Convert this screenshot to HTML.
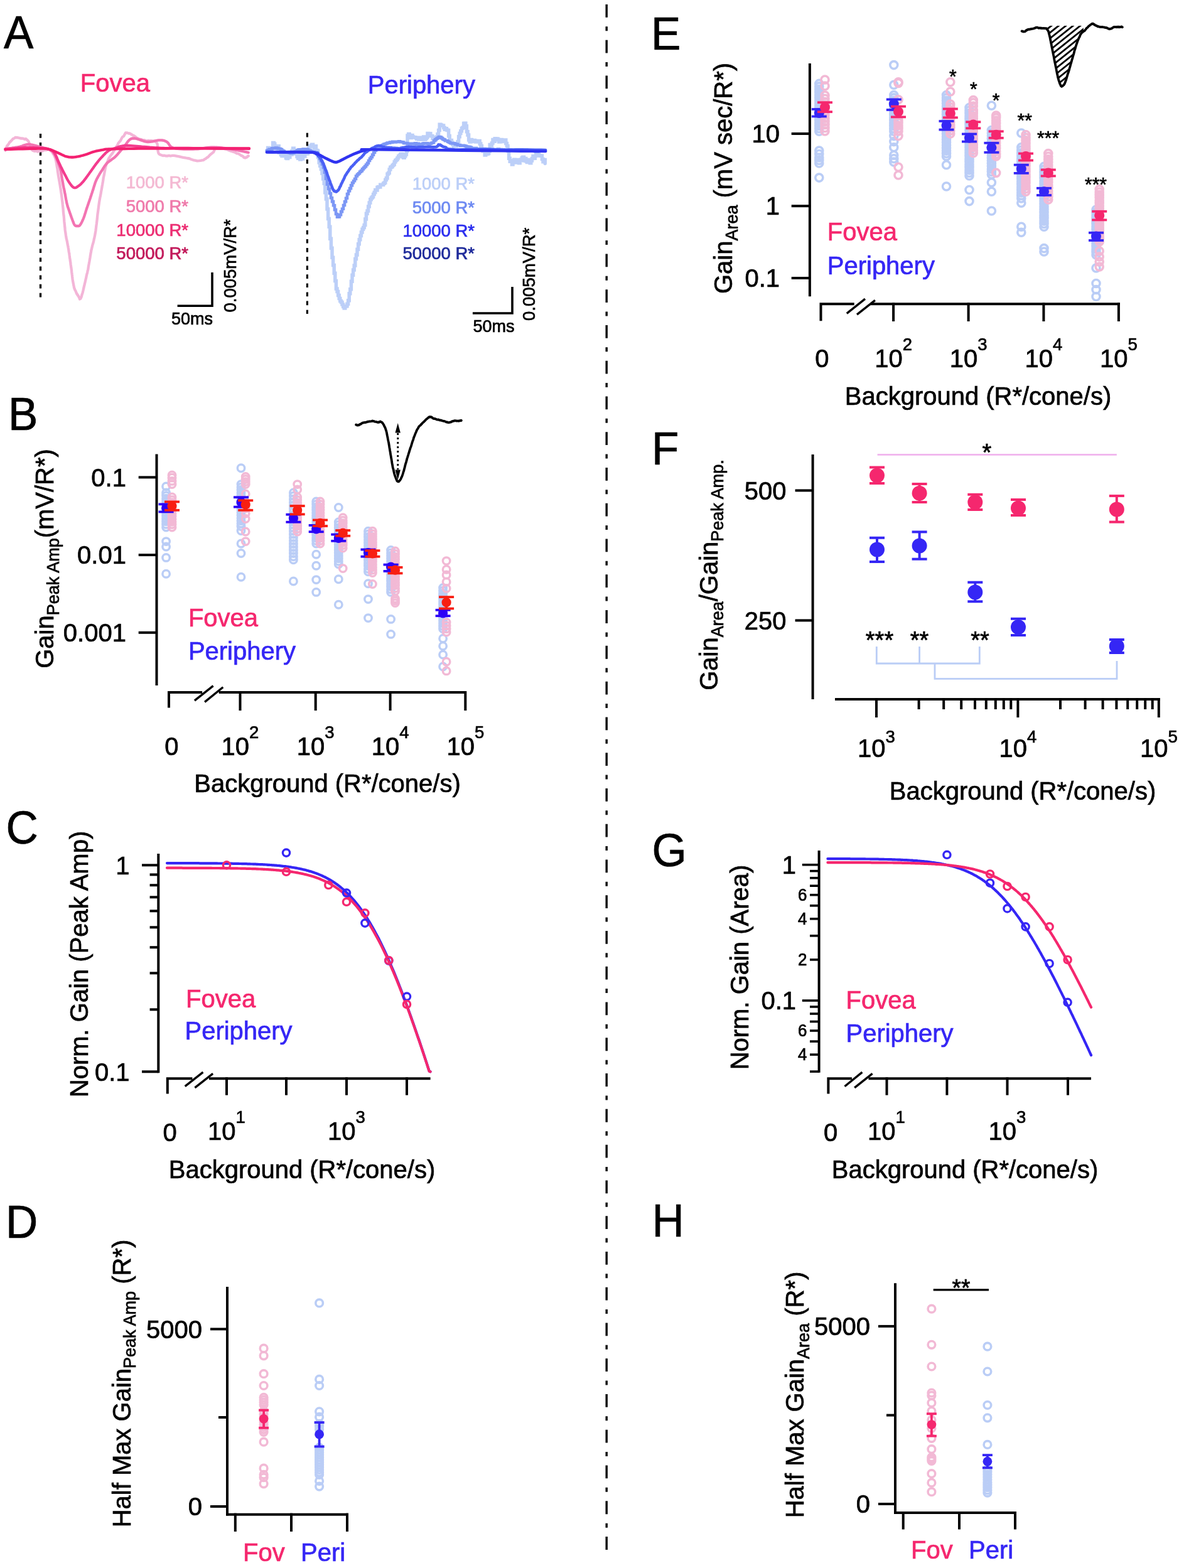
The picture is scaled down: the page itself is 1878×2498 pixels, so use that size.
<!DOCTYPE html>
<html><head><meta charset="utf-8"><title>Figure</title>
<style>
html,body{margin:0;padding:0;background:#fff;}
svg{display:block;}
text{font-family:'Liberation Sans', Arial, Helvetica, sans-serif;}
</style></head>
<body>
<svg width="1878" height="2498" viewBox="0 0 1878 2498">
<rect width="1878" height="2498" fill="#fff"/>
<line x1="966.2" y1="7" x2="966.2" y2="2470" stroke="#000" stroke-width="3.4" stroke-dasharray="20.8 14.5 7 14.47"/>
<text x="6" y="77" font-size="71" fill="#000" stroke="#000" stroke-width="0.7" text-anchor="start" transform="translate(6 77) scale(1 1.035) translate(-6 -77)" >A</text>
<text x="13" y="685" font-size="71" fill="#000" stroke="#000" stroke-width="0.7" text-anchor="start" transform="translate(13 685) scale(1 1.035) translate(-13 -685)" >B</text>
<text x="9.5" y="1344" font-size="71" fill="#000" stroke="#000" stroke-width="0.7" text-anchor="start" transform="translate(9.5 1344) scale(1 1.035) translate(-9.5 -1344)" >C</text>
<text x="9" y="1972" font-size="71" fill="#000" stroke="#000" stroke-width="0.7" text-anchor="start" transform="translate(9 1972) scale(1 1.035) translate(-9 -1972)" >D</text>
<text x="1037" y="79" font-size="71" fill="#000" stroke="#000" stroke-width="0.7" text-anchor="start" transform="translate(1037 79) scale(1 1.035) translate(-1037 -79)" >E</text>
<text x="1038" y="740" font-size="71" fill="#000" stroke="#000" stroke-width="0.7" text-anchor="start" transform="translate(1038 740) scale(1 1.035) translate(-1038 -740)" >F</text>
<text x="1038.5" y="1380.5" font-size="71" fill="#000" stroke="#000" stroke-width="0.7" text-anchor="start" transform="translate(1038.5 1380.5) scale(1 1.035) translate(-1038.5 -1380.5)" >G</text>
<text x="1038.5" y="1970" font-size="71" fill="#000" stroke="#000" stroke-width="0.7" text-anchor="start" transform="translate(1038.5 1970) scale(1 1.035) translate(-1038.5 -1970)" >H</text>
<text x="127.8" y="146" font-size="40" fill="#F5276E" stroke="#F5276E" stroke-width="0.7" text-anchor="start" transform="translate(127.8 146) scale(1 1.035) translate(-127.8 -146)" >Fovea</text>
<text x="585.8" y="148.7" font-size="40" fill="#3526F5" stroke="#3526F5" stroke-width="0.7" text-anchor="start" transform="translate(585.8 148.7) scale(1 1.035) translate(-585.8 -148.7)" >Periphery</text>
<line x1="64.5" y1="213" x2="64.5" y2="477" stroke="#000" stroke-width="3.3" stroke-dasharray="6.7 7.4"/>
<line x1="489.4" y1="211.7" x2="489.4" y2="500" stroke="#000" stroke-width="3.2" stroke-dasharray="6.7 7.4"/>
<path d="M8.5,239.7 L8.7,239.4 L8.9,238.7 L9.2,238.2 L9.4,237.6 L9.7,236.1 L10.1,234.8 L10.5,234.6 L10.9,233.4 L11.3,232.2 L11.8,232.1 L12.4,231 L13,230.5 L13.7,229.4 L14.4,228.5 L15.1,226.9 L15.9,226.2 L16.7,225.6 L17.6,224.4 L18.5,223.7 L19.5,222.8 L20.4,221.2 L21.5,220.9 L22.5,220.4 L23.6,219.6 L24.8,218.8 L26,219.3 L27.4,219.1 L28.8,219.4 L30.2,219.8 L31.7,220 L33.1,220.5 L34.6,220.3 L35.9,220.7 L37.2,220.7 L38.3,221.4 L39.3,221.9 L40.2,221.3 L40.9,221.1 L41.6,221.3 L42.2,222.4 L42.7,222.5 L43.2,223 L43.6,223.1 L44,223.7 L44.5,224.1 L44.9,224.5 L45.4,225.4 L45.9,226.3 L46.4,227.6 L46.9,228.6 L47.4,230 L47.8,231.3 L48.3,232.8 L48.7,233.9 L49.2,234.4 L49.7,236 L50.3,237.5 L50.9,238.7 L51.6,239.3 L52.4,240 L53.3,239.9 L54.2,240.7 L55.3,240.9 L56.4,240.7 L57.6,240.3 L58.8,241 L60,241.6 L61.2,240.8 L62.3,241.1 L63.4,240.8 L64.5,240.3 L65.5,240.1 L66.4,240.5 L67.3,240.8 L68.2,239.9 L69.1,239.8 L69.9,239 L70.7,239.2 L71.5,238.7 L72.2,239 L73,239.2 L73.7,238.7 L74.3,238.9 L75,238.3 L75.6,237.7 L76.2,237.9 L76.8,237.5 L77.3,237.4 L77.8,237.7 L78.3,238.2 L78.7,238 L79.2,237.9 L79.7,239 L80.1,239.1 L80.5,240 L81,240.7 L81.5,240.7 L81.9,241 L82.4,241.4 L82.8,242 L83.2,242.6 L83.7,243.2 L84.1,243.8 L84.5,244.9 L84.9,245.3 L85.3,245.7 L85.6,246.6 L86,246.9 L86.3,247.4 L86.7,248.9 L87,249.5 L87.3,250.2 L87.6,250.3 L87.9,251.2 L88.1,252.3 L88.4,252.7 L88.7,254.2 L88.9,255.5 L89.2,256.2 L89.5,257.8 L89.8,259.3 L90.1,261 L90.3,262.4 L90.6,264.3 L90.9,266.3 L91.1,267.3 L91.4,268.8 L91.7,271.2 L92,273.9 L92.3,275.4 L92.6,277.4 L92.9,279.7 L93.3,281.6 L93.6,283.7 L94,285.8 L94.4,288.1 L94.9,290.8 L95.3,293 L95.7,295.4 L96.1,298.4 L96.5,300.3 L96.9,303.1 L97.3,306.1 L97.7,308.4 L98,310.7 L98.4,314 L98.7,316.4 L99,319 L99.4,322 L99.7,325.3 L100,327.7 L100.3,330.6 L100.6,333.4 L100.8,336.8 L101.1,339.4 L101.4,342.4 L101.7,344.4 L101.9,346.7 L102.1,349.4 L102.3,352.2 L102.5,354.3 L102.7,356.2 L102.9,358.1 L103.1,360.6 L103.4,362.6 L103.6,365.5 L103.9,368.1 L104.2,369.9 L104.5,372 L104.9,374.8 L105.3,377.2 L105.7,379.8 L106.2,381.7 L106.6,383.5 L107.1,385.7 L107.5,388.5 L107.9,390.4 L108.4,392.5 L108.7,394.6 L109.1,396.7 L109.4,398.7 L109.7,401.3 L110.1,402.6 L110.3,403.9 L110.6,406.6 L110.9,408.7 L111.1,410.9 L111.4,412.2 L111.7,414.3 L111.9,416.2 L112.2,417.3 L112.4,419.3 L112.6,421.3 L112.9,423.1 L113.1,424.7 L113.3,426.2 L113.6,427.9 L113.8,429.5 L114,431.1 L114.2,433.3 L114.4,435 L114.7,437.3 L114.9,438.4 L115.1,440.7 L115.3,442.4 L115.5,444.3 L115.8,446.1 L116,447.7 L116.2,448.8 L116.4,449.3 L116.6,451.1 L116.9,451.9 L117.1,453 L117.3,454.6 L117.6,455.7 L117.8,456.7 L118,458.2 L118.3,459 L118.5,459.5 L118.8,459.8 L119,461 L119.3,461.5 L119.6,462.4 L119.8,462.6 L120.1,462.7 L120.4,463.5 L120.7,464.5 L121,464.7 L121.3,465.8 L121.7,466.9 L122.1,467.8 L122.5,468.6 L122.9,468.4 L123.3,469.4 L123.7,470.5 L124.1,470.4 L124.4,470.9 L124.8,471.4 L125.1,472.2 L125.4,472.7 L125.7,473.3 L125.9,474.1 L126.1,473.9 L126.2,473.9 L126.4,474.2 L126.6,474.5 L126.7,474.6 L126.8,475.9 L127,476.5 L127.1,476 L127.3,476.2 L127.5,476 L127.7,475.8 L127.9,475.7 L128.1,475.9 L128.3,475.9 L128.5,475.5 L128.7,474.9 L128.9,474.5 L129.1,473.7 L129.4,473.5 L129.6,473.2 L129.9,472.2 L130.2,470.8 L130.5,469.5 L130.9,468.4 L131.3,467.3 L131.7,466.1 L132.1,464.2 L132.5,462.7 L132.9,460.9 L133.4,458.8 L133.8,456.7 L134.3,454.9 L134.7,453.3 L135.1,451.3 L135.5,449.8 L135.9,447.9 L136.4,445.7 L136.8,444.1 L137.2,442.5 L137.6,440.1 L138,438.4 L138.4,436.6 L138.9,435.3 L139.2,433.9 L139.6,431.7 L140,430.2 L140.4,428.5 L140.7,426.1 L141,424.1 L141.4,421.8 L141.7,420.4 L142,418.7 L142.3,417.2 L142.6,415.5 L142.9,413.7 L143.2,412 L143.5,410.1 L143.8,407.8 L144.1,406.5 L144.4,404.4 L144.6,402.9 L144.9,402.2 L145.1,400.5 L145.4,399 L145.6,397.6 L145.9,397.2 L146.2,395.6 L146.5,393.8 L146.8,393.1 L147.1,391.2 L147.5,390.2 L147.8,388.9 L148.2,387.7 L148.6,386.5 L149,384.7 L149.4,383.2 L149.8,380.7 L150.3,379.2 L150.7,377.2 L151.1,375.2 L151.6,372.3 L152,370.1 L152.4,367.8 L152.9,363.8 L153.3,360.2 L153.8,356.8 L154.2,353.5 L154.7,349.2 L155.1,345 L155.5,341 L156,337.6 L156.4,334.4 L156.9,330.8 L157.3,327.5 L157.7,324.6 L158.1,321.8 L158.5,319.3 L159,316.4 L159.4,314.3 L159.8,312.8 L160.2,310.3 L160.6,308.4 L161,305.6 L161.4,303.7 L161.8,301.6 L162.2,299.3 L162.6,296.7 L163.1,294.1 L163.5,291.6 L163.9,289.4 L164.4,286.1 L164.8,283 L165.3,281 L165.7,279 L166.2,276.5 L166.6,274.1 L167,272.2 L167.4,269.8 L167.8,267.9 L168.1,266.2 L168.5,265.2 L168.8,263.8 L169.1,262.5 L169.4,261.9 L169.7,261.5 L170,260.1 L170.4,259.3 L170.8,258.2 L171.2,257.5 L171.7,256.4 L172.2,254.8 L172.8,253.4 L173.4,251.9 L174.1,251.2 L174.7,250.2 L175.4,248.9 L176.1,247.9 L176.8,246.9 L177.5,246.4 L178.2,244.9 L178.9,244.6 L179.6,243.4 L180.2,242.3 L180.9,241.1 L181.5,240.4 L182.2,239.5 L182.8,238.2 L183.4,236.9 L184.1,236 L184.7,235.2 L185.4,233.7 L186,232.7 L186.7,232 L187.4,230.6 L188.1,228.9 L188.9,227.5 L189.7,226.7 L190.4,225.7 L191.3,224.9 L192.1,223.9 L192.9,222.1 L193.7,220.5 L194.4,219.3 L195.2,218.1 L195.9,217.7 L196.6,217.3 L197.2,216.9 L197.7,215.6 L198.1,215.3 L198.5,214.2 L198.8,213.5 L199.2,213.2 L199.6,212.2 L200.1,211.5 L200.7,211.9 L201.5,211.6 L202.4,211.5 L203.5,211.9 L204.8,212.5 L206.3,212.5 L208,213.3 L209.8,214.4 L211.8,215.6 L213.8,216.5 L215.8,218 L217.9,219.8 L220,220.6 L222.1,221.6 L224.1,221.9 L226,222.5 L227.9,223.4 L230,223.2 L232.1,224.1 L234.2,224.5 L236.3,223.8 L238.4,224.4 L240.4,224.1 L242.4,224.4 L244.2,224.8 L245.9,224.7 L247.4,225.4 L248.7,226.3 L249.7,227.7 L250.4,228.6 L250.8,230.6 L251,232.8 L251.1,234.7 L251.2,236.5 L251.3,237.8 L251.5,239.9 L251.8,241.6 L252.3,243.6 L253.2,245.2 L254.4,246.2 L255.9,246.6 L257.7,247.4 L259.7,248 L261.8,247.7 L264.1,248.4 L266.6,248.5 L269.1,247.9 L271.7,248.5 L274.4,247.9 L277.1,247.9 L279.9,248.4 L282.6,248.9 L285.4,249.4 L288.4,250.2 L291.6,250.8 L294.9,251.4 L298.2,252 L301.5,252.5 L304.9,253.9 L308.1,255.1 L311.2,255.6 L314.2,256.3 L316.9,256.1 L319.4,255.8 L321.7,255.3 L323.8,255.2 L325.8,253.7 L327.6,252.8 L329.3,251.3 L331,250.5 L332.5,249 L333.9,247.4 L335.3,246.1 L336.6,245 L337.8,244.2 L339,243 L340,242.5 L340.8,240.9 L341.3,239.8 L341.7,238.5 L342.1,237.4 L342.4,237.3 L342.8,236.9 L343.3,235.8 L343.9,235 L344.8,234.7 L346,235 L347.6,235.4 L349.6,235.8 L352.1,236.2 L354.9,236.4 L358,237.3 L361.3,238 L364.6,239.4 L368,240.8 L371.2,241.7 L374.3,242.7 L377.1,244.3 L379.6,244.7 L381.6,246 L383.2,247.1 L384.5,248.1 L385.6,248.2 L386.4,248.7 L387.1,249.1 L387.6,249.7 L388,250.5 L388.3,250.8 L388.7,250.6 L389.1,251.2 L389.5,251.2 L390,251.3 L390.6,251.5 L391.2,250.7 L391.7,251 L392.3,251 L392.9,250.6 L393.4,250.3 L393.9,249.9 L394.3,249.2 L394.7,249.1 L395.1,248.4 L395.4,248.4 L395.7,248.6" stroke="#F3B5D7" stroke-width="4.3" fill="none" stroke-linejoin="round" stroke-linecap="round" />
<path d="M8.5,237 L9.8,236.8 L11.5,236.6 L13.6,236.4 L15.9,236.1 L18.3,235.8 L20.8,235.4 L23.4,235.1 L25.8,234.7 L28,234.4 L30,234 L31.8,233.6 L33.4,233.2 L35,232.7 L36.5,232.1 L37.9,231.6 L39.3,231.1 L40.7,230.7 L42.1,230.4 L43.5,230.1 L45,230 L46.5,230 L48,230.1 L49.5,230.4 L51,230.6 L52.5,231 L54,231.4 L55.5,231.8 L57,232.2 L58.5,232.6 L60,233 L61.5,233.4 L63.1,233.8 L64.8,234.2 L66.4,234.6 L68,235 L69.6,235.5 L71.1,235.9 L72.6,236.3 L73.9,236.7 L75,237 L76,237.3 L76.8,237.5 L77.5,237.7 L78.2,237.8 L78.7,238 L79.2,238.1 L79.7,238.3 L80.2,238.6 L80.7,238.9 L81.3,239.3 L81.9,239.8 L82.5,240.3 L83.1,240.9 L83.7,241.6 L84.3,242.2 L84.9,242.9 L85.4,243.7 L86,244.4 L86.5,245.2 L87,246 L87.5,246.8 L87.9,247.6 L88.3,248.3 L88.7,249.1 L89,250 L89.4,250.9 L89.8,251.8 L90.1,252.8 L90.6,253.8 L91,255 L91.5,256.2 L92,257.6 L92.6,258.9 L93.1,260.4 L93.7,261.9 L94.3,263.4 L94.8,265 L95.3,266.6 L95.8,268.3 L96.3,270 L96.7,271.7 L97.1,273.5 L97.4,275.4 L97.7,277.3 L98,279.2 L98.3,281.2 L98.6,283.1 L98.9,285.1 L99.3,287.1 L99.6,289 L100,290.9 L100.4,292.9 L100.7,294.9 L101.1,296.9 L101.5,298.9 L102,300.9 L102.4,302.8 L102.7,304.8 L103.1,306.7 L103.5,308.5 L103.9,310.3 L104.2,312.1 L104.5,313.9 L104.8,315.6 L105.1,317.4 L105.5,319.1 L105.8,320.7 L106.1,322.3 L106.4,323.8 L106.8,325.3 L107.2,326.7 L107.5,328 L107.9,329.2 L108.3,330.4 L108.7,331.6 L109.1,332.7 L109.5,333.8 L109.9,335 L110.3,336.1 L110.7,337.3 L111.1,338.5 L111.5,339.8 L112,341 L112.4,342.3 L112.9,343.5 L113.3,344.8 L113.7,346 L114.2,347.2 L114.6,348.3 L115,349.4 L115.4,350.5 L115.8,351.5 L116.2,352.6 L116.6,353.6 L117,354.6 L117.3,355.6 L117.7,356.4 L118.1,357.2 L118.5,357.9 L118.9,358.5 L119.3,359 L119.7,359.3 L120.1,359.6 L120.5,359.8 L120.9,359.9 L121.3,360 L121.7,360 L122.2,360 L122.6,360 L123,360 L123.4,360 L123.9,360.1 L124.3,360.1 L124.7,360.1 L125.1,360.1 L125.6,360 L126,359.8 L126.5,359.5 L127,359.1 L127.5,358.5 L128,357.8 L128.6,356.9 L129.2,355.9 L129.8,354.8 L130.4,353.6 L131,352.3 L131.6,351 L132.2,349.7 L132.8,348.3 L133.3,347 L133.8,345.7 L134.3,344.3 L134.8,342.9 L135.2,341.4 L135.7,339.9 L136.2,338.4 L136.6,336.9 L137.1,335.4 L137.5,334 L138,332.5 L138.5,331 L139,329.6 L139.5,328.1 L140,326.7 L140.5,325.2 L141,323.8 L141.5,322.3 L142,320.9 L142.5,319.4 L143,318 L143.5,316.6 L144,315.1 L144.4,313.7 L144.9,312.3 L145.4,310.9 L145.8,309.4 L146.3,308 L146.8,306.6 L147.2,305.1 L147.7,303.7 L148.2,302.2 L148.7,300.7 L149.1,299.2 L149.6,297.6 L150.1,296 L150.6,294.5 L151.1,293 L151.5,291.6 L152,290.3 L152.5,289 L153,287.8 L153.5,286.8 L153.9,285.7 L154.4,284.8 L154.9,283.9 L155.4,283 L155.9,282.1 L156.3,281.3 L156.8,280.4 L157.3,279.6 L157.8,278.8 L158.2,278 L158.6,277.3 L159,276.6 L159.4,276 L159.9,275.3 L160.3,274.5 L160.8,273.8 L161.4,272.9 L162,272 L162.7,271 L163.4,269.9 L164.1,268.7 L164.9,267.4 L165.7,266.2 L166.5,264.9 L167.4,263.6 L168.4,262.4 L169.4,261.1 L170.4,260 L171.5,258.9 L172.7,257.9 L174,257 L175.3,256 L176.7,255.1 L178,254.1 L179.4,253.1 L180.8,252.1 L182.2,251 L183.5,249.8 L184.8,248.5 L186.1,247.1 L187.4,245.7 L188.7,244.2 L190,242.7 L191.3,241.1 L192.6,239.6 L193.9,238 L195.3,236.5 L196.6,235 L197.9,233.4 L199.2,231.8 L200.4,230 L201.7,228.2 L202.9,226.5 L204.2,224.8 L205.6,223.4 L207.1,222.1 L208.8,221.1 L210.6,220.5 L212.6,220.3 L214.8,220.5 L217.2,220.9 L219.7,221.7 L222.2,222.5 L224.8,223.4 L227.4,224.3 L229.9,225.1 L232.3,225.7 L234.6,226 L236.8,226 L239,225.9 L241.1,225.6 L243.2,225.3 L245.3,224.8 L247.3,224.4 L249.2,224 L251.1,223.6 L252.8,223.4 L254.4,223.3 L255.9,223.3 L257.2,223.4 L258.4,223.5 L259.5,223.6 L260.6,223.9 L261.6,224.1 L262.6,224.5 L263.6,224.9 L264.6,225.4 L265.7,226 L266.7,226.7 L267.6,227.7 L268.4,228.7 L269.1,229.9 L269.9,231.1 L270.8,232.3 L271.9,233.4 L273.3,234.4 L275,235.3 L277,236 L279.5,236.5 L282.4,236.9 L285.7,237.2 L289.3,237.4 L293,237.5 L296.7,237.6 L300.5,237.6 L304.2,237.5 L307.7,237.5 L311,237.4 L314,237.3 L317,237 L319.8,236.7 L322.6,236.3 L325.3,235.9 L328.1,235.5 L330.8,235.2 L333.5,234.9 L336.2,234.7 L339,234.6 L341.8,234.6 L344.7,234.8 L347.5,234.9 L350.3,235.2 L353.2,235.5 L356,235.8 L358.9,236.2 L361.7,236.6 L364.6,237 L367.4,237.4 L370.4,237.9 L373.5,238.4 L376.8,239.1 L380.1,239.7 L383.3,240.4 L386.4,241 L389.3,241.6 L391.9,242.2 L394,242.7 L395.7,243" stroke="#F374B2" stroke-width="4.3" fill="none" stroke-linejoin="round" stroke-linecap="round" />
<path d="M8.5,238 L10.4,237.8 L12.9,237.5 L15.8,237.2 L19.1,236.8 L22.7,236.4 L26.4,236.1 L30,235.7 L33.6,235.4 L37,235.2 L40,235 L42.8,234.9 L45.6,234.9 L48.3,235 L51,235.1 L53.6,235.2 L56.1,235.3 L58.5,235.5 L60.8,235.7 L63,235.8 L65,236 L66.8,236.1 L68.5,236.3 L70.1,236.4 L71.5,236.6 L72.9,236.7 L74.1,236.9 L75.3,237.1 L76.4,237.4 L77.5,237.7 L78.6,238 L79.6,238.3 L80.5,238.6 L81.4,238.9 L82.2,239.3 L82.9,239.7 L83.6,240.1 L84.3,240.7 L85,241.3 L85.7,242.2 L86.5,243.2 L87.3,244.4 L88.1,245.9 L88.9,247.5 L89.7,249.3 L90.5,251.1 L91.2,253 L92,254.9 L92.8,256.8 L93.6,258.6 L94.4,260.3 L95.2,261.9 L96,263.6 L96.7,265.2 L97.5,266.7 L98.3,268.3 L99.1,269.9 L99.9,271.4 L100.6,273 L101.4,274.5 L102.2,276 L103,277.5 L103.8,279.1 L104.6,280.6 L105.4,282.1 L106.1,283.6 L106.9,285.1 L107.7,286.5 L108.5,287.9 L109.3,289.2 L110.1,290.4 L110.9,291.5 L111.7,292.7 L112.5,293.8 L113.3,294.8 L114.1,295.8 L114.8,296.7 L115.6,297.5 L116.4,298.1 L117.2,298.6 L118,299 L118.8,299.2 L119.6,299.2 L120.3,299 L121.1,298.8 L121.9,298.4 L122.7,297.9 L123.5,297.4 L124.2,296.8 L125,296.3 L125.8,295.7 L126.6,295.1 L127.3,294.5 L128.1,293.9 L128.8,293.2 L129.6,292.4 L130.3,291.6 L131.1,290.8 L132,289.9 L132.8,288.9 L133.7,287.8 L134.6,286.6 L135.6,285.3 L136.7,284 L137.7,282.5 L138.8,281 L139.9,279.5 L141,277.9 L142.1,276.4 L143.1,274.9 L144.2,273.4 L145.3,271.9 L146.3,270.5 L147.4,269 L148.5,267.5 L149.5,266 L150.6,264.5 L151.7,263 L152.7,261.6 L153.7,260.3 L154.7,259 L155.7,257.8 L156.6,256.6 L157.5,255.5 L158.4,254.4 L159.3,253.4 L160.2,252.4 L161.1,251.4 L162,250.4 L162.9,249.5 L163.8,248.5 L164.7,247.5 L165.6,246.6 L166.5,245.7 L167.4,244.7 L168.3,243.8 L169.2,243 L170.1,242.2 L171.1,241.4 L172,240.7 L173,240 L174,239.4 L174.9,238.9 L175.9,238.5 L176.8,238.1 L177.8,237.7 L178.8,237.4 L179.9,237.1 L181,236.7 L182.2,236.4 L183.5,236 L184.8,235.6 L186.2,235.1 L187.6,234.6 L189,234.1 L190.5,233.6 L192.1,233.2 L193.9,232.8 L195.7,232.4 L197.8,232.2 L200,232 L202.5,232 L205.1,232 L208,232.2 L211,232.4 L214.2,232.6 L217.4,232.9 L220.6,233.2 L223.8,233.5 L226.9,233.8 L230,234 L233,234.2 L235.8,234.4 L238.7,234.7 L241.5,234.9 L244.4,235.1 L247.3,235.3 L250.3,235.5 L253.4,235.7 L256.6,235.9 L260,236 L263.3,236.1 L266.4,236.1 L269.5,236.1 L272.5,236.1 L275.8,236.1 L279.4,236 L283.5,236 L288.2,236 L293.6,236 L300,236 L307.8,236.1 L317.3,236.2 L328,236.3 L339.4,236.4 L351,236.5 L362.4,236.6 L373.2,236.7 L382.9,236.8 L391,236.9 L397,237" stroke="#F43C8E" stroke-width="4.3" fill="none" stroke-linejoin="round" stroke-linecap="round" />
<path d="M8.5,238 L12.1,237.9 L17,237.8 L22.8,237.6 L29.3,237.4 L36.2,237.3 L43.1,237.1 L49.8,236.9 L56,236.8 L61.3,236.7 L65.5,236.7 L68.6,236.7 L70.9,236.7 L72.7,236.8 L73.9,236.8 L74.8,236.9 L75.5,237.1 L76.1,237.2 L76.7,237.4 L77.5,237.7 L78.6,238 L79.9,238.4 L81.2,238.8 L82.5,239.3 L83.8,239.8 L85.1,240.3 L86.5,240.9 L87.8,241.5 L89.1,242.1 L90.4,242.6 L91.7,243.2 L93,243.8 L94.4,244.4 L95.7,245.1 L97.1,245.7 L98.4,246.4 L99.7,247 L101.1,247.6 L102.3,248.2 L103.6,248.7 L104.8,249.1 L106,249.4 L107.1,249.7 L108.1,249.9 L109.2,250.1 L110.2,250.3 L111.2,250.4 L112.2,250.4 L113.2,250.5 L114.3,250.5 L115.3,250.5 L116.3,250.5 L117.4,250.4 L118.4,250.3 L119.4,250.2 L120.5,250.1 L121.5,249.9 L122.6,249.7 L123.6,249.5 L124.7,249.3 L125.8,249.1 L126.9,248.9 L128.1,248.6 L129.2,248.3 L130.4,248 L131.5,247.7 L132.7,247.4 L133.9,247 L135.1,246.7 L136.4,246.3 L137.6,245.9 L138.9,245.5 L140.1,245 L141.4,244.6 L142.7,244.1 L144.1,243.6 L145.4,243.1 L146.7,242.6 L148.1,242.1 L149.4,241.7 L150.7,241.3 L152,241 L153.3,240.6 L154.6,240.3 L155.9,240.1 L157.2,239.8 L158.6,239.6 L159.9,239.3 L161.2,239.1 L162.5,238.9 L163.8,238.7 L164.8,238.5 L165.5,238.4 L165.9,238.2 L166.2,238.1 L166.7,237.9 L167.4,237.8 L168.6,237.7 L170.5,237.6 L173.3,237.5 L177,237.4 L181.5,237.3 L186.6,237.2 L192.2,237.1 L198.3,237 L205.1,236.9 L212.6,236.8 L220.8,236.7 L229.7,236.6 L239.4,236.6 L250,236.5 L262.4,236.5 L277,236.4 L293.3,236.4 L310.5,236.4 L328.1,236.4 L345.2,236.5 L361.4,236.5 L375.8,236.5 L387.9,236.5 L397,236.5" stroke="#F42171" stroke-width="4.3" fill="none" stroke-linejoin="round" stroke-linecap="round" />
<path d="M425,239.5 L426.6,239.5 L426.6,235.6 L428.2,235.6 L428.2,236.4 L429.8,236.4 L429.8,238.2 L431.4,238.2 L431.4,236.3 L433,236.3 L433,237.7 L434.6,237.7 L434.6,227.5 L436.2,227.5 L436.2,229.2 L437.8,229.2 L437.8,235.6 L439.4,235.6 L439.4,234.7 L441,234.7 L441,238 L442.6,238 L442.6,232.7 L444.2,232.7 L444.2,243.3 L445.8,243.3 L445.8,243 L447.4,243 L447.4,246.6 L449,246.6 L449,248.4 L450.6,248.4 L450.6,242.4 L452.2,242.4 L452.2,242.8 L453.8,242.8 L453.8,243.7 L455.4,243.7 L455.4,251.7 L457,251.7 L457,252.6 L458.6,252.6 L458.6,245.5 L460.2,245.5 L460.2,250.5 L461.8,250.5 L461.8,243.7 L463.4,243.7 L463.4,246.2 L465,246.2 L465,240.3 L466.6,240.3 L466.6,236.2 L468.2,236.2 L468.2,245.1 L469.8,245.1 L469.8,240.6 L471.4,240.6 L471.4,239.8 L473,239.8 L473,249.4 L474.6,249.4 L474.6,252.3 L476.2,252.3 L476.2,247.1 L477.8,247.1 L477.8,254.1 L479.4,254.1 L479.4,251.9 L481,251.9 L481,253 L482.6,253 L482.6,246.9 L484.2,246.9 L484.2,249 L485.8,249 L485.8,243.3 L487.4,243.3 L487.4,244.9 L489,244.9 L489,244.7 L490.6,244.7 L490.6,237.4 L492.2,237.4 L492.2,235.6 L493.8,235.6 L493.8,232.7 L495.4,232.7 L495.4,231.5 L497,231.5 L497,230.3 L498.6,230.3 L498.6,233 L500.2,233 L500.2,237.8 L501.8,237.8 L501.8,232.7 L503.4,232.7 L503.4,239.6 L505,239.6 L505,240.3 L506.6,240.3 L506.6,250.6 L508.2,250.6 L508.2,259 L509.8,259 L509.8,264.2 L511.4,264.2 L511.4,269.4 L513,269.4 L513,276.3 L514.6,276.3 L514.6,284.9 L516.2,284.9 L516.2,292.2 L517.8,292.2 L517.8,306.7 L519.4,306.7 L519.4,317 L521,317 L521,333 L522.6,333 L522.6,348.4 L524.2,348.4 L524.2,361.2 L525.8,361.2 L525.8,380.3 L527.4,380.3 L527.4,395.3 L529,395.3 L529,410.3 L530.6,410.3 L530.6,422.4 L532.2,422.4 L532.2,435.2 L533.8,435.2 L533.8,447.4 L535.4,447.4 L535.4,460 L537,460 L537,464.5 L538.6,464.5 L538.6,470.6 L540.2,470.6 L540.2,475.4 L541.8,475.4 L541.8,479.5 L543.4,479.5 L543.4,481.5 L545,481.5 L545,485 L546.6,485 L546.6,488.6 L548.2,488.6 L548.2,491 L549.8,491 L549.8,488.1 L551.4,488.1 L551.4,487.7 L553,487.7 L553,484.3 L554.6,484.3 L554.6,478.8 L556.2,478.8 L556.2,467.7 L557.8,467.7 L557.8,460.8 L559.4,460.8 L559.4,448.2 L561,448.2 L561,438.3 L562.6,438.3 L562.6,429.9 L564.2,429.9 L564.2,422.9 L565.8,422.9 L565.8,412.6 L567.4,412.6 L567.4,406 L569,406 L569,397.2 L570.6,397.2 L570.6,388.7 L572.2,388.7 L572.2,381.8 L573.8,381.8 L573.8,375.5 L575.4,375.5 L575.4,370 L577,370 L577,365.3 L578.6,365.3 L578.6,362.4 L580.2,362.4 L580.2,358.6 L581.8,358.6 L581.8,349.1 L583.4,349.1 L583.4,340.2 L585,340.2 L585,336.1 L586.6,336.1 L586.6,328.9 L588.2,328.9 L588.2,322.9 L589.8,322.9 L589.8,317.8 L591.4,317.8 L591.4,315.2 L593,315.2 L593,313.4 L594.6,313.4 L594.6,309.6 L596.2,309.6 L596.2,306.5 L597.8,306.5 L597.8,302.5 L599.4,302.5 L599.4,303.1 L601,303.1 L601,298.6 L602.6,298.6 L602.6,297.8 L604.2,297.8 L604.2,297.9 L605.8,297.9 L605.8,294.2 L607.4,294.2 L607.4,294.4 L609,294.4 L609,294.5 L610.6,294.5 L610.6,292.3 L612.2,292.3 L612.2,291.1 L613.8,291.1 L613.8,286.5 L615.4,286.5 L615.4,283.8 L617,283.8 L617,277.2 L618.6,277.2 L618.6,275.4 L620.2,275.4 L620.2,270 L621.8,270 L621.8,266.5 L623.4,266.5 L623.4,265.8 L625,265.8 L625,263.6 L626.6,263.6 L626.6,261.9 L628.2,261.9 L628.2,257.9 L629.8,257.9 L629.8,255.4 L631.4,255.4 L631.4,254.3 L633,254.3 L633,251.7 L634.6,251.7 L634.6,249 L636.2,249 L636.2,247.7 L637.8,247.7 L637.8,245.6 L639.4,245.6 L639.4,245.3 L641,245.3 L641,249.7 L642.6,249.7 L642.6,251.2 L644.2,251.2 L644.2,248.7 L645.8,248.7 L645.8,246 L647.4,246 L647.4,240.4 L649,240.4 L649,215.9 L650.6,215.9 L650.6,213.5 L652.2,213.5 L652.2,217.6 L653.8,217.6 L653.8,219.6 L655.4,219.6 L655.4,215.5 L657,215.5 L657,217.9 L658.6,217.9 L658.6,218.7 L660.2,218.7 L660.2,218.8 L661.8,218.8 L661.8,219.3 L663.4,219.3 L663.4,221.3 L665,221.3 L665,219.2 L666.6,219.2 L666.6,222 L668.2,222 L668.2,219.2 L669.8,219.2 L669.8,219.8 L671.4,219.8 L671.4,222.3 L673,222.3 L673,222.1 L674.6,222.1 L674.6,218.1 L676.2,218.1 L676.2,222.2 L677.8,222.2 L677.8,220.5 L679.4,220.5 L679.4,218.7 L681,218.7 L681,212.4 L682.6,212.4 L682.6,214.7 L684.2,214.7 L684.2,212.8 L685.8,212.8 L685.8,216.5 L687.4,216.5 L687.4,216.7 L689,216.7 L689,220.8 L690.6,220.8 L690.6,221.3 L692.2,221.3 L692.2,223 L693.8,223 L693.8,219 L695.4,219 L695.4,217.9 L697,217.9 L697,213.7 L698.6,213.7 L698.6,207.6 L700.2,207.6 L700.2,198.2 L701.8,198.2 L701.8,199.2 L703.4,199.2 L703.4,200.3 L705,200.3 L705,199.9 L706.6,199.9 L706.6,203.6 L708.2,203.6 L708.2,206.2 L709.8,206.2 L709.8,204.8 L711.4,204.8 L711.4,207 L713,207 L713,207.5 L714.6,207.5 L714.6,216.6 L716.2,216.6 L716.2,223.4 L717.8,223.4 L717.8,223.4 L719.4,223.4 L719.4,227.1 L721,227.1 L721,230.4 L722.6,230.4 L722.6,232.9 L724.2,232.9 L724.2,229.2 L725.8,229.2 L725.8,232.8 L727.4,232.8 L727.4,230 L729,230 L729,225.8 L730.6,225.8 L730.6,217.7 L732.2,217.7 L732.2,212.5 L733.8,212.5 L733.8,208.7 L735.4,208.7 L735.4,204.6 L737,204.6 L737,203.2 L738.6,203.2 L738.6,196.5 L740.2,196.5 L740.2,196.2 L741.8,196.2 L741.8,200.7 L743.4,200.7 L743.4,209.7 L745,209.7 L745,215 L746.6,215 L746.6,223.1 L748.2,223.1 L748.2,226 L749.8,226 L749.8,222.5 L751.4,222.5 L751.4,225.6 L753,225.6 L753,224.9 L754.6,224.9 L754.6,223.6 L756.2,223.6 L756.2,224.2 L757.8,224.2 L757.8,226.1 L759.4,226.1 L759.4,225.5 L761,225.5 L761,225.5 L762.6,225.5 L762.6,224.4 L764.2,224.4 L764.2,229.1 L765.8,229.1 L765.8,232.4 L767.4,232.4 L767.4,237.9 L769,237.9 L769,240.7 L770.6,240.7 L770.6,240 L772.2,240 L772.2,247.1 L773.8,247.1 L773.8,242.6 L775.4,242.6 L775.4,245.2 L777,245.2 L777,244.4 L778.6,244.4 L778.6,240.8 L780.2,240.8 L780.2,230.4 L781.8,230.4 L781.8,232.1 L783.4,232.1 L783.4,227.9 L785,227.9 L785,222.6 L786.6,222.6 L786.6,225.2 L788.2,225.2 L788.2,220.8 L789.8,220.8 L789.8,222.8 L791.4,222.8 L791.4,221.1 L793,221.1 L793,222.3 L794.6,222.3 L794.6,225.9 L796.2,225.9 L796.2,225.8 L797.8,225.8 L797.8,222.4 L799.4,222.4 L799.4,225.2 L801,225.2 L801,225.4 L802.6,225.4 L802.6,224 L804.2,224 L804.2,223 L805.8,223 L805.8,228.5 L807.4,228.5 L807.4,232.5 L809,232.5 L809,240.5 L810.6,240.5 L810.6,252.2 L812.2,252.2 L812.2,257.2 L813.8,257.2 L813.8,256.9 L815.4,256.9 L815.4,262 L817,262 L817,255.7 L818.6,255.7 L818.6,254.3 L820.2,254.3 L820.2,257.7 L821.8,257.7 L821.8,258.9 L823.4,258.9 L823.4,254.6 L825,254.6 L825,257 L826.6,257 L826.6,259.7 L828.2,259.7 L828.2,255.4 L829.8,255.4 L829.8,254 L831.4,254 L831.4,251.2 L833,251.2 L833,250.3 L834.6,250.3 L834.6,255.9 L836.2,255.9 L836.2,252.4 L837.8,252.4 L837.8,256.8 L839.4,256.8 L839.4,258.6 L841,258.6 L841,257.4 L842.6,257.4 L842.6,254.5 L844.2,254.5 L844.2,259.7 L845.8,259.7 L845.8,256 L847.4,256 L847.4,252.4 L849,252.4 L849,248.7 L850.6,248.7 L850.6,252.3 L852.2,252.3 L852.2,248.6 L853.8,248.6 L853.8,245.6 L855.4,245.6 L855.4,246.4 L857,246.4 L857,243.8 L858.6,243.8 L858.6,247.8 L860.2,247.8 L860.2,248.2 L861.8,248.2 L861.8,247.9 L863.4,247.9 L863.4,253.5 L865,253.5 L865,257.8 L866.6,257.8 L866.6,254.5 L868.2,254.5 L868.2,260.6" stroke="#BCCFF8" stroke-width="5.5" fill="none" stroke-linejoin="miter" stroke-linecap="round" />
<path d="M425,239.9 L427,239.9 L427,239 L429,239 L429,237.7 L431,237.7 L431,237.8 L433,237.8 L433,236.2 L435,236.2 L435,236 L437,236 L437,236.5 L439,236.5 L439,235.5 L441,235.5 L441,236 L443,236 L443,236.9 L445,236.9 L445,237 L447,237 L447,238.1 L449,238.1 L449,239.8 L451,239.8 L451,240.8 L453,240.8 L453,242.2 L455,242.2 L455,242.4 L457,242.4 L457,242.8 L459,242.8 L459,242.9 L461,242.9 L461,243.5 L463,243.5 L463,244.1 L465,244.1 L465,243.6 L467,243.6 L467,243.1 L469,243.1 L469,241.8 L471,241.8 L471,241.2 L473,241.2 L473,239.5 L475,239.5 L475,238.5 L477,238.5 L477,238.4 L479,238.4 L479,238.4 L481,238.4 L481,238.1 L483,238.1 L483,237.5 L485,237.5 L485,237.7 L487,237.7 L487,237.9 L489,237.9 L489,238.4 L491,238.4 L491,239.9 L493,239.9 L493,240 L495,240 L495,241.5 L497,241.5 L497,242.6 L499,242.6 L499,242.3 L501,242.3 L501,243.1 L503,243.1 L503,244.1 L505,244.1 L505,245 L507,245 L507,248.5 L509,248.5 L509,253 L511,253 L511,256.5 L513,256.5 L513,261.7 L515,261.7 L515,266.9 L517,266.9 L517,274.7 L519,274.7 L519,284.7 L521,284.7 L521,293.6 L523,293.6 L523,301.1 L525,301.1 L525,308 L527,308 L527,315.2 L529,315.2 L529,321.1 L531,321.1 L531,327.3 L533,327.3 L533,334.1 L535,334.1 L535,341 L537,341 L537,345.8 L539,345.8 L539,345.5 L541,345.5 L541,342.2 L543,342.2 L543,337.1 L545,337.1 L545,332.7 L547,332.7 L547,327 L549,327 L549,321.3 L551,321.3 L551,315.8 L553,315.8 L553,309 L555,309 L555,304.3 L557,304.3 L557,300.1 L559,300.1 L559,295.4 L561,295.4 L561,291.2 L563,291.2 L563,288.3 L565,288.3 L565,285 L567,285 L567,280.5 L569,280.5 L569,278 L571,278 L571,276.3 L573,276.3 L573,273.7 L575,273.7 L575,272.1 L577,272.1 L577,269.4 L579,269.4 L579,267.2 L581,267.2 L581,265.1 L583,265.1 L583,262.5 L585,262.5 L585,259.9 L587,259.9 L587,256 L589,256 L589,252.8 L591,252.8 L591,250.2 L593,250.2 L593,246.6 L595,246.6 L595,243 L597,243 L597,239.7 L599,239.7 L599,237.9 L601,237.9 L601,236.1 L603,236.1 L603,233.8 L605,233.8 L605,233.4 L607,233.4 L607,232 L609,232 L609,231 L611,231 L611,229.8 L613,229.8 L613,229.2 L615,229.2 L615,228.5 L617,228.5 L617,227.5 L619,227.5 L619,227.6 L621,227.6 L621,226.6 L623,226.6 L623,226.9 L625,226.9 L625,225.7 L627,225.7 L627,226.2 L629,226.2 L629,226.4 L631,226.4 L631,225.9 L633,225.9 L633,226 L635,226 L635,225.4 L637,225.4 L637,226.1 L639,226.1 L639,226.3 L641,226.3 L641,226.5 L643,226.5 L643,228 L645,228 L645,228.1 L647,228.1 L647,228.3 L649,228.3 L649,229.2 L651,229.2 L651,228.9 L653,228.9 L653,229.2 L655,229.2 L655,228.7 L657,228.7 L657,229.5 L659,229.5 L659,229 L661,229 L661,228.4 L663,228.4 L663,229.6 L665,229.6 L665,228.9 L667,228.9 L667,229.8 L669,229.8 L669,230.4 L671,230.4 L671,230.1 L673,230.1 L673,228.9 L675,228.9 L675,228.4 L677,228.4 L677,228.3 L679,228.3 L679,228.4 L681,228.4 L681,228.8 L683,228.8 L683,229.5 L685,229.5 L685,228.8 L687,228.8 L687,227.8 L689,227.8 L689,227.2 L691,227.2 L691,224.2 L693,224.2 L693,222.2 L695,222.2 L695,220.8 L697,220.8 L697,219.5 L699,219.5 L699,218 L701,218 L701,218.6 L703,218.6 L703,220.1 L705,220.1 L705,221.8 L707,221.8 L707,222.6 L709,222.6 L709,224.3 L711,224.3 L711,224.3 L713,224.3 L713,225.6 L715,225.6 L715,226.8 L717,226.8 L717,228 L719,228 L719,228.4 L721,228.4 L721,228.3 L723,228.3 L723,228.5 L725,228.5 L725,229.6 L727,229.6 L727,229.9 L729,229.9 L729,231 L731,231 L731,231 L733,231 L733,232.2 L735,232.2 L735,232.1 L737,232.1 L737,231.9 L739,231.9 L739,232.2 L741,232.2 L741,232.9 L743,232.9 L743,233.6 L745,233.6 L745,233.9 L747,233.9 L747,234 L749,234 L749,234.8 L751,234.8 L751,236.1 L753,236.1 L753,236.3 L755,236.3 L755,237.1 L757,237.1 L757,236.1 L759,236.1 L759,237.2 L761,237.2 L761,237.7 L763,237.7 L763,237.5 L765,237.5 L765,237.4 L767,237.4 L767,237.4 L769,237.4 L769,238 L771,238 L771,237.1 L773,237.1 L773,237.5 L775,237.5 L775,237.6 L777,237.6 L777,237.3 L779,237.3 L779,237.9 L781,237.9 L781,238.2 L783,238.2 L783,237.5 L785,237.5 L785,238 L787,238 L787,238 L789,238 L789,238 L791,238 L791,238.3 L793,238.3 L793,237.6 L795,237.6 L795,238.1 L797,238.1 L797,238 L799,238 L799,238.9 L801,238.9 L801,238.3 L803,238.3 L803,239 L805,239 L805,239.2 L807,239.2 L807,239.2 L809,239.2 L809,239.6 L811,239.6 L811,238.6 L813,238.6 L813,238.9 L815,238.9 L815,239.1 L817,239.1 L817,239.4 L819,239.4 L819,239.1 L821,239.1 L821,238.5 L823,238.5 L823,238.3 L825,238.3 L825,238.9 L827,238.9 L827,238.6 L829,238.6 L829,238.3 L831,238.3 L831,238.6 L833,238.6 L833,239 L835,239 L835,239.3 L837,239.3 L837,238.7 L839,238.7 L839,239.6 L841,239.6 L841,239.4 L843,239.4 L843,240.1 L845,240.1 L845,239.2 L847,239.2 L847,240.3 L849,240.3 L849,240.3 L851,240.3 L851,241 L853,241 L853,241.4 L855,241.4 L855,241.4 L857,241.4 L857,240.3 L859,240.3 L859,240.1 L861,240.1 L861,239.8 L863,239.8 L863,240.5 L865,240.5 L865,240 L867,240 L867,239.8 L869,239.8 L869,239.6" stroke="#7C97F5" stroke-width="4.6" fill="none" stroke-linejoin="miter" stroke-linecap="round" />
<path d="M425,242 L428.9,242.1 L434,242.4 L440.1,242.3 L447.1,242.3 L454.5,242.4 L462.2,242.1 L470,242.3 L477.5,242.5 L484.5,242.8 L490.7,242.5 L496,242.6 L500,242.5 L502.8,243.1 L504.7,243.5 L505.9,243.2 L506.5,243.9 L506.5,244.4 L506.2,244.5 L505.7,244.7 L505.1,244.6 L504.4,244.5 L504,245 L503.8,245.1 L504,245.5 L504.5,245.9 L505,246.1 L505.6,246.8 L506.1,247.4 L506.7,248.3 L507.4,248.8 L508,249.4 L508.6,250 L509.3,250.7 L509.9,251.4 L510.5,252 L511.1,253.3 L511.7,254.6 L512.3,255.7 L512.9,256.7 L513.4,257.6 L514,258.5 L514.6,259.7 L515.2,260.8 L515.8,262.6 L516.4,264 L516.9,265.8 L517.5,267.1 L518.1,268.9 L518.7,270.5 L519.3,271.5 L519.9,273 L520.5,275.1 L521.1,276.8 L521.7,278.9 L522.3,280.4 L522.9,281.7 L523.5,283.5 L524.1,285.4 L524.6,286.6 L525.1,287.7 L525.6,289.1 L526.1,290.9 L526.5,292.3 L527,293.1 L527.4,294.1 L527.8,295.1 L528.2,296 L528.6,297.5 L529,298.2 L529.3,299.3 L529.7,300.1 L530,300.7 L530.3,301.6 L530.6,301.9 L530.8,302.6 L531.1,302.6 L531.3,303 L531.5,303.2 L531.7,303.3 L532,304.1 L532.2,304.4 L532.4,304.3 L532.7,304.7 L533,304.5 L533.3,304.5 L533.7,305 L534,305.2 L534.4,304.9 L534.8,305.4 L535.2,305.1 L535.6,305 L536,305.3 L536.4,305 L536.8,304.8 L537.2,304.3 L537.6,303.9 L538,303.9 L538.3,303.4 L538.6,303.2 L538.9,302.7 L539.2,302.2 L539.5,302.1 L539.8,301.4 L540.2,300.7 L540.5,300.1 L540.9,298.9 L541.4,297.7 L541.9,297.2 L542.5,296.2 L543,294.7 L543.7,293 L544.3,291.9 L545,290.7 L545.8,288.7 L546.5,287.5 L547.2,286.1 L548,284.4 L548.8,282.7 L549.5,280.8 L550.3,279.2 L551.1,278.5 L551.8,277 L552.6,276 L553.4,274.5 L554.2,273.7 L555,272.5 L555.8,271.1 L556.7,269.7 L557.5,268.9 L558.4,267.5 L559.2,266.3 L560.1,265.5 L561,264.8 L561.9,263.9 L562.8,262.7 L563.7,262.1 L564.6,260.9 L565.5,259.6 L566.5,258.7 L567.4,257.9 L568.4,256.8 L569.3,255.8 L570.3,255 L571.3,254.3 L572.3,253.1 L573.3,252 L574.4,251.4 L575.5,250.6 L576.6,249.4 L577.6,248.3 L578.7,247.1 L579.8,245.6 L580.9,244.2 L582,243 L583,242.6 L584,241.9 L585,241.4 L586,240.1 L587,239.6 L588,238.9 L589,238.5 L590,237.7 L590.9,237.5 L591.8,236.5 L592.7,236.1 L593.6,235.8 L594.4,235.6 L595.2,235.2 L595.9,234.8 L596.5,234.5 L597.1,234.3 L597.6,233.6 L598.1,233.4 L598.5,233.3 L599,233.2 L599.5,232.7 L600.1,232.6 L600.7,232.6 L601.4,232.4 L602.2,232.3 L603.1,232.1 L604,232.3 L605,232.5 L606.1,232.3 L607.2,232.8 L608.3,233.5 L609.5,234 L610.8,234.3 L612,234.3 L613.4,234.7 L614.8,234.9 L616.2,234.9 L617.7,235.3 L619.4,235 L621.2,235.5 L623,235.2 L624.9,235.6 L626.8,235.7 L628.7,235.7 L630.5,236.1 L632.4,236.1 L634.1,236.3 L635.7,236.6 L637.2,236.2 L638.5,235.8 L639.5,235.6 L640.3,235.8 L641,235.4 L641.6,235 L642.3,235.3 L643,235.1 L643.8,234.8 L644.9,234.8 L646.2,234.4 L647.9,234.3 L650,233.9 L652.6,233.8 L655.8,234.1 L659.4,234.3 L663.3,234.5 L667.5,234.2 L671.7,234.2 L675.9,234.1 L680,233.8 L683.8,233.9 L687.2,234.2 L690.2,234.4 L692.6,234.3 L694.4,234.3 L695.8,233.6 L696.7,232.9 L697.4,232.6 L697.8,232.1 L698,231.5 L698.1,231.2 L698.1,231.1 L698.2,230.8 L698.4,230.5 L698.7,230.7 L699.3,231 L700,230.9 L700.7,230.6 L701.3,230.6 L702,231.5 L702.7,231.5 L703.5,232.3 L704.3,232.9 L705.1,233.2 L706.1,233.9 L707.1,234 L708.2,234.2 L709.4,234.7 L710.4,234.7 L710.9,235.5 L711,235.6 L711.1,235.7 L711.2,235.8 L711.6,236.4 L712.5,236.8 L714,237.2 L716.3,237.5 L719.6,237.9 L724.1,238.4 L730,238.5 L737.9,238.2 L747.9,238.3 L759.7,238.2 L772.7,238 L786.6,238.3 L800.8,238.7 L814.9,238.5 L828.6,238.5 L841.2,238.5 L852.5,238.9 L861.9,238.9 L869,239.1" stroke="#4A60F5" stroke-width="4.6" fill="none" stroke-linejoin="round" stroke-linecap="round" />
<path d="M424.9,242.5 L429,242.5 L434.6,242.5 L441.3,242.4 L448.7,242.4 L456.6,242.4 L464.5,242.3 L472.2,242.3 L479.2,242.4 L485.3,242.4 L490,242.5 L493.5,242.6 L496.1,242.7 L498,242.8 L499.3,243 L500.2,243.2 L500.8,243.4 L501.4,243.6 L502,243.9 L502.8,244.3 L504,244.7 L505.4,245.2 L506.8,245.8 L508.2,246.5 L509.6,247.2 L511.1,247.9 L512.5,248.7 L513.9,249.5 L515.3,250.3 L516.7,251 L518.1,251.7 L519.5,252.4 L521,253.1 L522.5,253.9 L524,254.6 L525.5,255.3 L527,256 L528.4,256.6 L529.7,257.2 L531,257.7 L532.1,258 L533.1,258.2 L533.8,258.4 L534.5,258.5 L535.1,258.5 L535.6,258.5 L536.1,258.4 L536.7,258.2 L537.4,258 L538.1,257.7 L539.1,257.3 L540.2,256.9 L541.5,256.3 L542.8,255.6 L544.2,254.9 L545.7,254.2 L547.2,253.4 L548.7,252.5 L550.2,251.8 L551.7,251 L553.1,250.3 L554.5,249.6 L555.9,249 L557.3,248.3 L558.7,247.6 L560.1,247 L561.5,246.3 L562.9,245.7 L564.3,245.1 L565.7,244.5 L567.1,244 L568.5,243.5 L569.8,243 L571.1,242.5 L572.4,242 L573.7,241.5 L575.1,241.1 L576.5,240.7 L577.9,240.3 L579.5,240 L581.2,239.7 L581.9,239.4 L581,239.2 L579.3,238.9 L577.3,238.7 L575.9,238.6 L575.8,238.4 L577.6,238.3 L582.2,238.3 L590.1,238.3 L602.2,238.3 L620.1,238.4 L644.1,238.6 L672.6,238.9 L704,239.2 L736.9,239.6 L769.7,239.9 L800.8,240.3 L828.8,240.6 L852,240.8 L869,241" stroke="#2F33F0" stroke-width="4.6" fill="none" stroke-linejoin="round" stroke-linecap="round" />
<text x="300" y="300" font-size="27.5" fill="#F4B9D3" stroke="#F4B9D3" stroke-width="0.7" text-anchor="end" transform="translate(300 300) scale(1 1.035) translate(-300 -300)" >1000 R*</text>
<text x="300" y="338" font-size="27.5" fill="#EF7BAB" stroke="#EF7BAB" stroke-width="0.7" text-anchor="end" transform="translate(300 338) scale(1 1.035) translate(-300 -338)" >5000 R*</text>
<text x="300" y="376" font-size="27.5" fill="#EC2F73" stroke="#EC2F73" stroke-width="0.7" text-anchor="end" transform="translate(300 376) scale(1 1.035) translate(-300 -376)" >10000 R*</text>
<text x="300" y="413" font-size="27.5" fill="#C21A5B" stroke="#C21A5B" stroke-width="0.7" text-anchor="end" transform="translate(300 413) scale(1 1.035) translate(-300 -413)" >50000 R*</text>
<text x="756" y="302" font-size="27.5" fill="#BCCFF8" stroke="#BCCFF8" stroke-width="0.7" text-anchor="end" transform="translate(756 302) scale(1 1.035) translate(-756 -302)" >1000 R*</text>
<text x="756" y="340" font-size="27.5" fill="#6E8AF2" stroke="#6E8AF2" stroke-width="0.7" text-anchor="end" transform="translate(756 340) scale(1 1.035) translate(-756 -340)" >5000 R*</text>
<text x="756" y="377" font-size="27.5" fill="#2B2EEF" stroke="#2B2EEF" stroke-width="0.7" text-anchor="end" transform="translate(756 377) scale(1 1.035) translate(-756 -377)" >10000 R*</text>
<text x="756" y="413" font-size="27.5" fill="#1F2B9B" stroke="#1F2B9B" stroke-width="0.7" text-anchor="end" transform="translate(756 413) scale(1 1.035) translate(-756 -413)" >50000 R*</text>
<path d="M282.6,487.3 L338,487.3 L338,434" stroke="#000" stroke-width="3.6" fill="none" stroke-linejoin="miter" stroke-linecap="butt" />
<text x="273" y="517" font-size="27" fill="#000" stroke="#000" stroke-width="0.7" text-anchor="start" transform="translate(273 517) scale(1 1.035) translate(-273 -517)" >50ms</text>
<text x="376" y="497.5" font-size="27.5" fill="#000" stroke="#000" stroke-width="0.7" text-anchor="start" transform="rotate(-90 376 497.5) translate(376 497.5) scale(1 1.035) translate(-376 -497.5)">0.005mV/R*</text>
<path d="M752.9,499 L816,499 L816,457" stroke="#000" stroke-width="3.6" fill="none" stroke-linejoin="miter" stroke-linecap="butt" />
<text x="753.6" y="529" font-size="27" fill="#000" stroke="#000" stroke-width="0.7" text-anchor="start" transform="translate(753.6 529) scale(1 1.035) translate(-753.6 -529)" >50ms</text>
<text x="852.5" y="511" font-size="27.5" fill="#000" stroke="#000" stroke-width="0.7" text-anchor="start" transform="rotate(-90 852.5 511) translate(852.5 511) scale(1 1.035) translate(-852.5 -511)">0.005mV/R*</text>
<line x1="249.5" y1="723.4" x2="249.5" y2="1092" stroke="#000" stroke-width="4" />
<line x1="220.7" y1="760.4" x2="249.5" y2="760.4" stroke="#000" stroke-width="4" />
<text x="200.9" y="774.7" font-size="40" fill="#000" stroke="#000" stroke-width="0.7" text-anchor="end" transform="translate(200.9 774.7) scale(1 1.035) translate(-200.9 -774.7)" >0.1</text>
<line x1="220.7" y1="884.1" x2="249.5" y2="884.1" stroke="#000" stroke-width="4" />
<text x="200.9" y="898.4" font-size="40" fill="#000" stroke="#000" stroke-width="0.7" text-anchor="end" transform="translate(200.9 898.4) scale(1 1.035) translate(-200.9 -898.4)" >0.01</text>
<line x1="220.7" y1="1007.8" x2="249.5" y2="1007.8" stroke="#000" stroke-width="4" />
<text x="200.9" y="1022.1" font-size="40" fill="#000" stroke="#000" stroke-width="0.7" text-anchor="end" transform="translate(200.9 1022.1) scale(1 1.035) translate(-200.9 -1022.1)" >0.001</text>
<path d="M269,1127.5 V1103.1 H322.1" stroke="#000" stroke-width="4" fill="none" stroke-linejoin="miter" stroke-linecap="butt" />
<line x1="348.7" y1="1103.1" x2="743" y2="1103.1" stroke="#000" stroke-width="4" />
<line x1="382.5" y1="1101.1" x2="382.5" y2="1132" stroke="#000" stroke-width="4" />
<line x1="502.7" y1="1101.1" x2="502.7" y2="1132" stroke="#000" stroke-width="4" />
<line x1="621.6" y1="1101.1" x2="621.6" y2="1132" stroke="#000" stroke-width="4" />
<line x1="741.3" y1="1101.1" x2="741.3" y2="1132" stroke="#000" stroke-width="4" />
<line x1="309.9" y1="1116.2" x2="339.6" y2="1092.6" stroke="#000" stroke-width="3.4" />
<line x1="326.1" y1="1118.4" x2="355.3" y2="1094.8" stroke="#000" stroke-width="3.4" />
<text x="273.5" y="1203" font-size="40" fill="#000" stroke="#000" stroke-width="0.7" text-anchor="middle" transform="translate(273.5 1203) scale(1 1.035) translate(-273.5 -1203)" >0</text>
<text x="382.5" y="1203" font-size="40" fill="#000" stroke="#000" stroke-width="0.7" text-anchor="middle" transform="translate(382.5 1203) scale(1 1.035) translate(-382.5 -1203)">10<tspan font-size="27.5" dy="-26.3">2</tspan></text>
<text x="502.7" y="1203" font-size="40" fill="#000" stroke="#000" stroke-width="0.7" text-anchor="middle" transform="translate(502.7 1203) scale(1 1.035) translate(-502.7 -1203)">10<tspan font-size="27.5" dy="-26.3">3</tspan></text>
<text x="621.6" y="1203" font-size="40" fill="#000" stroke="#000" stroke-width="0.7" text-anchor="middle" transform="translate(621.6 1203) scale(1 1.035) translate(-621.6 -1203)">10<tspan font-size="27.5" dy="-26.3">4</tspan></text>
<text x="741.3" y="1203" font-size="40" fill="#000" stroke="#000" stroke-width="0.7" text-anchor="middle" transform="translate(741.3 1203) scale(1 1.035) translate(-741.3 -1203)">10<tspan font-size="27.5" dy="-26.3">5</tspan></text>
<text x="521.5" y="1262.4" font-size="40" fill="#000" stroke="#000" stroke-width="0.7" text-anchor="middle" transform="translate(521.5 1262.4) scale(1 1.035) translate(-521.5 -1262.4)" >Background (R*/cone/s)</text>
<text x="85" y="890" font-size="40" fill="#000" stroke="#000" stroke-width="0.7" text-anchor="middle" transform="rotate(-90 85 890) translate(85 890) scale(1 1.035) translate(-85 -890)">Gain<tspan font-size="27" dy="8.6">Peak Amp</tspan><tspan dy="-8.6">(mV/R*)</tspan></text>
<text x="299.9" y="998.2" font-size="40" fill="#F5276E" stroke="#F5276E" stroke-width="0.7" text-anchor="start" transform="translate(299.9 998.2) scale(1 1.035) translate(-299.9 -998.2)" >Fovea</text>
<text x="299.9" y="1050.8" font-size="40" fill="#3526F5" stroke="#3526F5" stroke-width="0.7" text-anchor="start" transform="translate(299.9 1050.8) scale(1 1.035) translate(-299.9 -1050.8)" >Periphery</text>
<path d="M567.1,676.6 L567.3,676.8 L567.6,677 L567.8,677 L568.2,676.9 L568.5,677.3 L568.9,677.6 L569.3,677.6 L569.7,677.6 L570.1,677.4 L570.6,677.1 L571,677.1 L571.4,677.3 L571.8,676.9 L572.2,677 L572.7,676.6 L573.1,676.2 L573.6,675.7 L574,675.9 L574.5,675.7 L575,675.5 L575.5,675.1 L576,674.4 L576.5,674 L577.1,673.9 L577.7,673.5 L578.3,673.7 L578.9,673.4 L579.6,673.1 L580.3,673.2 L581,672.8 L581.7,673.1 L582.3,672.9 L583,672.8 L583.7,672.5 L584.4,672.4 L585.1,672.1 L585.8,671.7 L586.4,671.9 L587.1,671.6 L587.7,671.7 L588.4,671.2 L589,671.4 L589.7,671.4 L590.3,671.3 L591,671.2 L591.7,671 L592.4,671 L593.1,670.5 L593.8,670.6 L594.6,671 L595.5,670.9 L596.3,671.4 L597.1,671.8 L598,671.8 L598.8,671.9 L599.6,672.1 L600.4,672.3 L601.1,672.9 L601.7,672.8 L602.3,672.5 L602.8,672.4 L603.2,672.6 L603.5,672.9 L603.8,672.7 L604.1,672.4 L604.3,672.3 L604.5,672.2 L604.7,671.8 L604.9,671.8 L605.1,671.7 L605.4,671.8 L605.7,671.6 L606,671.5 L606.4,671.7 L606.8,672.3 L607.2,672.3 L607.6,672.7 L608,672.8 L608.4,672.9 L608.8,673 L609.2,673.8 L609.6,674.4 L610,674.7 L610.3,675.2 L610.6,675.7 L610.9,676.4 L611.3,677.1 L611.6,677.4 L611.9,678.2 L612.1,678.9 L612.4,679.3 L612.7,680 L613,680.4 L613.2,680.8 L613.5,681.3 L613.7,682.2 L613.9,682.5 L614.1,682.8 L614.3,683.7 L614.5,684.4 L614.7,684.9 L614.9,685.7 L615,685.8 L615.2,686.4 L615.4,687 L615.6,687.9 L615.8,688.6 L616,689.5 L616.2,690.7 L616.5,692.3 L616.8,693.9 L617.1,695.3 L617.3,696.5 L617.6,697.7 L617.9,699.6 L618.2,701 L618.5,702.6 L618.8,703.8 L619.1,705.2 L619.4,707.2 L619.7,708.9 L620,710.8 L620.2,712.3 L620.5,713.9 L620.8,715.6 L621.1,717.6 L621.4,719.1 L621.7,720.9 L621.9,722.4 L622.2,724.4 L622.5,725.7 L622.8,727.7 L623.1,729.7 L623.4,730.9 L623.7,732.8 L624,734.6 L624.3,736.5 L624.5,738.1 L624.8,739.5 L625.1,741.1 L625.4,743 L625.7,744.7 L626,745.7 L626.3,746.8 L626.6,748 L626.9,749.1 L627.1,750.5 L627.4,751.5 L627.7,753.1 L628,754.2 L628.2,755 L628.5,756 L628.8,756.9 L629.1,757.9 L629.4,758.6 L629.7,759.3 L630,760.1 L630.3,761 L630.7,762.1 L631,762.9 L631.3,763.4 L631.7,764.3 L632,765.2 L632.3,765.9 L632.7,766.5 L633,766.4 L633.4,766.8 L633.7,766.7 L634,767.2 L634.4,767.1 L634.7,767.3 L635,767 L635.3,767.1 L635.7,766.7 L636,766.1 L636.3,765.9 L636.7,765.4 L637,765.4 L637.3,764.7 L637.7,764.1 L638.1,763.6 L638.4,763.2 L638.8,762.1 L639.1,761.4 L639.5,760.5 L639.9,759.8 L640.3,759.1 L640.7,757.7 L641.1,756.7 L641.5,755.5 L641.9,754.2 L642.3,752.6 L642.7,751.5 L643.2,750.3 L643.6,748.5 L644.1,746.6 L644.5,745.3 L645,743.1 L645.5,741 L646,739.1 L646.5,737.6 L647,736 L647.5,734.1 L648,732.4 L648.5,730.2 L649.1,728.6 L649.6,726.8 L650.2,725 L650.8,723 L651.4,721.1 L652,719.1 L652.6,717.1 L653.2,715.4 L653.7,713.6 L654.3,712.2 L654.8,710.8 L655.3,709.2 L655.8,707.5 L656.3,705.7 L656.8,704.1 L657.3,702.7 L657.8,701.3 L658.3,700.2 L658.7,698.4 L659.2,697 L659.6,695.8 L660.1,694.7 L660.5,693.7 L660.9,692.7 L661.3,691.6 L661.7,690.6 L662.1,689.6 L662.5,688.8 L662.9,687.9 L663.2,687.1 L663.6,686 L664,685.5 L664.3,684.6 L664.7,683.9 L665.1,683.4 L665.5,683 L665.8,682.5 L666.2,681.4 L666.6,680.8 L666.9,680.3 L667.3,679.8 L667.6,679.3 L668,679 L668.4,678.4 L668.8,678 L669.2,678 L669.7,677.6 L670.2,677 L670.7,676.1 L671.3,675.9 L671.8,675.4 L672.4,674.5 L673,673.8 L673.6,673.4 L674.2,672.9 L674.8,672.1 L675.4,671.9 L676,671.1 L676.5,670.4 L677,670.2 L677.5,669.4 L678,669.1 L678.5,668.4 L679,668.1 L679.5,667.5 L680,667 L680.5,667 L680.9,666.5 L681.4,666 L681.8,665.8 L682.2,665.3 L682.6,664.9 L683,664.7 L683.3,664.4 L683.7,664.2 L684,664.6 L684.3,664.1 L684.6,664.4 L684.9,664.6 L685.2,664.6 L685.6,664.1 L685.9,664.2 L686.2,663.9 L686.5,664.2 L686.8,664.5 L687.1,664.5 L687.4,664.4 L687.7,664.8 L688,664.9 L688.3,665.1 L688.7,665.5 L689,666.1 L689.4,666.2 L689.8,666.2 L690.2,666.6 L690.7,667 L691.2,667.1 L691.7,666.8 L692.2,666.8 L692.8,667 L693.3,667.3 L693.9,667.3 L694.5,667.8 L695.2,668.1 L695.8,668.4 L696.4,668.7 L697.1,668.3 L697.8,668.5 L698.5,668.4 L699.2,668.9 L700,669.2 L700.7,669.5 L701.5,669.4 L702.3,669.3 L703.1,669.8 L703.9,670.1 L704.7,670.3 L705.4,670.5 L706.2,670.8 L707,670.9 L707.8,671 L708.5,671.2 L709.3,671.5 L710.1,672 L710.9,672.6 L711.7,672.4 L712.5,672.5 L713.3,672.9 L714,673.2 L714.7,673.1 L715.4,673.1 L716.1,672.9 L716.7,672.6 L717.3,672.7 L717.8,672.7 L718.4,672.5 L718.9,672 L719.5,671.4 L720,671.6 L720.5,671.3 L721.1,670.9 L721.6,670.9 L722.2,670.8 L722.8,670.7 L723.4,670.2 L723.9,670.5 L724.5,670.3 L725.1,670.1 L725.7,670.2 L726.3,670.4 L726.9,670.6 L727.5,670.4 L728,670.6 L728.6,670.6 L729.1,670.4 L729.6,670.6 L730.2,670.7 L730.7,670.8 L731.3,670.6 L731.8,670.2 L732.4,670.2 L732.9,670.3 L733.4,670 L733.8,670.1 L734.2,670.1 L734.5,669.7 L734.8,669.9" stroke="#000" stroke-width="3.8" fill="none" stroke-linejoin="round" stroke-linecap="round" />
<line x1="633.7" y1="690" x2="633.7" y2="748" stroke="#000" stroke-width="2.9" stroke-dasharray="3 4"/>
<path d="M633.7,674 L629.5,689.5 L637.9,689.5 Z" fill="#000"/>
<path d="M633.7,764.5 L629.5,748.5 L637.9,748.5 Z" fill="#000"/>
<circle cx="264.6" cy="775" r="5.7" fill="none" stroke="#BACDF6" stroke-width="3.5"/>
<circle cx="264.6" cy="785" r="5.7" fill="none" stroke="#BACDF6" stroke-width="3.5"/>
<circle cx="264.6" cy="789.6" r="5.7" fill="none" stroke="#BACDF6" stroke-width="3.5"/>
<circle cx="264.6" cy="794.2" r="5.7" fill="none" stroke="#BACDF6" stroke-width="3.5"/>
<circle cx="264.6" cy="798.8" r="5.7" fill="none" stroke="#BACDF6" stroke-width="3.5"/>
<circle cx="264.6" cy="803.3" r="5.7" fill="none" stroke="#BACDF6" stroke-width="3.5"/>
<circle cx="264.6" cy="807.9" r="5.7" fill="none" stroke="#BACDF6" stroke-width="3.5"/>
<circle cx="264.6" cy="812.5" r="5.7" fill="none" stroke="#BACDF6" stroke-width="3.5"/>
<circle cx="264.6" cy="817.1" r="5.7" fill="none" stroke="#BACDF6" stroke-width="3.5"/>
<circle cx="264.6" cy="821.7" r="5.7" fill="none" stroke="#BACDF6" stroke-width="3.5"/>
<circle cx="264.6" cy="826.2" r="5.7" fill="none" stroke="#BACDF6" stroke-width="3.5"/>
<circle cx="264.6" cy="830.8" r="5.7" fill="none" stroke="#BACDF6" stroke-width="3.5"/>
<circle cx="264.6" cy="835.4" r="5.7" fill="none" stroke="#BACDF6" stroke-width="3.5"/>
<circle cx="264.6" cy="840" r="5.7" fill="none" stroke="#BACDF6" stroke-width="3.5"/>
<circle cx="264.6" cy="862.6" r="5.7" fill="none" stroke="#BACDF6" stroke-width="3.5"/>
<circle cx="264.6" cy="871" r="5.7" fill="none" stroke="#BACDF6" stroke-width="3.5"/>
<circle cx="264.6" cy="888.4" r="5.7" fill="none" stroke="#BACDF6" stroke-width="3.5"/>
<circle cx="264.6" cy="914.2" r="5.7" fill="none" stroke="#BACDF6" stroke-width="3.5"/>
<circle cx="384" cy="745.8" r="5.7" fill="none" stroke="#BACDF6" stroke-width="3.5"/>
<circle cx="384" cy="771.6" r="5.7" fill="none" stroke="#BACDF6" stroke-width="3.5"/>
<circle cx="384" cy="776.1" r="5.7" fill="none" stroke="#BACDF6" stroke-width="3.5"/>
<circle cx="384" cy="780.5" r="5.7" fill="none" stroke="#BACDF6" stroke-width="3.5"/>
<circle cx="384" cy="785" r="5.7" fill="none" stroke="#BACDF6" stroke-width="3.5"/>
<circle cx="384" cy="789.5" r="5.7" fill="none" stroke="#BACDF6" stroke-width="3.5"/>
<circle cx="384" cy="793.9" r="5.7" fill="none" stroke="#BACDF6" stroke-width="3.5"/>
<circle cx="384" cy="798.4" r="5.7" fill="none" stroke="#BACDF6" stroke-width="3.5"/>
<circle cx="384" cy="802.9" r="5.7" fill="none" stroke="#BACDF6" stroke-width="3.5"/>
<circle cx="384" cy="807.3" r="5.7" fill="none" stroke="#BACDF6" stroke-width="3.5"/>
<circle cx="384" cy="811.8" r="5.7" fill="none" stroke="#BACDF6" stroke-width="3.5"/>
<circle cx="384" cy="816.3" r="5.7" fill="none" stroke="#BACDF6" stroke-width="3.5"/>
<circle cx="384" cy="820.7" r="5.7" fill="none" stroke="#BACDF6" stroke-width="3.5"/>
<circle cx="384" cy="825.2" r="5.7" fill="none" stroke="#BACDF6" stroke-width="3.5"/>
<circle cx="384" cy="829.7" r="5.7" fill="none" stroke="#BACDF6" stroke-width="3.5"/>
<circle cx="384" cy="834.1" r="5.7" fill="none" stroke="#BACDF6" stroke-width="3.5"/>
<circle cx="384" cy="838.6" r="5.7" fill="none" stroke="#BACDF6" stroke-width="3.5"/>
<circle cx="384" cy="845.5" r="5.7" fill="none" stroke="#BACDF6" stroke-width="3.5"/>
<circle cx="384" cy="866" r="5.7" fill="none" stroke="#BACDF6" stroke-width="3.5"/>
<circle cx="384" cy="881.5" r="5.7" fill="none" stroke="#BACDF6" stroke-width="3.5"/>
<circle cx="384" cy="919.3" r="5.7" fill="none" stroke="#BACDF6" stroke-width="3.5"/>
<circle cx="467.4" cy="785" r="5.7" fill="none" stroke="#BACDF6" stroke-width="3.5"/>
<circle cx="467.4" cy="790.1" r="5.7" fill="none" stroke="#BACDF6" stroke-width="3.5"/>
<circle cx="467.4" cy="795.2" r="5.7" fill="none" stroke="#BACDF6" stroke-width="3.5"/>
<circle cx="467.4" cy="800.3" r="5.7" fill="none" stroke="#BACDF6" stroke-width="3.5"/>
<circle cx="467.4" cy="805.3" r="5.7" fill="none" stroke="#BACDF6" stroke-width="3.5"/>
<circle cx="467.4" cy="810.4" r="5.7" fill="none" stroke="#BACDF6" stroke-width="3.5"/>
<circle cx="467.4" cy="815.5" r="5.7" fill="none" stroke="#BACDF6" stroke-width="3.5"/>
<circle cx="467.4" cy="820.6" r="5.7" fill="none" stroke="#BACDF6" stroke-width="3.5"/>
<circle cx="467.4" cy="825.7" r="5.7" fill="none" stroke="#BACDF6" stroke-width="3.5"/>
<circle cx="467.4" cy="830.8" r="5.7" fill="none" stroke="#BACDF6" stroke-width="3.5"/>
<circle cx="467.4" cy="835.9" r="5.7" fill="none" stroke="#BACDF6" stroke-width="3.5"/>
<circle cx="467.4" cy="840.9" r="5.7" fill="none" stroke="#BACDF6" stroke-width="3.5"/>
<circle cx="467.4" cy="846" r="5.7" fill="none" stroke="#BACDF6" stroke-width="3.5"/>
<circle cx="467.4" cy="851.1" r="5.7" fill="none" stroke="#BACDF6" stroke-width="3.5"/>
<circle cx="467.4" cy="856.2" r="5.7" fill="none" stroke="#BACDF6" stroke-width="3.5"/>
<circle cx="467.4" cy="861.3" r="5.7" fill="none" stroke="#BACDF6" stroke-width="3.5"/>
<circle cx="467.4" cy="866.4" r="5.7" fill="none" stroke="#BACDF6" stroke-width="3.5"/>
<circle cx="467.4" cy="871.5" r="5.7" fill="none" stroke="#BACDF6" stroke-width="3.5"/>
<circle cx="467.4" cy="876.5" r="5.7" fill="none" stroke="#BACDF6" stroke-width="3.5"/>
<circle cx="467.4" cy="881.6" r="5.7" fill="none" stroke="#BACDF6" stroke-width="3.5"/>
<circle cx="467.4" cy="886.7" r="5.7" fill="none" stroke="#BACDF6" stroke-width="3.5"/>
<circle cx="467.4" cy="891.8" r="5.7" fill="none" stroke="#BACDF6" stroke-width="3.5"/>
<circle cx="467.4" cy="926" r="5.7" fill="none" stroke="#BACDF6" stroke-width="3.5"/>
<circle cx="503.7" cy="799" r="5.7" fill="none" stroke="#BACDF6" stroke-width="3.5"/>
<circle cx="503.7" cy="803.5" r="5.7" fill="none" stroke="#BACDF6" stroke-width="3.5"/>
<circle cx="503.7" cy="807.9" r="5.7" fill="none" stroke="#BACDF6" stroke-width="3.5"/>
<circle cx="503.7" cy="812.4" r="5.7" fill="none" stroke="#BACDF6" stroke-width="3.5"/>
<circle cx="503.7" cy="816.9" r="5.7" fill="none" stroke="#BACDF6" stroke-width="3.5"/>
<circle cx="503.7" cy="821.3" r="5.7" fill="none" stroke="#BACDF6" stroke-width="3.5"/>
<circle cx="503.7" cy="825.8" r="5.7" fill="none" stroke="#BACDF6" stroke-width="3.5"/>
<circle cx="503.7" cy="830.3" r="5.7" fill="none" stroke="#BACDF6" stroke-width="3.5"/>
<circle cx="503.7" cy="834.7" r="5.7" fill="none" stroke="#BACDF6" stroke-width="3.5"/>
<circle cx="503.7" cy="839.2" r="5.7" fill="none" stroke="#BACDF6" stroke-width="3.5"/>
<circle cx="503.7" cy="843.7" r="5.7" fill="none" stroke="#BACDF6" stroke-width="3.5"/>
<circle cx="503.7" cy="848.1" r="5.7" fill="none" stroke="#BACDF6" stroke-width="3.5"/>
<circle cx="503.7" cy="852.6" r="5.7" fill="none" stroke="#BACDF6" stroke-width="3.5"/>
<circle cx="503.7" cy="857.1" r="5.7" fill="none" stroke="#BACDF6" stroke-width="3.5"/>
<circle cx="503.7" cy="861.5" r="5.7" fill="none" stroke="#BACDF6" stroke-width="3.5"/>
<circle cx="503.7" cy="866" r="5.7" fill="none" stroke="#BACDF6" stroke-width="3.5"/>
<circle cx="503.7" cy="883.3" r="5.7" fill="none" stroke="#BACDF6" stroke-width="3.5"/>
<circle cx="503.7" cy="901.3" r="5.7" fill="none" stroke="#BACDF6" stroke-width="3.5"/>
<circle cx="503.7" cy="923.6" r="5.7" fill="none" stroke="#BACDF6" stroke-width="3.5"/>
<circle cx="503.7" cy="943.4" r="5.7" fill="none" stroke="#BACDF6" stroke-width="3.5"/>
<circle cx="539.3" cy="808.5" r="5.7" fill="none" stroke="#BACDF6" stroke-width="3.5"/>
<circle cx="539.3" cy="831.7" r="5.7" fill="none" stroke="#BACDF6" stroke-width="3.5"/>
<circle cx="539.3" cy="836.2" r="5.7" fill="none" stroke="#BACDF6" stroke-width="3.5"/>
<circle cx="539.3" cy="840.6" r="5.7" fill="none" stroke="#BACDF6" stroke-width="3.5"/>
<circle cx="539.3" cy="845.1" r="5.7" fill="none" stroke="#BACDF6" stroke-width="3.5"/>
<circle cx="539.3" cy="849.6" r="5.7" fill="none" stroke="#BACDF6" stroke-width="3.5"/>
<circle cx="539.3" cy="854" r="5.7" fill="none" stroke="#BACDF6" stroke-width="3.5"/>
<circle cx="539.3" cy="858.5" r="5.7" fill="none" stroke="#BACDF6" stroke-width="3.5"/>
<circle cx="539.3" cy="863" r="5.7" fill="none" stroke="#BACDF6" stroke-width="3.5"/>
<circle cx="539.3" cy="867.4" r="5.7" fill="none" stroke="#BACDF6" stroke-width="3.5"/>
<circle cx="539.3" cy="871.9" r="5.7" fill="none" stroke="#BACDF6" stroke-width="3.5"/>
<circle cx="539.3" cy="876.4" r="5.7" fill="none" stroke="#BACDF6" stroke-width="3.5"/>
<circle cx="539.3" cy="880.8" r="5.7" fill="none" stroke="#BACDF6" stroke-width="3.5"/>
<circle cx="539.3" cy="885.3" r="5.7" fill="none" stroke="#BACDF6" stroke-width="3.5"/>
<circle cx="539.3" cy="889.8" r="5.7" fill="none" stroke="#BACDF6" stroke-width="3.5"/>
<circle cx="539.3" cy="894.2" r="5.7" fill="none" stroke="#BACDF6" stroke-width="3.5"/>
<circle cx="539.3" cy="898.7" r="5.7" fill="none" stroke="#BACDF6" stroke-width="3.5"/>
<circle cx="539.3" cy="922.8" r="5.7" fill="none" stroke="#BACDF6" stroke-width="3.5"/>
<circle cx="539.3" cy="963.2" r="5.7" fill="none" stroke="#BACDF6" stroke-width="3.5"/>
<circle cx="586.5" cy="846.3" r="5.7" fill="none" stroke="#BACDF6" stroke-width="3.5"/>
<circle cx="586.5" cy="850.9" r="5.7" fill="none" stroke="#BACDF6" stroke-width="3.5"/>
<circle cx="586.5" cy="855.5" r="5.7" fill="none" stroke="#BACDF6" stroke-width="3.5"/>
<circle cx="586.5" cy="860.1" r="5.7" fill="none" stroke="#BACDF6" stroke-width="3.5"/>
<circle cx="586.5" cy="864.7" r="5.7" fill="none" stroke="#BACDF6" stroke-width="3.5"/>
<circle cx="586.5" cy="869.3" r="5.7" fill="none" stroke="#BACDF6" stroke-width="3.5"/>
<circle cx="586.5" cy="873.9" r="5.7" fill="none" stroke="#BACDF6" stroke-width="3.5"/>
<circle cx="586.5" cy="878.5" r="5.7" fill="none" stroke="#BACDF6" stroke-width="3.5"/>
<circle cx="586.5" cy="883.2" r="5.7" fill="none" stroke="#BACDF6" stroke-width="3.5"/>
<circle cx="586.5" cy="887.8" r="5.7" fill="none" stroke="#BACDF6" stroke-width="3.5"/>
<circle cx="586.5" cy="892.4" r="5.7" fill="none" stroke="#BACDF6" stroke-width="3.5"/>
<circle cx="586.5" cy="897" r="5.7" fill="none" stroke="#BACDF6" stroke-width="3.5"/>
<circle cx="586.5" cy="901.6" r="5.7" fill="none" stroke="#BACDF6" stroke-width="3.5"/>
<circle cx="586.5" cy="906.2" r="5.7" fill="none" stroke="#BACDF6" stroke-width="3.5"/>
<circle cx="586.5" cy="910.8" r="5.7" fill="none" stroke="#BACDF6" stroke-width="3.5"/>
<circle cx="586.5" cy="929.7" r="5.7" fill="none" stroke="#BACDF6" stroke-width="3.5"/>
<circle cx="586.5" cy="954.6" r="5.7" fill="none" stroke="#BACDF6" stroke-width="3.5"/>
<circle cx="586.5" cy="984.6" r="5.7" fill="none" stroke="#BACDF6" stroke-width="3.5"/>
<circle cx="622.6" cy="876.4" r="5.7" fill="none" stroke="#BACDF6" stroke-width="3.5"/>
<circle cx="622.6" cy="880.9" r="5.7" fill="none" stroke="#BACDF6" stroke-width="3.5"/>
<circle cx="622.6" cy="885.3" r="5.7" fill="none" stroke="#BACDF6" stroke-width="3.5"/>
<circle cx="622.6" cy="889.8" r="5.7" fill="none" stroke="#BACDF6" stroke-width="3.5"/>
<circle cx="622.6" cy="894.3" r="5.7" fill="none" stroke="#BACDF6" stroke-width="3.5"/>
<circle cx="622.6" cy="898.7" r="5.7" fill="none" stroke="#BACDF6" stroke-width="3.5"/>
<circle cx="622.6" cy="903.2" r="5.7" fill="none" stroke="#BACDF6" stroke-width="3.5"/>
<circle cx="622.6" cy="907.7" r="5.7" fill="none" stroke="#BACDF6" stroke-width="3.5"/>
<circle cx="622.6" cy="912.1" r="5.7" fill="none" stroke="#BACDF6" stroke-width="3.5"/>
<circle cx="622.6" cy="916.6" r="5.7" fill="none" stroke="#BACDF6" stroke-width="3.5"/>
<circle cx="622.6" cy="921.1" r="5.7" fill="none" stroke="#BACDF6" stroke-width="3.5"/>
<circle cx="622.6" cy="925.5" r="5.7" fill="none" stroke="#BACDF6" stroke-width="3.5"/>
<circle cx="622.6" cy="930" r="5.7" fill="none" stroke="#BACDF6" stroke-width="3.5"/>
<circle cx="622.6" cy="934.5" r="5.7" fill="none" stroke="#BACDF6" stroke-width="3.5"/>
<circle cx="622.6" cy="938.9" r="5.7" fill="none" stroke="#BACDF6" stroke-width="3.5"/>
<circle cx="622.6" cy="943.4" r="5.7" fill="none" stroke="#BACDF6" stroke-width="3.5"/>
<circle cx="622.6" cy="986.4" r="5.7" fill="none" stroke="#BACDF6" stroke-width="3.5"/>
<circle cx="622.6" cy="1010.4" r="5.7" fill="none" stroke="#BACDF6" stroke-width="3.5"/>
<circle cx="705.6" cy="936.5" r="5.7" fill="none" stroke="#BACDF6" stroke-width="3.5"/>
<circle cx="705.6" cy="940.9" r="5.7" fill="none" stroke="#BACDF6" stroke-width="3.5"/>
<circle cx="705.6" cy="945.2" r="5.7" fill="none" stroke="#BACDF6" stroke-width="3.5"/>
<circle cx="705.6" cy="949.6" r="5.7" fill="none" stroke="#BACDF6" stroke-width="3.5"/>
<circle cx="705.6" cy="953.9" r="5.7" fill="none" stroke="#BACDF6" stroke-width="3.5"/>
<circle cx="705.6" cy="958.3" r="5.7" fill="none" stroke="#BACDF6" stroke-width="3.5"/>
<circle cx="705.6" cy="962.6" r="5.7" fill="none" stroke="#BACDF6" stroke-width="3.5"/>
<circle cx="705.6" cy="967" r="5.7" fill="none" stroke="#BACDF6" stroke-width="3.5"/>
<circle cx="705.6" cy="971.3" r="5.7" fill="none" stroke="#BACDF6" stroke-width="3.5"/>
<circle cx="705.6" cy="975.7" r="5.7" fill="none" stroke="#BACDF6" stroke-width="3.5"/>
<circle cx="705.6" cy="980" r="5.7" fill="none" stroke="#BACDF6" stroke-width="3.5"/>
<circle cx="705.6" cy="984.4" r="5.7" fill="none" stroke="#BACDF6" stroke-width="3.5"/>
<circle cx="705.6" cy="988.7" r="5.7" fill="none" stroke="#BACDF6" stroke-width="3.5"/>
<circle cx="705.6" cy="993.1" r="5.7" fill="none" stroke="#BACDF6" stroke-width="3.5"/>
<circle cx="705.6" cy="997.4" r="5.7" fill="none" stroke="#BACDF6" stroke-width="3.5"/>
<circle cx="705.6" cy="1001.8" r="5.7" fill="none" stroke="#BACDF6" stroke-width="3.5"/>
<circle cx="705.6" cy="1017.3" r="5.7" fill="none" stroke="#BACDF6" stroke-width="3.5"/>
<circle cx="705.6" cy="1029.3" r="5.7" fill="none" stroke="#BACDF6" stroke-width="3.5"/>
<circle cx="705.6" cy="1043" r="5.7" fill="none" stroke="#BACDF6" stroke-width="3.5"/>
<circle cx="705.6" cy="1062" r="5.7" fill="none" stroke="#BACDF6" stroke-width="3.5"/>
<circle cx="274" cy="757" r="5.7" fill="none" stroke="#F2B9D5" stroke-width="3.5"/>
<circle cx="274" cy="761" r="5.7" fill="none" stroke="#F2B9D5" stroke-width="3.5"/>
<circle cx="274" cy="766.4" r="5.7" fill="none" stroke="#F2B9D5" stroke-width="3.5"/>
<circle cx="274" cy="771.6" r="5.7" fill="none" stroke="#F2B9D5" stroke-width="3.5"/>
<circle cx="274" cy="792" r="5.7" fill="none" stroke="#F2B9D5" stroke-width="3.5"/>
<circle cx="274" cy="796.4" r="5.7" fill="none" stroke="#F2B9D5" stroke-width="3.5"/>
<circle cx="274" cy="800.7" r="5.7" fill="none" stroke="#F2B9D5" stroke-width="3.5"/>
<circle cx="274" cy="805.1" r="5.7" fill="none" stroke="#F2B9D5" stroke-width="3.5"/>
<circle cx="274" cy="809.5" r="5.7" fill="none" stroke="#F2B9D5" stroke-width="3.5"/>
<circle cx="274" cy="813.8" r="5.7" fill="none" stroke="#F2B9D5" stroke-width="3.5"/>
<circle cx="274" cy="818.2" r="5.7" fill="none" stroke="#F2B9D5" stroke-width="3.5"/>
<circle cx="274" cy="822.5" r="5.7" fill="none" stroke="#F2B9D5" stroke-width="3.5"/>
<circle cx="274" cy="826.9" r="5.7" fill="none" stroke="#F2B9D5" stroke-width="3.5"/>
<circle cx="274" cy="831.3" r="5.7" fill="none" stroke="#F2B9D5" stroke-width="3.5"/>
<circle cx="274" cy="835.6" r="5.7" fill="none" stroke="#F2B9D5" stroke-width="3.5"/>
<circle cx="274" cy="840" r="5.7" fill="none" stroke="#F2B9D5" stroke-width="3.5"/>
<circle cx="391.2" cy="759.5" r="5.7" fill="none" stroke="#F2B9D5" stroke-width="3.5"/>
<circle cx="391.2" cy="763.5" r="5.7" fill="none" stroke="#F2B9D5" stroke-width="3.5"/>
<circle cx="391.2" cy="767.6" r="5.7" fill="none" stroke="#F2B9D5" stroke-width="3.5"/>
<circle cx="391.2" cy="771.6" r="5.7" fill="none" stroke="#F2B9D5" stroke-width="3.5"/>
<circle cx="391.2" cy="787" r="5.7" fill="none" stroke="#F2B9D5" stroke-width="3.5"/>
<circle cx="391.2" cy="800" r="5.7" fill="none" stroke="#F2B9D5" stroke-width="3.5"/>
<circle cx="391.2" cy="810" r="5.7" fill="none" stroke="#F2B9D5" stroke-width="3.5"/>
<circle cx="391.2" cy="818" r="5.7" fill="none" stroke="#F2B9D5" stroke-width="3.5"/>
<circle cx="391.2" cy="826.5" r="5.7" fill="none" stroke="#F2B9D5" stroke-width="3.5"/>
<circle cx="391.2" cy="847" r="5.7" fill="none" stroke="#F2B9D5" stroke-width="3.5"/>
<circle cx="391.2" cy="862.6" r="5.7" fill="none" stroke="#F2B9D5" stroke-width="3.5"/>
<circle cx="473.7" cy="771.6" r="5.7" fill="none" stroke="#F2B9D5" stroke-width="3.5"/>
<circle cx="473.7" cy="780" r="5.7" fill="none" stroke="#F2B9D5" stroke-width="3.5"/>
<circle cx="473.7" cy="792" r="5.7" fill="none" stroke="#F2B9D5" stroke-width="3.5"/>
<circle cx="473.7" cy="796.6" r="5.7" fill="none" stroke="#F2B9D5" stroke-width="3.5"/>
<circle cx="473.7" cy="801.2" r="5.7" fill="none" stroke="#F2B9D5" stroke-width="3.5"/>
<circle cx="473.7" cy="805.8" r="5.7" fill="none" stroke="#F2B9D5" stroke-width="3.5"/>
<circle cx="473.7" cy="810.3" r="5.7" fill="none" stroke="#F2B9D5" stroke-width="3.5"/>
<circle cx="473.7" cy="814.9" r="5.7" fill="none" stroke="#F2B9D5" stroke-width="3.5"/>
<circle cx="473.7" cy="819.5" r="5.7" fill="none" stroke="#F2B9D5" stroke-width="3.5"/>
<circle cx="473.7" cy="824.1" r="5.7" fill="none" stroke="#F2B9D5" stroke-width="3.5"/>
<circle cx="473.7" cy="828.7" r="5.7" fill="none" stroke="#F2B9D5" stroke-width="3.5"/>
<circle cx="473.7" cy="833.2" r="5.7" fill="none" stroke="#F2B9D5" stroke-width="3.5"/>
<circle cx="473.7" cy="837.8" r="5.7" fill="none" stroke="#F2B9D5" stroke-width="3.5"/>
<circle cx="473.7" cy="842.4" r="5.7" fill="none" stroke="#F2B9D5" stroke-width="3.5"/>
<circle cx="473.7" cy="847" r="5.7" fill="none" stroke="#F2B9D5" stroke-width="3.5"/>
<circle cx="510" cy="799" r="5.7" fill="none" stroke="#F2B9D5" stroke-width="3.5"/>
<circle cx="510" cy="803.5" r="5.7" fill="none" stroke="#F2B9D5" stroke-width="3.5"/>
<circle cx="510" cy="807.9" r="5.7" fill="none" stroke="#F2B9D5" stroke-width="3.5"/>
<circle cx="510" cy="812.4" r="5.7" fill="none" stroke="#F2B9D5" stroke-width="3.5"/>
<circle cx="510" cy="816.9" r="5.7" fill="none" stroke="#F2B9D5" stroke-width="3.5"/>
<circle cx="510" cy="821.3" r="5.7" fill="none" stroke="#F2B9D5" stroke-width="3.5"/>
<circle cx="510" cy="825.8" r="5.7" fill="none" stroke="#F2B9D5" stroke-width="3.5"/>
<circle cx="510" cy="830.3" r="5.7" fill="none" stroke="#F2B9D5" stroke-width="3.5"/>
<circle cx="510" cy="834.7" r="5.7" fill="none" stroke="#F2B9D5" stroke-width="3.5"/>
<circle cx="510" cy="839.2" r="5.7" fill="none" stroke="#F2B9D5" stroke-width="3.5"/>
<circle cx="510" cy="843.7" r="5.7" fill="none" stroke="#F2B9D5" stroke-width="3.5"/>
<circle cx="510" cy="848.1" r="5.7" fill="none" stroke="#F2B9D5" stroke-width="3.5"/>
<circle cx="510" cy="852.6" r="5.7" fill="none" stroke="#F2B9D5" stroke-width="3.5"/>
<circle cx="510" cy="857.1" r="5.7" fill="none" stroke="#F2B9D5" stroke-width="3.5"/>
<circle cx="510" cy="861.5" r="5.7" fill="none" stroke="#F2B9D5" stroke-width="3.5"/>
<circle cx="510" cy="866" r="5.7" fill="none" stroke="#F2B9D5" stroke-width="3.5"/>
<circle cx="546.2" cy="824.8" r="5.7" fill="none" stroke="#F2B9D5" stroke-width="3.5"/>
<circle cx="546.2" cy="829.2" r="5.7" fill="none" stroke="#F2B9D5" stroke-width="3.5"/>
<circle cx="546.2" cy="833.6" r="5.7" fill="none" stroke="#F2B9D5" stroke-width="3.5"/>
<circle cx="546.2" cy="837.9" r="5.7" fill="none" stroke="#F2B9D5" stroke-width="3.5"/>
<circle cx="546.2" cy="842.3" r="5.7" fill="none" stroke="#F2B9D5" stroke-width="3.5"/>
<circle cx="546.2" cy="846.7" r="5.7" fill="none" stroke="#F2B9D5" stroke-width="3.5"/>
<circle cx="546.2" cy="851.1" r="5.7" fill="none" stroke="#F2B9D5" stroke-width="3.5"/>
<circle cx="546.2" cy="855.5" r="5.7" fill="none" stroke="#F2B9D5" stroke-width="3.5"/>
<circle cx="546.2" cy="859.9" r="5.7" fill="none" stroke="#F2B9D5" stroke-width="3.5"/>
<circle cx="546.2" cy="864.2" r="5.7" fill="none" stroke="#F2B9D5" stroke-width="3.5"/>
<circle cx="546.2" cy="868.6" r="5.7" fill="none" stroke="#F2B9D5" stroke-width="3.5"/>
<circle cx="546.2" cy="873" r="5.7" fill="none" stroke="#F2B9D5" stroke-width="3.5"/>
<circle cx="546.2" cy="905.6" r="5.7" fill="none" stroke="#F2B9D5" stroke-width="3.5"/>
<circle cx="593.4" cy="846.3" r="5.7" fill="none" stroke="#F2B9D5" stroke-width="3.5"/>
<circle cx="593.4" cy="850.7" r="5.7" fill="none" stroke="#F2B9D5" stroke-width="3.5"/>
<circle cx="593.4" cy="855.1" r="5.7" fill="none" stroke="#F2B9D5" stroke-width="3.5"/>
<circle cx="593.4" cy="859.5" r="5.7" fill="none" stroke="#F2B9D5" stroke-width="3.5"/>
<circle cx="593.4" cy="864" r="5.7" fill="none" stroke="#F2B9D5" stroke-width="3.5"/>
<circle cx="593.4" cy="868.4" r="5.7" fill="none" stroke="#F2B9D5" stroke-width="3.5"/>
<circle cx="593.4" cy="872.8" r="5.7" fill="none" stroke="#F2B9D5" stroke-width="3.5"/>
<circle cx="593.4" cy="877.2" r="5.7" fill="none" stroke="#F2B9D5" stroke-width="3.5"/>
<circle cx="593.4" cy="881.6" r="5.7" fill="none" stroke="#F2B9D5" stroke-width="3.5"/>
<circle cx="593.4" cy="886" r="5.7" fill="none" stroke="#F2B9D5" stroke-width="3.5"/>
<circle cx="593.4" cy="890.4" r="5.7" fill="none" stroke="#F2B9D5" stroke-width="3.5"/>
<circle cx="593.4" cy="894.8" r="5.7" fill="none" stroke="#F2B9D5" stroke-width="3.5"/>
<circle cx="593.4" cy="899.3" r="5.7" fill="none" stroke="#F2B9D5" stroke-width="3.5"/>
<circle cx="593.4" cy="903.7" r="5.7" fill="none" stroke="#F2B9D5" stroke-width="3.5"/>
<circle cx="593.4" cy="908.1" r="5.7" fill="none" stroke="#F2B9D5" stroke-width="3.5"/>
<circle cx="593.4" cy="912.5" r="5.7" fill="none" stroke="#F2B9D5" stroke-width="3.5"/>
<circle cx="593.4" cy="930.5" r="5.7" fill="none" stroke="#F2B9D5" stroke-width="3.5"/>
<circle cx="629.5" cy="878" r="5.7" fill="none" stroke="#F2B9D5" stroke-width="3.5"/>
<circle cx="629.5" cy="882.5" r="5.7" fill="none" stroke="#F2B9D5" stroke-width="3.5"/>
<circle cx="629.5" cy="887.1" r="5.7" fill="none" stroke="#F2B9D5" stroke-width="3.5"/>
<circle cx="629.5" cy="891.6" r="5.7" fill="none" stroke="#F2B9D5" stroke-width="3.5"/>
<circle cx="629.5" cy="896.2" r="5.7" fill="none" stroke="#F2B9D5" stroke-width="3.5"/>
<circle cx="629.5" cy="900.8" r="5.7" fill="none" stroke="#F2B9D5" stroke-width="3.5"/>
<circle cx="629.5" cy="905.3" r="5.7" fill="none" stroke="#F2B9D5" stroke-width="3.5"/>
<circle cx="629.5" cy="909.9" r="5.7" fill="none" stroke="#F2B9D5" stroke-width="3.5"/>
<circle cx="629.5" cy="914.4" r="5.7" fill="none" stroke="#F2B9D5" stroke-width="3.5"/>
<circle cx="629.5" cy="919" r="5.7" fill="none" stroke="#F2B9D5" stroke-width="3.5"/>
<circle cx="629.5" cy="923.5" r="5.7" fill="none" stroke="#F2B9D5" stroke-width="3.5"/>
<circle cx="629.5" cy="928.1" r="5.7" fill="none" stroke="#F2B9D5" stroke-width="3.5"/>
<circle cx="629.5" cy="932.6" r="5.7" fill="none" stroke="#F2B9D5" stroke-width="3.5"/>
<circle cx="629.5" cy="937.2" r="5.7" fill="none" stroke="#F2B9D5" stroke-width="3.5"/>
<circle cx="629.5" cy="941.7" r="5.7" fill="none" stroke="#F2B9D5" stroke-width="3.5"/>
<circle cx="629.5" cy="953.7" r="5.7" fill="none" stroke="#F2B9D5" stroke-width="3.5"/>
<circle cx="629.5" cy="957" r="5.7" fill="none" stroke="#F2B9D5" stroke-width="3.5"/>
<circle cx="629.5" cy="960.6" r="5.7" fill="none" stroke="#F2B9D5" stroke-width="3.5"/>
<circle cx="711.1" cy="893.6" r="5.7" fill="none" stroke="#F2B9D5" stroke-width="3.5"/>
<circle cx="711.1" cy="907.3" r="5.7" fill="none" stroke="#F2B9D5" stroke-width="3.5"/>
<circle cx="711.1" cy="916" r="5.7" fill="none" stroke="#F2B9D5" stroke-width="3.5"/>
<circle cx="711.1" cy="927" r="5.7" fill="none" stroke="#F2B9D5" stroke-width="3.5"/>
<circle cx="711.1" cy="937.4" r="5.7" fill="none" stroke="#F2B9D5" stroke-width="3.5"/>
<circle cx="711.1" cy="991.5" r="5.7" fill="none" stroke="#F2B9D5" stroke-width="3.5"/>
<circle cx="711.1" cy="996.7" r="5.7" fill="none" stroke="#F2B9D5" stroke-width="3.5"/>
<circle cx="711.1" cy="1001.8" r="5.7" fill="none" stroke="#F2B9D5" stroke-width="3.5"/>
<circle cx="711.1" cy="1007" r="5.7" fill="none" stroke="#F2B9D5" stroke-width="3.5"/>
<circle cx="711.1" cy="1054.2" r="5.7" fill="none" stroke="#F2B9D5" stroke-width="3.5"/>
<circle cx="711.1" cy="1068.9" r="5.7" fill="none" stroke="#F2B9D5" stroke-width="3.5"/>
<line x1="264.6" y1="803.3" x2="264.6" y2="815.4" stroke="#2B00F7" stroke-width="3.8" />
<line x1="252.6" y1="803.3" x2="276.6" y2="803.3" stroke="#2B00F7" stroke-width="3.8" />
<line x1="252.6" y1="815.4" x2="276.6" y2="815.4" stroke="#2B00F7" stroke-width="3.8" />
<circle cx="264.6" cy="809.4" r="7.6" fill="#2B00F7" stroke="none" stroke-width="0"/>
<line x1="384" y1="792.2" x2="384" y2="807.6" stroke="#2B00F7" stroke-width="3.8" />
<line x1="372" y1="792.2" x2="396" y2="792.2" stroke="#2B00F7" stroke-width="3.8" />
<line x1="372" y1="807.6" x2="396" y2="807.6" stroke="#2B00F7" stroke-width="3.8" />
<circle cx="384" cy="800" r="7.6" fill="#2B00F7" stroke="none" stroke-width="0"/>
<line x1="467.4" y1="819.7" x2="467.4" y2="831.7" stroke="#2B00F7" stroke-width="3.8" />
<line x1="455.4" y1="819.7" x2="479.4" y2="819.7" stroke="#2B00F7" stroke-width="3.8" />
<line x1="455.4" y1="831.7" x2="479.4" y2="831.7" stroke="#2B00F7" stroke-width="3.8" />
<circle cx="467.4" cy="825.7" r="7.6" fill="#2B00F7" stroke="none" stroke-width="0"/>
<line x1="503.7" y1="836.9" x2="503.7" y2="847.2" stroke="#2B00F7" stroke-width="3.8" />
<line x1="491.7" y1="836.9" x2="515.7" y2="836.9" stroke="#2B00F7" stroke-width="3.8" />
<line x1="491.7" y1="847.2" x2="515.7" y2="847.2" stroke="#2B00F7" stroke-width="3.8" />
<circle cx="503.7" cy="842.9" r="7.6" fill="#2B00F7" stroke="none" stroke-width="0"/>
<line x1="539.3" y1="851.5" x2="539.3" y2="861.8" stroke="#2B00F7" stroke-width="3.8" />
<line x1="527.3" y1="851.5" x2="551.3" y2="851.5" stroke="#2B00F7" stroke-width="3.8" />
<line x1="527.3" y1="861.8" x2="551.3" y2="861.8" stroke="#2B00F7" stroke-width="3.8" />
<circle cx="539.3" cy="857.5" r="7.6" fill="#2B00F7" stroke="none" stroke-width="0"/>
<line x1="586.5" y1="875.5" x2="586.5" y2="886.7" stroke="#2B00F7" stroke-width="3.8" />
<line x1="574.5" y1="875.5" x2="598.5" y2="875.5" stroke="#2B00F7" stroke-width="3.8" />
<line x1="574.5" y1="886.7" x2="598.5" y2="886.7" stroke="#2B00F7" stroke-width="3.8" />
<circle cx="586.5" cy="880.7" r="7.6" fill="#2B00F7" stroke="none" stroke-width="0"/>
<line x1="622.6" y1="899.6" x2="622.6" y2="909.9" stroke="#2B00F7" stroke-width="3.8" />
<line x1="610.6" y1="899.6" x2="634.6" y2="899.6" stroke="#2B00F7" stroke-width="3.8" />
<line x1="610.6" y1="909.9" x2="634.6" y2="909.9" stroke="#2B00F7" stroke-width="3.8" />
<circle cx="622.6" cy="903" r="7.6" fill="#2B00F7" stroke="none" stroke-width="0"/>
<line x1="705.6" y1="971.8" x2="705.6" y2="981.2" stroke="#2B00F7" stroke-width="3.8" />
<line x1="693.6" y1="971.8" x2="717.6" y2="971.8" stroke="#2B00F7" stroke-width="3.8" />
<line x1="693.6" y1="981.2" x2="717.6" y2="981.2" stroke="#2B00F7" stroke-width="3.8" />
<circle cx="705.6" cy="976.9" r="7.6" fill="#2B00F7" stroke="none" stroke-width="0"/>
<line x1="274" y1="799.4" x2="274" y2="812.8" stroke="#F81E12" stroke-width="3.8" />
<line x1="262" y1="799.4" x2="286" y2="799.4" stroke="#F81E12" stroke-width="3.8" />
<line x1="262" y1="812.8" x2="286" y2="812.8" stroke="#F81E12" stroke-width="3.8" />
<circle cx="274" cy="806" r="7.6" fill="#F81E12" stroke="none" stroke-width="0"/>
<line x1="391.2" y1="797.3" x2="391.2" y2="812.8" stroke="#F81E12" stroke-width="3.8" />
<line x1="379.2" y1="797.3" x2="403.2" y2="797.3" stroke="#F81E12" stroke-width="3.8" />
<line x1="379.2" y1="812.8" x2="403.2" y2="812.8" stroke="#F81E12" stroke-width="3.8" />
<circle cx="391.2" cy="803.9" r="7.6" fill="#F81E12" stroke="none" stroke-width="0"/>
<line x1="473.7" y1="806" x2="473.7" y2="819.3" stroke="#F81E12" stroke-width="3.8" />
<line x1="461.7" y1="806" x2="485.7" y2="806" stroke="#F81E12" stroke-width="3.8" />
<line x1="461.7" y1="819.3" x2="485.7" y2="819.3" stroke="#F81E12" stroke-width="3.8" />
<circle cx="473.7" cy="812.8" r="7.6" fill="#F81E12" stroke="none" stroke-width="0"/>
<line x1="510" y1="828.5" x2="510" y2="838" stroke="#F81E12" stroke-width="3.8" />
<line x1="498" y1="828.5" x2="522" y2="828.5" stroke="#F81E12" stroke-width="3.8" />
<line x1="498" y1="838" x2="522" y2="838" stroke="#F81E12" stroke-width="3.8" />
<circle cx="510" cy="833.4" r="7.6" fill="#F81E12" stroke="none" stroke-width="0"/>
<line x1="546.2" y1="845" x2="546.2" y2="853.7" stroke="#F81E12" stroke-width="3.8" />
<line x1="534.2" y1="845" x2="558.2" y2="845" stroke="#F81E12" stroke-width="3.8" />
<line x1="534.2" y1="853.7" x2="558.2" y2="853.7" stroke="#F81E12" stroke-width="3.8" />
<circle cx="546.2" cy="849.2" r="7.6" fill="#F81E12" stroke="none" stroke-width="0"/>
<line x1="593.4" y1="877.2" x2="593.4" y2="886.7" stroke="#F81E12" stroke-width="3.8" />
<line x1="581.4" y1="877.2" x2="605.4" y2="877.2" stroke="#F81E12" stroke-width="3.8" />
<line x1="581.4" y1="886.7" x2="605.4" y2="886.7" stroke="#F81E12" stroke-width="3.8" />
<circle cx="593.4" cy="881.9" r="7.6" fill="#F81E12" stroke="none" stroke-width="0"/>
<line x1="629.5" y1="903.9" x2="629.5" y2="913.3" stroke="#F81E12" stroke-width="3.8" />
<line x1="617.5" y1="903.9" x2="641.5" y2="903.9" stroke="#F81E12" stroke-width="3.8" />
<line x1="617.5" y1="913.3" x2="641.5" y2="913.3" stroke="#F81E12" stroke-width="3.8" />
<circle cx="629.5" cy="908.2" r="7.6" fill="#F81E12" stroke="none" stroke-width="0"/>
<line x1="711.1" y1="951.1" x2="711.1" y2="969.5" stroke="#F81E12" stroke-width="3.8" />
<line x1="699.1" y1="951.1" x2="723.1" y2="951.1" stroke="#F81E12" stroke-width="3.8" />
<line x1="699.1" y1="969.5" x2="723.1" y2="969.5" stroke="#F81E12" stroke-width="3.8" />
<circle cx="711.1" cy="959.7" r="7.6" fill="#F81E12" stroke="none" stroke-width="0"/>
<line x1="1289.9" y1="101" x2="1289.9" y2="472.2" stroke="#000" stroke-width="4" />
<line x1="1260.7" y1="213" x2="1289.9" y2="213" stroke="#000" stroke-width="4" />
<text x="1242" y="227.3" font-size="40" fill="#000" stroke="#000" stroke-width="0.7" text-anchor="end" transform="translate(1242 227.3) scale(1 1.035) translate(-1242 -227.3)" >10</text>
<line x1="1260.7" y1="328.2" x2="1289.9" y2="328.2" stroke="#000" stroke-width="4" />
<text x="1242" y="342.5" font-size="40" fill="#000" stroke="#000" stroke-width="0.7" text-anchor="end" transform="translate(1242 342.5) scale(1 1.035) translate(-1242 -342.5)" >1</text>
<line x1="1260.7" y1="443" x2="1289.9" y2="443" stroke="#000" stroke-width="4" />
<text x="1242" y="457.3" font-size="40" fill="#000" stroke="#000" stroke-width="0.7" text-anchor="end" transform="translate(1242 457.3) scale(1 1.035) translate(-1242 -457.3)" >0.1</text>
<path d="M1307.5,511.2 V484.3 H1360.7" stroke="#000" stroke-width="4" fill="none" stroke-linejoin="miter" stroke-linecap="butt" />
<line x1="1386.3" y1="484.3" x2="1784" y2="484.3" stroke="#000" stroke-width="4" />
<line x1="1423.1" y1="482.3" x2="1423.1" y2="512" stroke="#000" stroke-width="4" />
<line x1="1542.6" y1="482.3" x2="1542.6" y2="512" stroke="#000" stroke-width="4" />
<line x1="1662.4" y1="482.3" x2="1662.4" y2="512" stroke="#000" stroke-width="4" />
<line x1="1781.9" y1="482.3" x2="1781.9" y2="512" stroke="#000" stroke-width="4" />
<line x1="1348.8" y1="499.3" x2="1378" y2="476.2" stroke="#000" stroke-width="3.4"/>
<line x1="1365" y1="501.1" x2="1393.9" y2="478.3" stroke="#000" stroke-width="3.4"/>
<text x="1309.5" y="585" font-size="40" fill="#000" stroke="#000" stroke-width="0.7" text-anchor="middle" transform="translate(1309.5 585) scale(1 1.035) translate(-1309.5 -585)" >0</text>
<text x="1423.1" y="585" font-size="40" fill="#000" stroke="#000" stroke-width="0.7" text-anchor="middle" transform="translate(1423.1 585) scale(1 1.035) translate(-1423.1 -585)">10<tspan font-size="27.5" dy="-26.3">2</tspan></text>
<text x="1542.6" y="585" font-size="40" fill="#000" stroke="#000" stroke-width="0.7" text-anchor="middle" transform="translate(1542.6 585) scale(1 1.035) translate(-1542.6 -585)">10<tspan font-size="27.5" dy="-26.3">3</tspan></text>
<text x="1662.4" y="585" font-size="40" fill="#000" stroke="#000" stroke-width="0.7" text-anchor="middle" transform="translate(1662.4 585) scale(1 1.035) translate(-1662.4 -585)">10<tspan font-size="27.5" dy="-26.3">4</tspan></text>
<text x="1781.9" y="585" font-size="40" fill="#000" stroke="#000" stroke-width="0.7" text-anchor="middle" transform="translate(1781.9 585) scale(1 1.035) translate(-1781.9 -585)">10<tspan font-size="27.5" dy="-26.3">5</tspan></text>
<text x="1558" y="645" font-size="40" fill="#000" stroke="#000" stroke-width="0.7" text-anchor="middle" transform="translate(1558 645) scale(1 1.035) translate(-1558 -645)" >Background (R*/cone/s)</text>
<text x="1166" y="284" font-size="40" fill="#000" stroke="#000" stroke-width="0.7" text-anchor="middle" transform="rotate(-90 1166 284) translate(1166 284) scale(1 1.035) translate(-1166 -284)">Gain<tspan font-size="27" dy="8.6">Area</tspan><tspan dy="-8.6"> (mV sec/R*)</tspan></text>
<text x="1317.8" y="383.4" font-size="40" fill="#F5276E" stroke="#F5276E" stroke-width="0.7" text-anchor="start" transform="translate(1317.8 383.4) scale(1 1.035) translate(-1317.8 -383.4)" >Fovea</text>
<text x="1317.8" y="437" font-size="40" fill="#3526F5" stroke="#3526F5" stroke-width="0.7" text-anchor="start" transform="translate(1317.8 437) scale(1 1.035) translate(-1317.8 -437)" >Periphery</text>
<clipPath id="hatchE"><path d="M1668,41 L1668.2,46.9 L1668.4,47.3 L1668.7,47.7 L1669,48.1 L1669.2,48.5 L1669.4,49 L1669.7,49.5 L1669.9,50 L1670.1,50.5 L1670.3,51.1 L1670.5,51.7 L1670.7,52.4 L1670.9,53.1 L1671.1,53.9 L1671.3,54.7 L1671.5,55.5 L1671.7,56.4 L1671.9,57.3 L1672.1,58.3 L1672.3,59.4 L1672.5,60.5 L1672.7,61.6 L1673,62.9 L1673.3,64.2 L1673.6,65.6 L1673.9,67.1 L1674.2,68.7 L1674.5,70.3 L1674.9,71.9 L1675.2,73.6 L1675.6,75.4 L1675.9,77.2 L1676.3,79.1 L1676.7,81 L1677.1,83.1 L1677.5,85.2 L1677.9,87.4 L1678.4,89.6 L1678.8,91.9 L1679.3,94.1 L1679.7,96.4 L1680.2,98.6 L1680.6,100.8 L1681,103 L1681.5,105.3 L1681.9,107.6 L1682.4,109.9 L1682.8,112.2 L1683.3,114.5 L1683.7,116.6 L1684.2,118.7 L1684.6,120.6 L1685,122.4 L1685.4,124 L1685.8,125.5 L1686.2,127 L1686.6,128.3 L1687,129.5 L1687.3,130.6 L1687.7,131.7 L1688,132.6 L1688.4,133.5 L1688.7,134.3 L1689,135 L1689.3,135.6 L1689.5,136.2 L1689.8,136.6 L1690,137 L1690.2,137.2 L1690.5,137.4 L1690.8,137.6 L1691.1,137.6 L1691.4,137.6 L1691.8,137.5 L1692.2,137.4 L1692.6,137.2 L1693,137 L1693.4,136.6 L1693.9,136.2 L1694.4,135.6 L1694.8,135 L1695.3,134.2 L1695.8,133.2 L1696.3,132.1 L1696.8,130.8 L1697.3,129.3 L1697.9,127.7 L1698.4,126 L1699,124.2 L1699.5,122.4 L1700.1,120.6 L1700.7,118.8 L1701.2,117 L1701.7,115.3 L1702.3,113.5 L1702.8,111.8 L1703.3,110 L1703.8,108.2 L1704.4,106.4 L1704.9,104.5 L1705.4,102.6 L1706,100.6 L1706.6,98.6 L1707.2,96.5 L1707.8,94.2 L1708.5,91.9 L1709.2,89.5 L1709.8,87 L1710.5,84.6 L1711.2,82.3 L1711.9,80 L1712.5,77.9 L1713.1,75.9 L1713.7,74 L1714.3,72.3 L1714.8,70.6 L1715.4,68.9 L1715.9,67.4 L1716.5,65.9 L1717,64.5 L1717.5,63.2 L1718,61.9 L1718.5,60.7 L1719,59.6 L1719.4,58.6 L1719.9,57.6 L1720.3,56.7 L1720.7,55.9 L1721.1,55.2 L1721.5,54.5 L1722,53.8 L1722.4,53.2 L1722.8,52.6 L1723.2,52.1 L1723.6,51.6 L1724,51.2 L1724.5,50.9 L1724.9,50.6 L1725.3,50.3 L1725.7,50 L1726,41 Z"/></clipPath>
<path d="M1660,-2.4 L1740,-66.4 M1660,6.8 L1740,-57.2 M1660,16 L1740,-48 M1660,25.2 L1740,-38.8 M1660,34.4 L1740,-29.6 M1660,43.6 L1740,-20.4 M1660,52.8 L1740,-11.2 M1660,62 L1740,-2 M1660,71.2 L1740,7.2 M1660,80.4 L1740,16.4 M1660,89.6 L1740,25.6 M1660,98.8 L1740,34.8 M1660,108 L1740,44 M1660,117.2 L1740,53.2 M1660,126.4 L1740,62.4 M1660,135.6 L1740,71.6 M1660,144.8 L1740,80.8 M1660,154 L1740,90 M1660,163.2 L1740,99.2 M1660,172.4 L1740,108.4 M1660,181.6 L1740,117.6 M1660,190.8 L1740,126.8 M1660,200 L1740,136 M1660,209.2 L1740,145.2 M1660,218.4 L1740,154.4 M1660,227.6 L1740,163.6" stroke="#000" stroke-width="2.8" clip-path="url(#hatchE)"/>
<path d="M1627.6,49.6 L1627.8,49.5 L1628.1,49.6 L1628.3,50 L1628.7,49.9 L1629,49.8 L1629.4,49.9 L1629.8,50.3 L1630.2,50.2 L1630.6,50.5 L1631.1,50.6 L1631.5,50.3 L1631.9,50.3 L1632.3,50.2 L1632.7,49.9 L1633.1,50.1 L1633.5,49.4 L1634,48.8 L1634.4,49 L1634.8,48.6 L1635.3,48.1 L1635.8,47.7 L1636.3,47.4 L1636.8,47.6 L1637.3,47.1 L1637.9,46.8 L1638.4,46.7 L1639,46.7 L1639.7,46.9 L1640.3,46.8 L1641,46.5 L1641.6,46.1 L1642.3,46.2 L1642.9,46.4 L1643.6,45.8 L1644.3,45.9 L1644.9,45.9 L1645.5,45.8 L1646.2,45.3 L1646.8,45.3 L1647.5,45.2 L1648.1,44.7 L1648.8,44.7 L1649.4,44.3 L1650,43.8 L1650.7,43.8 L1651.3,43.7 L1651.9,43.7 L1652.5,43.8 L1653.1,44.1 L1653.6,44.4 L1654.2,44.6 L1654.7,44.8 L1655.3,44.8 L1655.8,44.6 L1656.3,44.4 L1656.9,44.6 L1657.4,44.8 L1657.9,45 L1658.5,44.7 L1659,44.7 L1659.6,45.1 L1660.1,45.2 L1660.7,45.2 L1661.3,44.8 L1661.9,44.8 L1662.5,45.1 L1663,45.1 L1663.6,45.3 L1664.1,44.9 L1664.6,44.9 L1665.1,45.1 L1665.5,45.1 L1665.9,45.4 L1666.2,45.5 L1666.6,45.3 L1666.8,45.2 L1667.1,45.9 L1667.4,45.8 L1667.6,45.9 L1667.8,46.2 L1668,46.7 L1668.3,47.3 L1668.5,47.5 L1668.7,47.8 L1668.9,48.3 L1669.1,48.4 L1669.3,48.7 L1669.5,49.2 L1669.7,49.6 L1669.9,49.7 L1670,50 L1670.2,50.4 L1670.4,51.2 L1670.6,52 L1670.7,52.8 L1670.9,53.5 L1671.1,53.8 L1671.2,54.6 L1671.4,55.6 L1671.6,56 L1671.7,56.3 L1671.9,57.1 L1672,57.9 L1672.2,58.6 L1672.4,59.3 L1672.6,60.2 L1672.8,61.7 L1673,62.5 L1673.2,63.9 L1673.5,64.9 L1673.7,66 L1674,67.6 L1674.2,68.8 L1674.5,69.9 L1674.8,71.4 L1675.1,73.1 L1675.4,74.5 L1675.7,76.3 L1676,77.6 L1676.3,79.2 L1676.6,80.9 L1677,82.5 L1677.3,84.3 L1677.7,86 L1678,87.6 L1678.4,89.2 L1678.8,91.5 L1679.1,93.5 L1679.5,95.7 L1679.9,97.5 L1680.2,99.3 L1680.6,100.7 L1681,102.8 L1681.3,104.4 L1681.7,106.3 L1682.1,108 L1682.5,110 L1682.8,111.9 L1683.2,113.9 L1683.6,115.9 L1683.9,117.7 L1684.3,119.2 L1684.7,121 L1685,122.6 L1685.3,124.1 L1685.7,124.9 L1686,126.3 L1686.3,127.7 L1686.6,128.5 L1687,129.3 L1687.3,130.5 L1687.6,131.3 L1687.9,132.1 L1688.1,133.1 L1688.4,133.7 L1688.7,134.1 L1689,134.6 L1689.2,135.1 L1689.4,135.9 L1689.6,136.2 L1689.8,136.8 L1690,136.7 L1690.2,136.9 L1690.4,137.3 L1690.6,137.4 L1690.9,137.5 L1691.1,137.9 L1691.4,137.6 L1691.7,137.3 L1692,137 L1692.4,137 L1692.7,136.8 L1693.1,136.7 L1693.4,136.1 L1693.8,135.6 L1694.2,135.4 L1694.6,135.2 L1695,134.5 L1695.4,134.2 L1695.8,133.4 L1696.2,132.3 L1696.6,131.4 L1697.1,130 L1697.5,128.8 L1698,127.7 L1698.4,126.2 L1698.9,124.5 L1699.4,122.7 L1699.8,121.4 L1700.3,119.7 L1700.7,118.2 L1701.2,116.9 L1701.6,115.8 L1702.1,114.4 L1702.5,112.8 L1703,111.5 L1703.4,109.8 L1703.8,108.2 L1704.3,106.8 L1704.7,105.2 L1705.2,103.4 L1705.6,101.8 L1706.1,100.4 L1706.6,98.5 L1707.1,96.9 L1707.6,94.7 L1708.2,93.2 L1708.7,91.3 L1709.3,89.1 L1709.8,87.4 L1710.4,85.5 L1711,83 L1711.5,80.9 L1712.1,79.2 L1712.6,77.8 L1713.1,75.8 L1713.6,74 L1714.1,72.5 L1714.6,70.9 L1715,69.6 L1715.5,68.5 L1715.9,67.2 L1716.4,65.8 L1716.8,64.4 L1717.3,63.7 L1717.7,62.6 L1718.1,61.6 L1718.5,60.6 L1718.9,59.9 L1719.3,59.2 L1719.7,58.5 L1720,57.7 L1720.4,56.7 L1720.7,55.8 L1721.1,54.9 L1721.4,54.7 L1721.7,53.9 L1722.1,53.5 L1722.4,53.3 L1722.8,52.6 L1723.2,52.1 L1723.5,51.6 L1723.8,51.7 L1724.2,51.4 L1724.5,51.3 L1724.9,50.5 L1725.2,50.5 L1725.6,50.1 L1726,49.8 L1726.3,49.7 L1726.8,49.5 L1727.2,49.3 L1727.7,48.8 L1728.1,48.4 L1728.7,47.6 L1729.2,47 L1729.7,46.5 L1730.3,45.7 L1730.8,44.8 L1731.4,44.4 L1731.9,44.1 L1732.5,43.7 L1733.1,42.8 L1733.6,42.2 L1734.1,41.6 L1734.7,41.1 L1735.3,41.1 L1735.8,40.5 L1736.4,39.9 L1737,39.4 L1737.5,39 L1738.1,38.9 L1738.6,38.5 L1739.1,38 L1739.6,37.8 L1740.1,37.6 L1740.5,38 L1740.9,37.8 L1741.3,38.2 L1741.7,38 L1742,38.5 L1742.4,38.6 L1742.7,39.1 L1743,39.3 L1743.4,39.2 L1743.7,39.3 L1744.1,39.9 L1744.5,40.2 L1744.9,40.4 L1745.3,40.5 L1745.7,40.8 L1746.1,41 L1746.5,40.8 L1746.9,41.2 L1747.3,41.3 L1747.7,41.8 L1748.2,42 L1748.7,42.3 L1749.3,42 L1749.9,42.4 L1750.6,42.5 L1751.3,42.8 L1752,43.1 L1752.9,43 L1753.7,43 L1754.5,43.2 L1755.4,42.9 L1756.3,43 L1757.1,43.3 L1758,43.3 L1758.8,43.4 L1759.6,43.7 L1760.4,44.1 L1761.1,44 L1761.9,43.9 L1762.7,44.3 L1763.5,44.4 L1764.2,45.2 L1765,45.4 L1765.7,45.6 L1766.4,46 L1767.1,46.4 L1767.7,46.1 L1768.3,46.1 L1768.9,45.8 L1769.4,45.8 L1769.9,45.4 L1770.3,45.6 L1770.7,45.2 L1771.1,44.8 L1771.5,44.8 L1771.9,44.7 L1772.3,44.1 L1772.8,43.8 L1773.2,43.7 L1773.7,43.3 L1774.2,42.9 L1774.8,43.2 L1775.3,42.9 L1775.9,43.1 L1776.5,43.2 L1777.1,43.1 L1777.7,42.9 L1778.2,43.2 L1778.8,43.3 L1779.3,42.8 L1779.8,43.1 L1780.2,43.1 L1780.6,42.9 L1780.9,42.7 L1781.2,42.6 L1781.5,43 L1781.7,43.3 L1781.9,43.2 L1782.1,43 L1782.4,42.8 L1782.6,43 L1782.8,43 L1783.1,42.9 L1783.4,43 L1783.7,43.3 L1784.1,43 L1784.5,43.1 L1784.9,43.1 L1785.4,42.9 L1785.8,42.7 L1786.2,42.5 L1786.6,42.5 L1787,43 L1787.3,43.2 L1787.6,43.2 L1787.8,43.3" stroke="#000" stroke-width="3.8" fill="none" stroke-linejoin="round" stroke-linecap="round" />
<circle cx="1304.8" cy="133.4" r="6" fill="none" stroke="#BACDF6" stroke-width="3.6"/>
<circle cx="1304.8" cy="137.9" r="6" fill="none" stroke="#BACDF6" stroke-width="3.6"/>
<circle cx="1304.8" cy="142.3" r="6" fill="none" stroke="#BACDF6" stroke-width="3.6"/>
<circle cx="1304.8" cy="146.8" r="6" fill="none" stroke="#BACDF6" stroke-width="3.6"/>
<circle cx="1304.8" cy="151.3" r="6" fill="none" stroke="#BACDF6" stroke-width="3.6"/>
<circle cx="1304.8" cy="155.7" r="6" fill="none" stroke="#BACDF6" stroke-width="3.6"/>
<circle cx="1304.8" cy="160.2" r="6" fill="none" stroke="#BACDF6" stroke-width="3.6"/>
<circle cx="1304.8" cy="164.7" r="6" fill="none" stroke="#BACDF6" stroke-width="3.6"/>
<circle cx="1304.8" cy="169.1" r="6" fill="none" stroke="#BACDF6" stroke-width="3.6"/>
<circle cx="1304.8" cy="173.6" r="6" fill="none" stroke="#BACDF6" stroke-width="3.6"/>
<circle cx="1304.8" cy="178" r="6" fill="none" stroke="#BACDF6" stroke-width="3.6"/>
<circle cx="1304.8" cy="182.5" r="6" fill="none" stroke="#BACDF6" stroke-width="3.6"/>
<circle cx="1304.8" cy="187" r="6" fill="none" stroke="#BACDF6" stroke-width="3.6"/>
<circle cx="1304.8" cy="191.4" r="6" fill="none" stroke="#BACDF6" stroke-width="3.6"/>
<circle cx="1304.8" cy="195.9" r="6" fill="none" stroke="#BACDF6" stroke-width="3.6"/>
<circle cx="1304.8" cy="200.4" r="6" fill="none" stroke="#BACDF6" stroke-width="3.6"/>
<circle cx="1304.8" cy="204.8" r="6" fill="none" stroke="#BACDF6" stroke-width="3.6"/>
<circle cx="1304.8" cy="209.3" r="6" fill="none" stroke="#BACDF6" stroke-width="3.6"/>
<circle cx="1304.8" cy="240.1" r="6" fill="none" stroke="#BACDF6" stroke-width="3.6"/>
<circle cx="1304.8" cy="245.5" r="6" fill="none" stroke="#BACDF6" stroke-width="3.6"/>
<circle cx="1304.8" cy="251" r="6" fill="none" stroke="#BACDF6" stroke-width="3.6"/>
<circle cx="1304.8" cy="255.5" r="6" fill="none" stroke="#BACDF6" stroke-width="3.6"/>
<circle cx="1304.8" cy="260" r="6" fill="none" stroke="#BACDF6" stroke-width="3.6"/>
<circle cx="1304.8" cy="283.1" r="6" fill="none" stroke="#BACDF6" stroke-width="3.6"/>
<circle cx="1423.8" cy="103.6" r="6" fill="none" stroke="#BACDF6" stroke-width="3.6"/>
<circle cx="1423.8" cy="135.2" r="6" fill="none" stroke="#BACDF6" stroke-width="3.6"/>
<circle cx="1423.8" cy="151.5" r="6" fill="none" stroke="#BACDF6" stroke-width="3.6"/>
<circle cx="1423.8" cy="155.9" r="6" fill="none" stroke="#BACDF6" stroke-width="3.6"/>
<circle cx="1423.8" cy="160.4" r="6" fill="none" stroke="#BACDF6" stroke-width="3.6"/>
<circle cx="1423.8" cy="164.8" r="6" fill="none" stroke="#BACDF6" stroke-width="3.6"/>
<circle cx="1423.8" cy="169.3" r="6" fill="none" stroke="#BACDF6" stroke-width="3.6"/>
<circle cx="1423.8" cy="173.7" r="6" fill="none" stroke="#BACDF6" stroke-width="3.6"/>
<circle cx="1423.8" cy="178.2" r="6" fill="none" stroke="#BACDF6" stroke-width="3.6"/>
<circle cx="1423.8" cy="182.6" r="6" fill="none" stroke="#BACDF6" stroke-width="3.6"/>
<circle cx="1423.8" cy="187.1" r="6" fill="none" stroke="#BACDF6" stroke-width="3.6"/>
<circle cx="1423.8" cy="191.5" r="6" fill="none" stroke="#BACDF6" stroke-width="3.6"/>
<circle cx="1423.8" cy="196" r="6" fill="none" stroke="#BACDF6" stroke-width="3.6"/>
<circle cx="1423.8" cy="200.4" r="6" fill="none" stroke="#BACDF6" stroke-width="3.6"/>
<circle cx="1423.8" cy="204.9" r="6" fill="none" stroke="#BACDF6" stroke-width="3.6"/>
<circle cx="1423.8" cy="209.3" r="6" fill="none" stroke="#BACDF6" stroke-width="3.6"/>
<circle cx="1423.8" cy="216.6" r="6" fill="none" stroke="#BACDF6" stroke-width="3.6"/>
<circle cx="1423.8" cy="225.6" r="6" fill="none" stroke="#BACDF6" stroke-width="3.6"/>
<circle cx="1423.8" cy="234.7" r="6" fill="none" stroke="#BACDF6" stroke-width="3.6"/>
<circle cx="1423.8" cy="247.3" r="6" fill="none" stroke="#BACDF6" stroke-width="3.6"/>
<circle cx="1423.8" cy="252.7" r="6" fill="none" stroke="#BACDF6" stroke-width="3.6"/>
<circle cx="1423.8" cy="258.1" r="6" fill="none" stroke="#BACDF6" stroke-width="3.6"/>
<circle cx="1507.5" cy="151.5" r="6" fill="none" stroke="#BACDF6" stroke-width="3.6"/>
<circle cx="1507.5" cy="155.9" r="6" fill="none" stroke="#BACDF6" stroke-width="3.6"/>
<circle cx="1507.5" cy="160.4" r="6" fill="none" stroke="#BACDF6" stroke-width="3.6"/>
<circle cx="1507.5" cy="164.8" r="6" fill="none" stroke="#BACDF6" stroke-width="3.6"/>
<circle cx="1507.5" cy="169.2" r="6" fill="none" stroke="#BACDF6" stroke-width="3.6"/>
<circle cx="1507.5" cy="173.7" r="6" fill="none" stroke="#BACDF6" stroke-width="3.6"/>
<circle cx="1507.5" cy="178.1" r="6" fill="none" stroke="#BACDF6" stroke-width="3.6"/>
<circle cx="1507.5" cy="182.5" r="6" fill="none" stroke="#BACDF6" stroke-width="3.6"/>
<circle cx="1507.5" cy="187" r="6" fill="none" stroke="#BACDF6" stroke-width="3.6"/>
<circle cx="1507.5" cy="191.4" r="6" fill="none" stroke="#BACDF6" stroke-width="3.6"/>
<circle cx="1507.5" cy="195.8" r="6" fill="none" stroke="#BACDF6" stroke-width="3.6"/>
<circle cx="1507.5" cy="200.2" r="6" fill="none" stroke="#BACDF6" stroke-width="3.6"/>
<circle cx="1507.5" cy="204.7" r="6" fill="none" stroke="#BACDF6" stroke-width="3.6"/>
<circle cx="1507.5" cy="209.1" r="6" fill="none" stroke="#BACDF6" stroke-width="3.6"/>
<circle cx="1507.5" cy="213.5" r="6" fill="none" stroke="#BACDF6" stroke-width="3.6"/>
<circle cx="1507.5" cy="218" r="6" fill="none" stroke="#BACDF6" stroke-width="3.6"/>
<circle cx="1507.5" cy="222.4" r="6" fill="none" stroke="#BACDF6" stroke-width="3.6"/>
<circle cx="1507.5" cy="226.8" r="6" fill="none" stroke="#BACDF6" stroke-width="3.6"/>
<circle cx="1507.5" cy="231.3" r="6" fill="none" stroke="#BACDF6" stroke-width="3.6"/>
<circle cx="1507.5" cy="235.7" r="6" fill="none" stroke="#BACDF6" stroke-width="3.6"/>
<circle cx="1507.5" cy="240.1" r="6" fill="none" stroke="#BACDF6" stroke-width="3.6"/>
<circle cx="1507.5" cy="244.6" r="6" fill="none" stroke="#BACDF6" stroke-width="3.6"/>
<circle cx="1507.5" cy="249" r="6" fill="none" stroke="#BACDF6" stroke-width="3.6"/>
<circle cx="1507.5" cy="262.7" r="6" fill="none" stroke="#BACDF6" stroke-width="3.6"/>
<circle cx="1507.5" cy="297" r="6" fill="none" stroke="#BACDF6" stroke-width="3.6"/>
<circle cx="1544" cy="171.5" r="6" fill="none" stroke="#BACDF6" stroke-width="3.6"/>
<circle cx="1544" cy="176" r="6" fill="none" stroke="#BACDF6" stroke-width="3.6"/>
<circle cx="1544" cy="180.5" r="6" fill="none" stroke="#BACDF6" stroke-width="3.6"/>
<circle cx="1544" cy="185.1" r="6" fill="none" stroke="#BACDF6" stroke-width="3.6"/>
<circle cx="1544" cy="189.6" r="6" fill="none" stroke="#BACDF6" stroke-width="3.6"/>
<circle cx="1544" cy="194.1" r="6" fill="none" stroke="#BACDF6" stroke-width="3.6"/>
<circle cx="1544" cy="198.6" r="6" fill="none" stroke="#BACDF6" stroke-width="3.6"/>
<circle cx="1544" cy="203.1" r="6" fill="none" stroke="#BACDF6" stroke-width="3.6"/>
<circle cx="1544" cy="207.7" r="6" fill="none" stroke="#BACDF6" stroke-width="3.6"/>
<circle cx="1544" cy="212.2" r="6" fill="none" stroke="#BACDF6" stroke-width="3.6"/>
<circle cx="1544" cy="216.7" r="6" fill="none" stroke="#BACDF6" stroke-width="3.6"/>
<circle cx="1544" cy="221.2" r="6" fill="none" stroke="#BACDF6" stroke-width="3.6"/>
<circle cx="1544" cy="225.8" r="6" fill="none" stroke="#BACDF6" stroke-width="3.6"/>
<circle cx="1544" cy="230.3" r="6" fill="none" stroke="#BACDF6" stroke-width="3.6"/>
<circle cx="1544" cy="234.8" r="6" fill="none" stroke="#BACDF6" stroke-width="3.6"/>
<circle cx="1544" cy="239.3" r="6" fill="none" stroke="#BACDF6" stroke-width="3.6"/>
<circle cx="1544" cy="243.8" r="6" fill="none" stroke="#BACDF6" stroke-width="3.6"/>
<circle cx="1544" cy="248.4" r="6" fill="none" stroke="#BACDF6" stroke-width="3.6"/>
<circle cx="1544" cy="252.9" r="6" fill="none" stroke="#BACDF6" stroke-width="3.6"/>
<circle cx="1544" cy="257.4" r="6" fill="none" stroke="#BACDF6" stroke-width="3.6"/>
<circle cx="1544" cy="261.9" r="6" fill="none" stroke="#BACDF6" stroke-width="3.6"/>
<circle cx="1544" cy="266.4" r="6" fill="none" stroke="#BACDF6" stroke-width="3.6"/>
<circle cx="1544" cy="271" r="6" fill="none" stroke="#BACDF6" stroke-width="3.6"/>
<circle cx="1544" cy="275.5" r="6" fill="none" stroke="#BACDF6" stroke-width="3.6"/>
<circle cx="1544" cy="280" r="6" fill="none" stroke="#BACDF6" stroke-width="3.6"/>
<circle cx="1544" cy="302.5" r="6" fill="none" stroke="#BACDF6" stroke-width="3.6"/>
<circle cx="1544" cy="320.6" r="6" fill="none" stroke="#BACDF6" stroke-width="3.6"/>
<circle cx="1579.4" cy="168.3" r="6" fill="none" stroke="#BACDF6" stroke-width="3.6"/>
<circle cx="1579.4" cy="207.5" r="6" fill="none" stroke="#BACDF6" stroke-width="3.6"/>
<circle cx="1579.4" cy="211.9" r="6" fill="none" stroke="#BACDF6" stroke-width="3.6"/>
<circle cx="1579.4" cy="216.3" r="6" fill="none" stroke="#BACDF6" stroke-width="3.6"/>
<circle cx="1579.4" cy="220.7" r="6" fill="none" stroke="#BACDF6" stroke-width="3.6"/>
<circle cx="1579.4" cy="225.1" r="6" fill="none" stroke="#BACDF6" stroke-width="3.6"/>
<circle cx="1579.4" cy="229.5" r="6" fill="none" stroke="#BACDF6" stroke-width="3.6"/>
<circle cx="1579.4" cy="233.9" r="6" fill="none" stroke="#BACDF6" stroke-width="3.6"/>
<circle cx="1579.4" cy="238.3" r="6" fill="none" stroke="#BACDF6" stroke-width="3.6"/>
<circle cx="1579.4" cy="242.8" r="6" fill="none" stroke="#BACDF6" stroke-width="3.6"/>
<circle cx="1579.4" cy="247.2" r="6" fill="none" stroke="#BACDF6" stroke-width="3.6"/>
<circle cx="1579.4" cy="251.6" r="6" fill="none" stroke="#BACDF6" stroke-width="3.6"/>
<circle cx="1579.4" cy="256" r="6" fill="none" stroke="#BACDF6" stroke-width="3.6"/>
<circle cx="1579.4" cy="260.4" r="6" fill="none" stroke="#BACDF6" stroke-width="3.6"/>
<circle cx="1579.4" cy="264.8" r="6" fill="none" stroke="#BACDF6" stroke-width="3.6"/>
<circle cx="1579.4" cy="269.2" r="6" fill="none" stroke="#BACDF6" stroke-width="3.6"/>
<circle cx="1579.4" cy="273.6" r="6" fill="none" stroke="#BACDF6" stroke-width="3.6"/>
<circle cx="1579.4" cy="278" r="6" fill="none" stroke="#BACDF6" stroke-width="3.6"/>
<circle cx="1579.4" cy="290.7" r="6" fill="none" stroke="#BACDF6" stroke-width="3.6"/>
<circle cx="1579.4" cy="305.2" r="6" fill="none" stroke="#BACDF6" stroke-width="3.6"/>
<circle cx="1579.4" cy="336" r="6" fill="none" stroke="#BACDF6" stroke-width="3.6"/>
<circle cx="1626.8" cy="212" r="6" fill="none" stroke="#BACDF6" stroke-width="3.6"/>
<circle cx="1626.8" cy="234.7" r="6" fill="none" stroke="#BACDF6" stroke-width="3.6"/>
<circle cx="1626.8" cy="239.2" r="6" fill="none" stroke="#BACDF6" stroke-width="3.6"/>
<circle cx="1626.8" cy="243.7" r="6" fill="none" stroke="#BACDF6" stroke-width="3.6"/>
<circle cx="1626.8" cy="248.2" r="6" fill="none" stroke="#BACDF6" stroke-width="3.6"/>
<circle cx="1626.8" cy="252.8" r="6" fill="none" stroke="#BACDF6" stroke-width="3.6"/>
<circle cx="1626.8" cy="257.3" r="6" fill="none" stroke="#BACDF6" stroke-width="3.6"/>
<circle cx="1626.8" cy="261.8" r="6" fill="none" stroke="#BACDF6" stroke-width="3.6"/>
<circle cx="1626.8" cy="266.3" r="6" fill="none" stroke="#BACDF6" stroke-width="3.6"/>
<circle cx="1626.8" cy="270.8" r="6" fill="none" stroke="#BACDF6" stroke-width="3.6"/>
<circle cx="1626.8" cy="275.4" r="6" fill="none" stroke="#BACDF6" stroke-width="3.6"/>
<circle cx="1626.8" cy="279.9" r="6" fill="none" stroke="#BACDF6" stroke-width="3.6"/>
<circle cx="1626.8" cy="284.4" r="6" fill="none" stroke="#BACDF6" stroke-width="3.6"/>
<circle cx="1626.8" cy="288.9" r="6" fill="none" stroke="#BACDF6" stroke-width="3.6"/>
<circle cx="1626.8" cy="293.4" r="6" fill="none" stroke="#BACDF6" stroke-width="3.6"/>
<circle cx="1626.8" cy="297.9" r="6" fill="none" stroke="#BACDF6" stroke-width="3.6"/>
<circle cx="1626.8" cy="302.4" r="6" fill="none" stroke="#BACDF6" stroke-width="3.6"/>
<circle cx="1626.8" cy="307" r="6" fill="none" stroke="#BACDF6" stroke-width="3.6"/>
<circle cx="1626.8" cy="311.5" r="6" fill="none" stroke="#BACDF6" stroke-width="3.6"/>
<circle cx="1626.8" cy="316" r="6" fill="none" stroke="#BACDF6" stroke-width="3.6"/>
<circle cx="1626.8" cy="323.2" r="6" fill="none" stroke="#BACDF6" stroke-width="3.6"/>
<circle cx="1626.8" cy="361.2" r="6" fill="none" stroke="#BACDF6" stroke-width="3.6"/>
<circle cx="1626.8" cy="370.3" r="6" fill="none" stroke="#BACDF6" stroke-width="3.6"/>
<circle cx="1663" cy="265.4" r="6" fill="none" stroke="#BACDF6" stroke-width="3.6"/>
<circle cx="1663" cy="270" r="6" fill="none" stroke="#BACDF6" stroke-width="3.6"/>
<circle cx="1663" cy="274.5" r="6" fill="none" stroke="#BACDF6" stroke-width="3.6"/>
<circle cx="1663" cy="279.1" r="6" fill="none" stroke="#BACDF6" stroke-width="3.6"/>
<circle cx="1663" cy="283.6" r="6" fill="none" stroke="#BACDF6" stroke-width="3.6"/>
<circle cx="1663" cy="288.2" r="6" fill="none" stroke="#BACDF6" stroke-width="3.6"/>
<circle cx="1663" cy="292.8" r="6" fill="none" stroke="#BACDF6" stroke-width="3.6"/>
<circle cx="1663" cy="297.3" r="6" fill="none" stroke="#BACDF6" stroke-width="3.6"/>
<circle cx="1663" cy="301.9" r="6" fill="none" stroke="#BACDF6" stroke-width="3.6"/>
<circle cx="1663" cy="306.5" r="6" fill="none" stroke="#BACDF6" stroke-width="3.6"/>
<circle cx="1663" cy="311" r="6" fill="none" stroke="#BACDF6" stroke-width="3.6"/>
<circle cx="1663" cy="315.6" r="6" fill="none" stroke="#BACDF6" stroke-width="3.6"/>
<circle cx="1663" cy="320.1" r="6" fill="none" stroke="#BACDF6" stroke-width="3.6"/>
<circle cx="1663" cy="324.7" r="6" fill="none" stroke="#BACDF6" stroke-width="3.6"/>
<circle cx="1663" cy="329.3" r="6" fill="none" stroke="#BACDF6" stroke-width="3.6"/>
<circle cx="1663" cy="333.8" r="6" fill="none" stroke="#BACDF6" stroke-width="3.6"/>
<circle cx="1663" cy="338.4" r="6" fill="none" stroke="#BACDF6" stroke-width="3.6"/>
<circle cx="1663" cy="343" r="6" fill="none" stroke="#BACDF6" stroke-width="3.6"/>
<circle cx="1663" cy="347.5" r="6" fill="none" stroke="#BACDF6" stroke-width="3.6"/>
<circle cx="1663" cy="352.1" r="6" fill="none" stroke="#BACDF6" stroke-width="3.6"/>
<circle cx="1663" cy="356.6" r="6" fill="none" stroke="#BACDF6" stroke-width="3.6"/>
<circle cx="1663" cy="361.2" r="6" fill="none" stroke="#BACDF6" stroke-width="3.6"/>
<circle cx="1663" cy="395.6" r="6" fill="none" stroke="#BACDF6" stroke-width="3.6"/>
<circle cx="1663" cy="401" r="6" fill="none" stroke="#BACDF6" stroke-width="3.6"/>
<circle cx="1746" cy="334" r="6" fill="none" stroke="#BACDF6" stroke-width="3.6"/>
<circle cx="1746" cy="338.5" r="6" fill="none" stroke="#BACDF6" stroke-width="3.6"/>
<circle cx="1746" cy="343" r="6" fill="none" stroke="#BACDF6" stroke-width="3.6"/>
<circle cx="1746" cy="347.5" r="6" fill="none" stroke="#BACDF6" stroke-width="3.6"/>
<circle cx="1746" cy="352" r="6" fill="none" stroke="#BACDF6" stroke-width="3.6"/>
<circle cx="1746" cy="356.5" r="6" fill="none" stroke="#BACDF6" stroke-width="3.6"/>
<circle cx="1746" cy="361" r="6" fill="none" stroke="#BACDF6" stroke-width="3.6"/>
<circle cx="1746" cy="365.5" r="6" fill="none" stroke="#BACDF6" stroke-width="3.6"/>
<circle cx="1746" cy="370" r="6" fill="none" stroke="#BACDF6" stroke-width="3.6"/>
<circle cx="1746" cy="374.5" r="6" fill="none" stroke="#BACDF6" stroke-width="3.6"/>
<circle cx="1746" cy="379" r="6" fill="none" stroke="#BACDF6" stroke-width="3.6"/>
<circle cx="1746" cy="383.5" r="6" fill="none" stroke="#BACDF6" stroke-width="3.6"/>
<circle cx="1746" cy="388" r="6" fill="none" stroke="#BACDF6" stroke-width="3.6"/>
<circle cx="1746" cy="392.5" r="6" fill="none" stroke="#BACDF6" stroke-width="3.6"/>
<circle cx="1746" cy="397" r="6" fill="none" stroke="#BACDF6" stroke-width="3.6"/>
<circle cx="1746" cy="401.5" r="6" fill="none" stroke="#BACDF6" stroke-width="3.6"/>
<circle cx="1746" cy="406" r="6" fill="none" stroke="#BACDF6" stroke-width="3.6"/>
<circle cx="1746" cy="427" r="6" fill="none" stroke="#BACDF6" stroke-width="3.6"/>
<circle cx="1746" cy="451.5" r="6" fill="none" stroke="#BACDF6" stroke-width="3.6"/>
<circle cx="1746" cy="461.5" r="6" fill="none" stroke="#BACDF6" stroke-width="3.6"/>
<circle cx="1746" cy="472.5" r="6" fill="none" stroke="#BACDF6" stroke-width="3.6"/>
<circle cx="1314" cy="127" r="6" fill="none" stroke="#F2B9D5" stroke-width="3.6"/>
<circle cx="1314" cy="137" r="6" fill="none" stroke="#F2B9D5" stroke-width="3.6"/>
<circle cx="1314" cy="152" r="6" fill="none" stroke="#F2B9D5" stroke-width="3.6"/>
<circle cx="1314" cy="157.2" r="6" fill="none" stroke="#F2B9D5" stroke-width="3.6"/>
<circle cx="1314" cy="162.4" r="6" fill="none" stroke="#F2B9D5" stroke-width="3.6"/>
<circle cx="1314" cy="167.5" r="6" fill="none" stroke="#F2B9D5" stroke-width="3.6"/>
<circle cx="1314" cy="172.7" r="6" fill="none" stroke="#F2B9D5" stroke-width="3.6"/>
<circle cx="1314" cy="177.9" r="6" fill="none" stroke="#F2B9D5" stroke-width="3.6"/>
<circle cx="1314" cy="183.1" r="6" fill="none" stroke="#F2B9D5" stroke-width="3.6"/>
<circle cx="1314" cy="188.3" r="6" fill="none" stroke="#F2B9D5" stroke-width="3.6"/>
<circle cx="1314" cy="193.5" r="6" fill="none" stroke="#F2B9D5" stroke-width="3.6"/>
<circle cx="1314" cy="198.6" r="6" fill="none" stroke="#F2B9D5" stroke-width="3.6"/>
<circle cx="1314" cy="203.8" r="6" fill="none" stroke="#F2B9D5" stroke-width="3.6"/>
<circle cx="1314" cy="209" r="6" fill="none" stroke="#F2B9D5" stroke-width="3.6"/>
<circle cx="1431" cy="130.7" r="6" fill="none" stroke="#F2B9D5" stroke-width="3.6"/>
<circle cx="1431" cy="132.5" r="6" fill="none" stroke="#F2B9D5" stroke-width="3.6"/>
<circle cx="1431" cy="158.7" r="6" fill="none" stroke="#F2B9D5" stroke-width="3.6"/>
<circle cx="1431" cy="191" r="6" fill="none" stroke="#F2B9D5" stroke-width="3.6"/>
<circle cx="1431" cy="195.5" r="6" fill="none" stroke="#F2B9D5" stroke-width="3.6"/>
<circle cx="1431" cy="200" r="6" fill="none" stroke="#F2B9D5" stroke-width="3.6"/>
<circle cx="1431" cy="204.5" r="6" fill="none" stroke="#F2B9D5" stroke-width="3.6"/>
<circle cx="1431" cy="209" r="6" fill="none" stroke="#F2B9D5" stroke-width="3.6"/>
<circle cx="1431" cy="216.6" r="6" fill="none" stroke="#F2B9D5" stroke-width="3.6"/>
<circle cx="1431" cy="266.3" r="6" fill="none" stroke="#F2B9D5" stroke-width="3.6"/>
<circle cx="1431" cy="279" r="6" fill="none" stroke="#F2B9D5" stroke-width="3.6"/>
<circle cx="1513.8" cy="130.7" r="6" fill="none" stroke="#F2B9D5" stroke-width="3.6"/>
<circle cx="1513.8" cy="146" r="6" fill="none" stroke="#F2B9D5" stroke-width="3.6"/>
<circle cx="1513.8" cy="166" r="6" fill="none" stroke="#F2B9D5" stroke-width="3.6"/>
<circle cx="1513.8" cy="170.7" r="6" fill="none" stroke="#F2B9D5" stroke-width="3.6"/>
<circle cx="1513.8" cy="175.4" r="6" fill="none" stroke="#F2B9D5" stroke-width="3.6"/>
<circle cx="1513.8" cy="180.1" r="6" fill="none" stroke="#F2B9D5" stroke-width="3.6"/>
<circle cx="1513.8" cy="184.8" r="6" fill="none" stroke="#F2B9D5" stroke-width="3.6"/>
<circle cx="1513.8" cy="189.5" r="6" fill="none" stroke="#F2B9D5" stroke-width="3.6"/>
<circle cx="1513.8" cy="194.2" r="6" fill="none" stroke="#F2B9D5" stroke-width="3.6"/>
<circle cx="1513.8" cy="198.9" r="6" fill="none" stroke="#F2B9D5" stroke-width="3.6"/>
<circle cx="1513.8" cy="203.6" r="6" fill="none" stroke="#F2B9D5" stroke-width="3.6"/>
<circle cx="1513.8" cy="208.3" r="6" fill="none" stroke="#F2B9D5" stroke-width="3.6"/>
<circle cx="1513.8" cy="213" r="6" fill="none" stroke="#F2B9D5" stroke-width="3.6"/>
<circle cx="1550.3" cy="159.6" r="6" fill="none" stroke="#F2B9D5" stroke-width="3.6"/>
<circle cx="1550.3" cy="163.7" r="6" fill="none" stroke="#F2B9D5" stroke-width="3.6"/>
<circle cx="1550.3" cy="169" r="6" fill="none" stroke="#F2B9D5" stroke-width="3.6"/>
<circle cx="1550.3" cy="176" r="6" fill="none" stroke="#F2B9D5" stroke-width="3.6"/>
<circle cx="1550.3" cy="176" r="6" fill="none" stroke="#F2B9D5" stroke-width="3.6"/>
<circle cx="1550.3" cy="180.5" r="6" fill="none" stroke="#F2B9D5" stroke-width="3.6"/>
<circle cx="1550.3" cy="185" r="6" fill="none" stroke="#F2B9D5" stroke-width="3.6"/>
<circle cx="1550.3" cy="189.5" r="6" fill="none" stroke="#F2B9D5" stroke-width="3.6"/>
<circle cx="1550.3" cy="194.1" r="6" fill="none" stroke="#F2B9D5" stroke-width="3.6"/>
<circle cx="1550.3" cy="198.6" r="6" fill="none" stroke="#F2B9D5" stroke-width="3.6"/>
<circle cx="1550.3" cy="203.1" r="6" fill="none" stroke="#F2B9D5" stroke-width="3.6"/>
<circle cx="1550.3" cy="207.6" r="6" fill="none" stroke="#F2B9D5" stroke-width="3.6"/>
<circle cx="1550.3" cy="212.1" r="6" fill="none" stroke="#F2B9D5" stroke-width="3.6"/>
<circle cx="1550.3" cy="216.6" r="6" fill="none" stroke="#F2B9D5" stroke-width="3.6"/>
<circle cx="1550.3" cy="221.1" r="6" fill="none" stroke="#F2B9D5" stroke-width="3.6"/>
<circle cx="1550.3" cy="225.6" r="6" fill="none" stroke="#F2B9D5" stroke-width="3.6"/>
<circle cx="1550.3" cy="230.2" r="6" fill="none" stroke="#F2B9D5" stroke-width="3.6"/>
<circle cx="1550.3" cy="234.7" r="6" fill="none" stroke="#F2B9D5" stroke-width="3.6"/>
<circle cx="1550.3" cy="239.2" r="6" fill="none" stroke="#F2B9D5" stroke-width="3.6"/>
<circle cx="1550.3" cy="243.7" r="6" fill="none" stroke="#F2B9D5" stroke-width="3.6"/>
<circle cx="1586.7" cy="184" r="6" fill="none" stroke="#F2B9D5" stroke-width="3.6"/>
<circle cx="1586.7" cy="187.6" r="6" fill="none" stroke="#F2B9D5" stroke-width="3.6"/>
<circle cx="1586.7" cy="192.1" r="6" fill="none" stroke="#F2B9D5" stroke-width="3.6"/>
<circle cx="1586.7" cy="196.5" r="6" fill="none" stroke="#F2B9D5" stroke-width="3.6"/>
<circle cx="1586.7" cy="201" r="6" fill="none" stroke="#F2B9D5" stroke-width="3.6"/>
<circle cx="1586.7" cy="205.4" r="6" fill="none" stroke="#F2B9D5" stroke-width="3.6"/>
<circle cx="1586.7" cy="209.9" r="6" fill="none" stroke="#F2B9D5" stroke-width="3.6"/>
<circle cx="1586.7" cy="214.3" r="6" fill="none" stroke="#F2B9D5" stroke-width="3.6"/>
<circle cx="1586.7" cy="218.8" r="6" fill="none" stroke="#F2B9D5" stroke-width="3.6"/>
<circle cx="1586.7" cy="223.2" r="6" fill="none" stroke="#F2B9D5" stroke-width="3.6"/>
<circle cx="1586.7" cy="227.7" r="6" fill="none" stroke="#F2B9D5" stroke-width="3.6"/>
<circle cx="1586.7" cy="232.1" r="6" fill="none" stroke="#F2B9D5" stroke-width="3.6"/>
<circle cx="1586.7" cy="236.6" r="6" fill="none" stroke="#F2B9D5" stroke-width="3.6"/>
<circle cx="1586.7" cy="241" r="6" fill="none" stroke="#F2B9D5" stroke-width="3.6"/>
<circle cx="1586.7" cy="245.5" r="6" fill="none" stroke="#F2B9D5" stroke-width="3.6"/>
<circle cx="1586.7" cy="249" r="6" fill="none" stroke="#F2B9D5" stroke-width="3.6"/>
<circle cx="1586.7" cy="275.4" r="6" fill="none" stroke="#F2B9D5" stroke-width="3.6"/>
<circle cx="1634" cy="214.8" r="6" fill="none" stroke="#F2B9D5" stroke-width="3.6"/>
<circle cx="1634" cy="219.3" r="6" fill="none" stroke="#F2B9D5" stroke-width="3.6"/>
<circle cx="1634" cy="223.8" r="6" fill="none" stroke="#F2B9D5" stroke-width="3.6"/>
<circle cx="1634" cy="228.4" r="6" fill="none" stroke="#F2B9D5" stroke-width="3.6"/>
<circle cx="1634" cy="232.9" r="6" fill="none" stroke="#F2B9D5" stroke-width="3.6"/>
<circle cx="1634" cy="237.4" r="6" fill="none" stroke="#F2B9D5" stroke-width="3.6"/>
<circle cx="1634" cy="241.9" r="6" fill="none" stroke="#F2B9D5" stroke-width="3.6"/>
<circle cx="1634" cy="246.4" r="6" fill="none" stroke="#F2B9D5" stroke-width="3.6"/>
<circle cx="1634" cy="251" r="6" fill="none" stroke="#F2B9D5" stroke-width="3.6"/>
<circle cx="1634" cy="255.5" r="6" fill="none" stroke="#F2B9D5" stroke-width="3.6"/>
<circle cx="1634" cy="260" r="6" fill="none" stroke="#F2B9D5" stroke-width="3.6"/>
<circle cx="1634" cy="264.5" r="6" fill="none" stroke="#F2B9D5" stroke-width="3.6"/>
<circle cx="1634" cy="269" r="6" fill="none" stroke="#F2B9D5" stroke-width="3.6"/>
<circle cx="1634" cy="273.6" r="6" fill="none" stroke="#F2B9D5" stroke-width="3.6"/>
<circle cx="1634" cy="278.1" r="6" fill="none" stroke="#F2B9D5" stroke-width="3.6"/>
<circle cx="1634" cy="282.6" r="6" fill="none" stroke="#F2B9D5" stroke-width="3.6"/>
<circle cx="1634" cy="287.1" r="6" fill="none" stroke="#F2B9D5" stroke-width="3.6"/>
<circle cx="1634" cy="291.6" r="6" fill="none" stroke="#F2B9D5" stroke-width="3.6"/>
<circle cx="1634" cy="296.2" r="6" fill="none" stroke="#F2B9D5" stroke-width="3.6"/>
<circle cx="1634" cy="300.7" r="6" fill="none" stroke="#F2B9D5" stroke-width="3.6"/>
<circle cx="1634" cy="305.2" r="6" fill="none" stroke="#F2B9D5" stroke-width="3.6"/>
<circle cx="1669.8" cy="244.6" r="6" fill="none" stroke="#F2B9D5" stroke-width="3.6"/>
<circle cx="1669.8" cy="249.2" r="6" fill="none" stroke="#F2B9D5" stroke-width="3.6"/>
<circle cx="1669.8" cy="253.8" r="6" fill="none" stroke="#F2B9D5" stroke-width="3.6"/>
<circle cx="1669.8" cy="258.4" r="6" fill="none" stroke="#F2B9D5" stroke-width="3.6"/>
<circle cx="1669.8" cy="262.9" r="6" fill="none" stroke="#F2B9D5" stroke-width="3.6"/>
<circle cx="1669.8" cy="267.5" r="6" fill="none" stroke="#F2B9D5" stroke-width="3.6"/>
<circle cx="1669.8" cy="272.1" r="6" fill="none" stroke="#F2B9D5" stroke-width="3.6"/>
<circle cx="1669.8" cy="276.7" r="6" fill="none" stroke="#F2B9D5" stroke-width="3.6"/>
<circle cx="1669.8" cy="281.3" r="6" fill="none" stroke="#F2B9D5" stroke-width="3.6"/>
<circle cx="1669.8" cy="285.9" r="6" fill="none" stroke="#F2B9D5" stroke-width="3.6"/>
<circle cx="1669.8" cy="290.5" r="6" fill="none" stroke="#F2B9D5" stroke-width="3.6"/>
<circle cx="1669.8" cy="295.1" r="6" fill="none" stroke="#F2B9D5" stroke-width="3.6"/>
<circle cx="1669.8" cy="299.6" r="6" fill="none" stroke="#F2B9D5" stroke-width="3.6"/>
<circle cx="1669.8" cy="304.2" r="6" fill="none" stroke="#F2B9D5" stroke-width="3.6"/>
<circle cx="1669.8" cy="308.8" r="6" fill="none" stroke="#F2B9D5" stroke-width="3.6"/>
<circle cx="1669.8" cy="313.4" r="6" fill="none" stroke="#F2B9D5" stroke-width="3.6"/>
<circle cx="1669.8" cy="318" r="6" fill="none" stroke="#F2B9D5" stroke-width="3.6"/>
<circle cx="1751.2" cy="301.6" r="6" fill="none" stroke="#F2B9D5" stroke-width="3.6"/>
<circle cx="1751.2" cy="306" r="6" fill="none" stroke="#F2B9D5" stroke-width="3.6"/>
<circle cx="1751.2" cy="310.4" r="6" fill="none" stroke="#F2B9D5" stroke-width="3.6"/>
<circle cx="1751.2" cy="314.8" r="6" fill="none" stroke="#F2B9D5" stroke-width="3.6"/>
<circle cx="1751.2" cy="319.2" r="6" fill="none" stroke="#F2B9D5" stroke-width="3.6"/>
<circle cx="1751.2" cy="323.5" r="6" fill="none" stroke="#F2B9D5" stroke-width="3.6"/>
<circle cx="1751.2" cy="327.9" r="6" fill="none" stroke="#F2B9D5" stroke-width="3.6"/>
<circle cx="1751.2" cy="332.3" r="6" fill="none" stroke="#F2B9D5" stroke-width="3.6"/>
<circle cx="1751.2" cy="336.7" r="6" fill="none" stroke="#F2B9D5" stroke-width="3.6"/>
<circle cx="1751.2" cy="341.1" r="6" fill="none" stroke="#F2B9D5" stroke-width="3.6"/>
<circle cx="1751.2" cy="345.5" r="6" fill="none" stroke="#F2B9D5" stroke-width="3.6"/>
<circle cx="1751.2" cy="349.9" r="6" fill="none" stroke="#F2B9D5" stroke-width="3.6"/>
<circle cx="1751.2" cy="354.3" r="6" fill="none" stroke="#F2B9D5" stroke-width="3.6"/>
<circle cx="1751.2" cy="358.7" r="6" fill="none" stroke="#F2B9D5" stroke-width="3.6"/>
<circle cx="1751.2" cy="363.1" r="6" fill="none" stroke="#F2B9D5" stroke-width="3.6"/>
<circle cx="1751.2" cy="367.4" r="6" fill="none" stroke="#F2B9D5" stroke-width="3.6"/>
<circle cx="1751.2" cy="371.8" r="6" fill="none" stroke="#F2B9D5" stroke-width="3.6"/>
<circle cx="1751.2" cy="376.2" r="6" fill="none" stroke="#F2B9D5" stroke-width="3.6"/>
<circle cx="1751.2" cy="380.6" r="6" fill="none" stroke="#F2B9D5" stroke-width="3.6"/>
<circle cx="1751.2" cy="385" r="6" fill="none" stroke="#F2B9D5" stroke-width="3.6"/>
<circle cx="1751.2" cy="400" r="6" fill="none" stroke="#F2B9D5" stroke-width="3.6"/>
<circle cx="1751.2" cy="409" r="6" fill="none" stroke="#F2B9D5" stroke-width="3.6"/>
<circle cx="1751.2" cy="417" r="6" fill="none" stroke="#F2B9D5" stroke-width="3.6"/>
<circle cx="1751.2" cy="425" r="6" fill="none" stroke="#F2B9D5" stroke-width="3.6"/>
<line x1="1304.8" y1="174" x2="1304.8" y2="185.5" stroke="#3526F5" stroke-width="3.8" />
<line x1="1292.8" y1="174" x2="1316.8" y2="174" stroke="#3526F5" stroke-width="3.8" />
<line x1="1292.8" y1="185.5" x2="1316.8" y2="185.5" stroke="#3526F5" stroke-width="3.8" />
<circle cx="1304.8" cy="180" r="8" fill="#3526F5" stroke="none" stroke-width="0"/>
<line x1="1423.8" y1="158.4" x2="1423.8" y2="175" stroke="#3526F5" stroke-width="3.8" />
<line x1="1411.8" y1="158.4" x2="1435.8" y2="158.4" stroke="#3526F5" stroke-width="3.8" />
<line x1="1411.8" y1="175" x2="1435.8" y2="175" stroke="#3526F5" stroke-width="3.8" />
<circle cx="1423.8" cy="165.6" r="8" fill="#3526F5" stroke="none" stroke-width="0"/>
<line x1="1507.5" y1="193" x2="1507.5" y2="206.6" stroke="#3526F5" stroke-width="3.8" />
<line x1="1495.5" y1="193" x2="1519.5" y2="193" stroke="#3526F5" stroke-width="3.8" />
<line x1="1495.5" y1="206.6" x2="1519.5" y2="206.6" stroke="#3526F5" stroke-width="3.8" />
<circle cx="1507.5" cy="199.8" r="8" fill="#3526F5" stroke="none" stroke-width="0"/>
<line x1="1544" y1="213.5" x2="1544" y2="225.6" stroke="#3526F5" stroke-width="3.8" />
<line x1="1532" y1="213.5" x2="1556" y2="213.5" stroke="#3526F5" stroke-width="3.8" />
<line x1="1532" y1="225.6" x2="1556" y2="225.6" stroke="#3526F5" stroke-width="3.8" />
<circle cx="1544" cy="219.7" r="8" fill="#3526F5" stroke="none" stroke-width="0"/>
<line x1="1579.4" y1="227.8" x2="1579.4" y2="242.8" stroke="#3526F5" stroke-width="3.8" />
<line x1="1567.4" y1="227.8" x2="1591.4" y2="227.8" stroke="#3526F5" stroke-width="3.8" />
<line x1="1567.4" y1="242.8" x2="1591.4" y2="242.8" stroke="#3526F5" stroke-width="3.8" />
<circle cx="1579.4" cy="235.2" r="8" fill="#3526F5" stroke="none" stroke-width="0"/>
<line x1="1626.8" y1="262.7" x2="1626.8" y2="275.9" stroke="#3526F5" stroke-width="3.8" />
<line x1="1614.8" y1="262.7" x2="1638.8" y2="262.7" stroke="#3526F5" stroke-width="3.8" />
<line x1="1614.8" y1="275.9" x2="1638.8" y2="275.9" stroke="#3526F5" stroke-width="3.8" />
<circle cx="1626.8" cy="269" r="8" fill="#3526F5" stroke="none" stroke-width="0"/>
<line x1="1663" y1="299.8" x2="1663" y2="311" stroke="#3526F5" stroke-width="3.8" />
<line x1="1651" y1="299.8" x2="1675" y2="299.8" stroke="#3526F5" stroke-width="3.8" />
<line x1="1651" y1="311" x2="1675" y2="311" stroke="#3526F5" stroke-width="3.8" />
<circle cx="1663" cy="305.2" r="8" fill="#3526F5" stroke="none" stroke-width="0"/>
<line x1="1746" y1="370.8" x2="1746" y2="383" stroke="#3526F5" stroke-width="3.8" />
<line x1="1734" y1="370.8" x2="1758" y2="370.8" stroke="#3526F5" stroke-width="3.8" />
<line x1="1734" y1="383" x2="1758" y2="383" stroke="#3526F5" stroke-width="3.8" />
<circle cx="1746" cy="376.6" r="8" fill="#3526F5" stroke="none" stroke-width="0"/>
<line x1="1314" y1="163.2" x2="1314" y2="178.2" stroke="#F5276E" stroke-width="3.8" />
<line x1="1302" y1="163.2" x2="1326" y2="163.2" stroke="#F5276E" stroke-width="3.8" />
<line x1="1302" y1="178.2" x2="1326" y2="178.2" stroke="#F5276E" stroke-width="3.8" />
<circle cx="1314" cy="170.8" r="8" fill="#F5276E" stroke="none" stroke-width="0"/>
<line x1="1431" y1="169.6" x2="1431" y2="186.4" stroke="#F5276E" stroke-width="3.8" />
<line x1="1419" y1="169.6" x2="1443" y2="169.6" stroke="#F5276E" stroke-width="3.8" />
<line x1="1419" y1="186.4" x2="1443" y2="186.4" stroke="#F5276E" stroke-width="3.8" />
<circle cx="1431" cy="178" r="8" fill="#F5276E" stroke="none" stroke-width="0"/>
<line x1="1513.8" y1="173.5" x2="1513.8" y2="187.3" stroke="#F5276E" stroke-width="3.8" />
<line x1="1501.8" y1="173.5" x2="1525.8" y2="173.5" stroke="#F5276E" stroke-width="3.8" />
<line x1="1501.8" y1="187.3" x2="1525.8" y2="187.3" stroke="#F5276E" stroke-width="3.8" />
<circle cx="1513.8" cy="180.4" r="8" fill="#F5276E" stroke="none" stroke-width="0"/>
<line x1="1550.3" y1="194.3" x2="1550.3" y2="204.3" stroke="#F5276E" stroke-width="3.8" />
<line x1="1538.3" y1="194.3" x2="1562.3" y2="194.3" stroke="#F5276E" stroke-width="3.8" />
<line x1="1538.3" y1="204.3" x2="1562.3" y2="204.3" stroke="#F5276E" stroke-width="3.8" />
<circle cx="1550.3" cy="198.5" r="8" fill="#F5276E" stroke="none" stroke-width="0"/>
<line x1="1586.7" y1="209.3" x2="1586.7" y2="219.8" stroke="#F5276E" stroke-width="3.8" />
<line x1="1574.7" y1="209.3" x2="1598.7" y2="209.3" stroke="#F5276E" stroke-width="3.8" />
<line x1="1574.7" y1="219.8" x2="1598.7" y2="219.8" stroke="#F5276E" stroke-width="3.8" />
<circle cx="1586.7" cy="214.8" r="8" fill="#F5276E" stroke="none" stroke-width="0"/>
<line x1="1634" y1="244.6" x2="1634" y2="255.5" stroke="#F5276E" stroke-width="3.8" />
<line x1="1622" y1="244.6" x2="1646" y2="244.6" stroke="#F5276E" stroke-width="3.8" />
<line x1="1622" y1="255.5" x2="1646" y2="255.5" stroke="#F5276E" stroke-width="3.8" />
<circle cx="1634" cy="249" r="8" fill="#F5276E" stroke="none" stroke-width="0"/>
<line x1="1669.8" y1="270.5" x2="1669.8" y2="280.4" stroke="#F5276E" stroke-width="3.8" />
<line x1="1657.8" y1="270.5" x2="1681.8" y2="270.5" stroke="#F5276E" stroke-width="3.8" />
<line x1="1657.8" y1="280.4" x2="1681.8" y2="280.4" stroke="#F5276E" stroke-width="3.8" />
<circle cx="1669.8" cy="275.4" r="8" fill="#F5276E" stroke="none" stroke-width="0"/>
<line x1="1751.2" y1="336.8" x2="1751.2" y2="350.4" stroke="#F5276E" stroke-width="3.8" />
<line x1="1739.2" y1="336.8" x2="1763.2" y2="336.8" stroke="#F5276E" stroke-width="3.8" />
<line x1="1739.2" y1="350.4" x2="1763.2" y2="350.4" stroke="#F5276E" stroke-width="3.8" />
<circle cx="1751.2" cy="343.2" r="8" fill="#F5276E" stroke="none" stroke-width="0"/>
<text x="1517.8" y="132.8" font-size="30" fill="#000" stroke="#000" stroke-width="0.7" text-anchor="middle" transform="translate(1517.8 132.8) scale(1 1.035) translate(-1517.8 -132.8)" >*</text>
<text x="1550.8" y="152.7" font-size="30" fill="#000" stroke="#000" stroke-width="0.7" text-anchor="middle" transform="translate(1550.8 152.7) scale(1 1.035) translate(-1550.8 -152.7)" >*</text>
<text x="1586.6" y="170.7" font-size="30" fill="#000" stroke="#000" stroke-width="0.7" text-anchor="middle" transform="translate(1586.6 170.7) scale(1 1.035) translate(-1586.6 -170.7)" >*</text>
<text x="1632.3" y="202.6" font-size="30" fill="#000" stroke="#000" stroke-width="0.7" text-anchor="middle" transform="translate(1632.3 202.6) scale(1 1.035) translate(-1632.3 -202.6)" >**</text>
<text x="1669.6" y="231.4" font-size="30" fill="#000" stroke="#000" stroke-width="0.7" text-anchor="middle" transform="translate(1669.6 231.4) scale(1 1.035) translate(-1669.6 -231.4)" >***</text>
<text x="1745.5" y="305.2" font-size="30" fill="#000" stroke="#000" stroke-width="0.7" text-anchor="middle" transform="translate(1745.5 305.2) scale(1 1.035) translate(-1745.5 -305.2)" >***</text>
<line x1="1294.6" y1="724" x2="1294.6" y2="1114" stroke="#000" stroke-width="4" />
<line x1="1266.6" y1="781.4" x2="1294.6" y2="781.4" stroke="#000" stroke-width="4" />
<text x="1252.5" y="795.7" font-size="40" fill="#000" stroke="#000" stroke-width="0.7" text-anchor="end" transform="translate(1252.5 795.7) scale(1 1.035) translate(-1252.5 -795.7)" >500</text>
<line x1="1266.6" y1="988.4" x2="1294.6" y2="988.4" stroke="#000" stroke-width="4" />
<text x="1252.5" y="1002.7" font-size="40" fill="#000" stroke="#000" stroke-width="0.7" text-anchor="end" transform="translate(1252.5 1002.7) scale(1 1.035) translate(-1252.5 -1002.7)" >250</text>
<line x1="1330" y1="1114" x2="1847.8" y2="1114" stroke="#000" stroke-width="4" />
<line x1="1396" y1="1112" x2="1396" y2="1143" stroke="#000" stroke-width="4" />
<line x1="1463.6" y1="1112" x2="1463.6" y2="1130" stroke="#000" stroke-width="4" />
<line x1="1503.2" y1="1112" x2="1503.2" y2="1130" stroke="#000" stroke-width="4" />
<line x1="1531.2" y1="1112" x2="1531.2" y2="1130" stroke="#000" stroke-width="4" />
<line x1="1553" y1="1112" x2="1553" y2="1130" stroke="#000" stroke-width="4" />
<line x1="1570.8" y1="1112" x2="1570.8" y2="1130" stroke="#000" stroke-width="4" />
<line x1="1585.8" y1="1112" x2="1585.8" y2="1130" stroke="#000" stroke-width="4" />
<line x1="1598.8" y1="1112" x2="1598.8" y2="1130" stroke="#000" stroke-width="4" />
<line x1="1610.3" y1="1112" x2="1610.3" y2="1130" stroke="#000" stroke-width="4" />
<line x1="1621.4" y1="1112" x2="1621.4" y2="1143" stroke="#000" stroke-width="4" />
<line x1="1689" y1="1112" x2="1689" y2="1130" stroke="#000" stroke-width="4" />
<line x1="1728.6" y1="1112" x2="1728.6" y2="1130" stroke="#000" stroke-width="4" />
<line x1="1756.6" y1="1112" x2="1756.6" y2="1130" stroke="#000" stroke-width="4" />
<line x1="1778.4" y1="1112" x2="1778.4" y2="1130" stroke="#000" stroke-width="4" />
<line x1="1796.2" y1="1112" x2="1796.2" y2="1130" stroke="#000" stroke-width="4" />
<line x1="1811.2" y1="1112" x2="1811.2" y2="1130" stroke="#000" stroke-width="4" />
<line x1="1824.2" y1="1112" x2="1824.2" y2="1130" stroke="#000" stroke-width="4" />
<line x1="1835.7" y1="1112" x2="1835.7" y2="1130" stroke="#000" stroke-width="4" />
<line x1="1845.8" y1="1112" x2="1845.8" y2="1143" stroke="#000" stroke-width="4" />
<text x="1396" y="1206" font-size="40" fill="#000" stroke="#000" stroke-width="0.7" text-anchor="middle" transform="translate(1396 1206) scale(1 1.035) translate(-1396 -1206)">10<tspan font-size="27.5" dy="-22">3</tspan></text>
<text x="1621.4" y="1206" font-size="40" fill="#000" stroke="#000" stroke-width="0.7" text-anchor="middle" transform="translate(1621.4 1206) scale(1 1.035) translate(-1621.4 -1206)">10<tspan font-size="27.5" dy="-22">4</tspan></text>
<text x="1845.8" y="1206" font-size="40" fill="#000" stroke="#000" stroke-width="0.7" text-anchor="middle" transform="translate(1845.8 1206) scale(1 1.035) translate(-1845.8 -1206)">10<tspan font-size="27.5" dy="-22">5</tspan></text>
<text x="1629" y="1273.7" font-size="40" fill="#000" stroke="#000" stroke-width="0.7" text-anchor="middle" transform="translate(1629 1273.7) scale(1 1.035) translate(-1629 -1273.7)" >Background (R*/cone/s)</text>
<text x="1143" y="916" font-size="40" fill="#000" stroke="#000" stroke-width="0.7" text-anchor="middle" transform="rotate(-90 1143 916) translate(1143 916) scale(1 1.035) translate(-1143 -916)">Gain<tspan font-size="27" dy="8.6">Area</tspan><tspan dy="-8.6">/Gain</tspan><tspan font-size="27" dy="8.6">Peak Amp.</tspan></text>
<line x1="1397.6" y1="724.4" x2="1778.8" y2="724.4" stroke="#F0B5EE" stroke-width="2.6" />
<text x="1571.8" y="733.6" font-size="38" fill="#000" stroke="#000" stroke-width="0.7" text-anchor="middle" transform="translate(1571.8 733.6) scale(1 1.035) translate(-1571.8 -733.6)" >*</text>
<path d="M1396.3,1030 V1057 H1560.3 V1030 M1464.6,1030 V1057 M1489,1057 V1081.3 H1779 V1053" stroke="#BACDF6" stroke-width="2.8" fill="none" stroke-linejoin="miter" stroke-linecap="butt" />
<text x="1401" y="1033.3" font-size="38" fill="#000" stroke="#000" stroke-width="0.7" text-anchor="middle" transform="translate(1401 1033.3) scale(1 1.035) translate(-1401 -1033.3)" >***</text>
<text x="1464.5" y="1033.3" font-size="38" fill="#000" stroke="#000" stroke-width="0.7" text-anchor="middle" transform="translate(1464.5 1033.3) scale(1 1.035) translate(-1464.5 -1033.3)" >**</text>
<text x="1561" y="1033.3" font-size="38" fill="#000" stroke="#000" stroke-width="0.7" text-anchor="middle" transform="translate(1561 1033.3) scale(1 1.035) translate(-1561 -1033.3)" >**</text>
<line x1="1397" y1="856.8" x2="1397" y2="895" stroke="#3526F5" stroke-width="4" />
<line x1="1385" y1="856.8" x2="1409" y2="856.8" stroke="#3526F5" stroke-width="4" />
<line x1="1385" y1="895" x2="1409" y2="895" stroke="#3526F5" stroke-width="4" />
<circle cx="1397" cy="875.4" r="12" fill="#3526F5" stroke="none" stroke-width="0"/>
<line x1="1464.6" y1="847.4" x2="1464.6" y2="890.7" stroke="#3526F5" stroke-width="4" />
<line x1="1452.6" y1="847.4" x2="1476.6" y2="847.4" stroke="#3526F5" stroke-width="4" />
<line x1="1452.6" y1="890.7" x2="1476.6" y2="890.7" stroke="#3526F5" stroke-width="4" />
<circle cx="1464.6" cy="869.6" r="12" fill="#3526F5" stroke="none" stroke-width="0"/>
<line x1="1553.3" y1="927.7" x2="1553.3" y2="958.3" stroke="#3526F5" stroke-width="4" />
<line x1="1541.3" y1="927.7" x2="1565.3" y2="927.7" stroke="#3526F5" stroke-width="4" />
<line x1="1541.3" y1="958.3" x2="1565.3" y2="958.3" stroke="#3526F5" stroke-width="4" />
<circle cx="1553.3" cy="943.5" r="12" fill="#3526F5" stroke="none" stroke-width="0"/>
<line x1="1622" y1="985.8" x2="1622" y2="1012" stroke="#3526F5" stroke-width="4" />
<line x1="1610" y1="985.8" x2="1634" y2="985.8" stroke="#3526F5" stroke-width="4" />
<line x1="1610" y1="1012" x2="1634" y2="1012" stroke="#3526F5" stroke-width="4" />
<circle cx="1622" cy="999" r="12" fill="#3526F5" stroke="none" stroke-width="0"/>
<line x1="1778.8" y1="1019" x2="1778.8" y2="1040" stroke="#3526F5" stroke-width="4" />
<line x1="1766.8" y1="1019" x2="1790.8" y2="1019" stroke="#3526F5" stroke-width="4" />
<line x1="1766.8" y1="1040" x2="1790.8" y2="1040" stroke="#3526F5" stroke-width="4" />
<circle cx="1778.8" cy="1029.6" r="12" fill="#3526F5" stroke="none" stroke-width="0"/>
<line x1="1397" y1="744.5" x2="1397" y2="770" stroke="#F5276E" stroke-width="4" />
<line x1="1385" y1="744.5" x2="1409" y2="744.5" stroke="#F5276E" stroke-width="4" />
<line x1="1385" y1="770" x2="1409" y2="770" stroke="#F5276E" stroke-width="4" />
<circle cx="1397" cy="757.5" r="12" fill="#F5276E" stroke="none" stroke-width="0"/>
<line x1="1464.6" y1="771" x2="1464.6" y2="800" stroke="#F5276E" stroke-width="4" />
<line x1="1452.6" y1="771" x2="1476.6" y2="771" stroke="#F5276E" stroke-width="4" />
<line x1="1452.6" y1="800" x2="1476.6" y2="800" stroke="#F5276E" stroke-width="4" />
<circle cx="1464.6" cy="785.7" r="12" fill="#F5276E" stroke="none" stroke-width="0"/>
<line x1="1553.3" y1="787.8" x2="1553.3" y2="812" stroke="#F5276E" stroke-width="4" />
<line x1="1541.3" y1="787.8" x2="1565.3" y2="787.8" stroke="#F5276E" stroke-width="4" />
<line x1="1541.3" y1="812" x2="1565.3" y2="812" stroke="#F5276E" stroke-width="4" />
<circle cx="1553.3" cy="800" r="12" fill="#F5276E" stroke="none" stroke-width="0"/>
<line x1="1622" y1="796" x2="1622" y2="821" stroke="#F5276E" stroke-width="4" />
<line x1="1610" y1="796" x2="1634" y2="796" stroke="#F5276E" stroke-width="4" />
<line x1="1610" y1="821" x2="1634" y2="821" stroke="#F5276E" stroke-width="4" />
<circle cx="1622" cy="809.4" r="12" fill="#F5276E" stroke="none" stroke-width="0"/>
<line x1="1778.8" y1="790" x2="1778.8" y2="831.6" stroke="#F5276E" stroke-width="4" />
<line x1="1766.8" y1="790" x2="1790.8" y2="790" stroke="#F5276E" stroke-width="4" />
<line x1="1766.8" y1="831.6" x2="1790.8" y2="831.6" stroke="#F5276E" stroke-width="4" />
<circle cx="1778.8" cy="811.5" r="12" fill="#F5276E" stroke="none" stroke-width="0"/>
<line x1="252.3" y1="1360" x2="252.3" y2="1709.3" stroke="#000" stroke-width="4" />
<line x1="226" y1="1378.3" x2="252.3" y2="1378.3" stroke="#000" stroke-width="4" />
<line x1="238.6" y1="1393.4" x2="252.3" y2="1393.4" stroke="#000" stroke-width="4" />
<line x1="238.6" y1="1410.2" x2="252.3" y2="1410.2" stroke="#000" stroke-width="4" />
<line x1="238.6" y1="1429.3" x2="252.3" y2="1429.3" stroke="#000" stroke-width="4" />
<line x1="238.6" y1="1451.3" x2="252.3" y2="1451.3" stroke="#000" stroke-width="4" />
<line x1="238.6" y1="1477.3" x2="252.3" y2="1477.3" stroke="#000" stroke-width="4" />
<line x1="238.6" y1="1509.2" x2="252.3" y2="1509.2" stroke="#000" stroke-width="4" />
<line x1="238.6" y1="1550.3" x2="252.3" y2="1550.3" stroke="#000" stroke-width="4" />
<line x1="238.6" y1="1608.3" x2="252.3" y2="1608.3" stroke="#000" stroke-width="4" />
<line x1="226" y1="1707.3" x2="252.3" y2="1707.3" stroke="#000" stroke-width="4" />
<text x="206.5" y="1392.6" font-size="40" fill="#000" stroke="#000" stroke-width="0.7" text-anchor="end" transform="translate(206.5 1392.6) scale(1 1.035) translate(-206.5 -1392.6)" >1</text>
<text x="206.5" y="1721.6" font-size="40" fill="#000" stroke="#000" stroke-width="0.7" text-anchor="end" transform="translate(206.5 1721.6) scale(1 1.035) translate(-206.5 -1721.6)" >0.1</text>
<path d="M266.8,1742.5 V1718.3 H306.4" stroke="#000" stroke-width="4" fill="none" stroke-linejoin="miter" stroke-linecap="butt" />
<line x1="333" y1="1718.3" x2="685.6" y2="1718.3" stroke="#000" stroke-width="4" />
<line x1="361" y1="1716.3" x2="361" y2="1744.7" stroke="#000" stroke-width="4" />
<line x1="456" y1="1716.3" x2="456" y2="1744.7" stroke="#000" stroke-width="4" />
<line x1="552" y1="1716.3" x2="552" y2="1744.7" stroke="#000" stroke-width="4" />
<line x1="648" y1="1716.3" x2="648" y2="1744.7" stroke="#000" stroke-width="4" />
<line x1="294.7" y1="1730.7" x2="323.4" y2="1708.1" stroke="#000" stroke-width="3.4" />
<line x1="310.4" y1="1732.9" x2="339.1" y2="1710.3" stroke="#000" stroke-width="3.4" />
<text x="270.5" y="1818" font-size="40" fill="#000" stroke="#000" stroke-width="0.7" text-anchor="middle" transform="translate(270.5 1818) scale(1 1.035) translate(-270.5 -1818)" >0</text>
<text x="361" y="1816" font-size="40" fill="#000" stroke="#000" stroke-width="0.7" text-anchor="middle" transform="translate(361 1816) scale(1 1.035) translate(-361 -1816)">10<tspan font-size="27.5" dy="-26.3">1</tspan></text>
<text x="552" y="1816" font-size="40" fill="#000" stroke="#000" stroke-width="0.7" text-anchor="middle" transform="translate(552 1816) scale(1 1.035) translate(-552 -1816)">10<tspan font-size="27.5" dy="-26.3">3</tspan></text>
<text x="481" y="1877" font-size="40" fill="#000" stroke="#000" stroke-width="0.7" text-anchor="middle" transform="translate(481 1877) scale(1 1.035) translate(-481 -1877)" >Background (R*/cone/s)</text>
<text x="140" y="1536" font-size="40" fill="#000" stroke="#000" stroke-width="0.7" text-anchor="middle" transform="rotate(-90 140 1536) translate(140 1536) scale(1 1.035) translate(-140 -1536)">Norm. Gain (Peak Amp)</text>
<text x="296" y="1605" font-size="40" fill="#F5276E" stroke="#F5276E" stroke-width="0.7" text-anchor="start" transform="translate(296 1605) scale(1 1.035) translate(-296 -1605)" >Fovea</text>
<text x="294.5" y="1656" font-size="40" fill="#3526F5" stroke="#3526F5" stroke-width="0.7" text-anchor="start" transform="translate(294.5 1656) scale(1 1.035) translate(-294.5 -1656)" >Periphery</text>
<path d="M266,1375.1 L267.8,1375.1 L269.6,1375.1 L271.4,1375.1 L273.2,1375.1 L275,1375.1 L276.9,1375.1 L278.7,1375.1 L280.5,1375.1 L282.3,1375.1 L284.1,1375.1 L285.9,1375.1 L287.7,1375.1 L289.5,1375.2 L291.3,1375.2 L293.1,1375.2 L294.9,1375.2 L296.7,1375.2 L298.6,1375.2 L300.4,1375.2 L302.2,1375.2 L304,1375.2 L305.8,1375.2 L307.6,1375.2 L309.4,1375.2 L311.2,1375.2 L313,1375.2 L314.8,1375.2 L316.6,1375.2 L318.4,1375.3 L320.2,1375.3 L322.1,1375.3 L323.9,1375.3 L325.7,1375.3 L327.5,1375.3 L329.3,1375.3 L331.1,1375.3 L332.9,1375.3 L334.7,1375.3 L336.5,1375.4 L338.3,1375.4 L340.1,1375.4 L341.9,1375.4 L343.8,1375.4 L345.6,1375.4 L347.4,1375.5 L349.2,1375.5 L351,1375.5 L352.8,1375.5 L354.6,1375.5 L356.4,1375.6 L358.2,1375.6 L360,1375.6 L361.8,1375.6 L363.6,1375.6 L365.5,1375.7 L367.3,1375.7 L369.1,1375.7 L370.9,1375.8 L372.7,1375.8 L374.5,1375.8 L376.3,1375.9 L378.1,1375.9 L379.9,1375.9 L381.7,1376 L383.5,1376 L385.4,1376.1 L387.2,1376.1 L389,1376.1 L390.8,1376.2 L392.6,1376.2 L394.4,1376.3 L396.2,1376.4 L398,1376.4 L399.8,1376.5 L401.6,1376.5 L403.4,1376.6 L405.2,1376.7 L407.1,1376.7 L408.9,1376.8 L410.7,1376.9 L412.5,1377 L414.3,1377.1 L416.1,1377.1 L417.9,1377.2 L419.7,1377.3 L421.5,1377.4 L423.3,1377.5 L425.1,1377.6 L426.9,1377.8 L428.8,1377.9 L430.6,1378 L432.4,1378.1 L434.2,1378.3 L436,1378.4 L437.8,1378.6 L439.6,1378.7 L441.4,1378.9 L443.2,1379 L445,1379.2 L446.8,1379.4 L448.6,1379.6 L450.4,1379.8 L452.3,1380 L454.1,1380.2 L455.9,1380.4 L457.7,1380.7 L459.5,1380.9 L461.3,1381.2 L463.1,1381.4 L464.9,1381.7 L466.7,1382 L468.5,1382.3 L470.3,1382.6 L472.1,1382.9 L474,1383.3 L475.8,1383.6 L477.6,1384 L479.4,1384.4 L481.2,1384.8 L483,1385.2 L484.8,1385.6 L486.6,1386.1 L488.4,1386.6 L490.2,1387 L492,1387.6 L493.9,1388.1 L495.7,1388.6 L497.5,1389.2 L499.3,1389.8 L501.1,1390.4 L502.9,1391.1 L504.7,1391.7 L506.5,1392.4 L508.3,1393.2 L510.1,1393.9 L511.9,1394.7 L513.7,1395.5 L515.5,1396.4 L517.4,1397.2 L519.2,1398.2 L521,1399.1 L522.8,1400.1 L524.6,1401.1 L526.4,1402.1 L528.2,1403.2 L530,1404.4 L531.8,1405.5 L533.6,1406.8 L535.4,1408 L537.2,1409.3 L539.1,1410.7 L540.9,1412.1 L542.7,1413.5 L544.5,1415 L546.3,1416.5 L548.1,1418.1 L549.9,1419.8 L551.7,1421.5 L553.5,1423.2 L555.3,1425 L557.1,1426.9 L559,1428.8 L560.8,1430.8 L562.6,1432.8 L564.4,1434.9 L566.2,1437.1 L568,1439.3 L569.8,1441.6 L571.6,1443.9 L573.4,1446.3 L575.2,1448.8 L577,1451.3 L578.8,1453.9 L580.6,1456.6 L582.5,1459.3 L584.3,1462.1 L586.1,1465 L587.9,1467.9 L589.7,1470.9 L591.5,1474 L593.3,1477.1 L595.1,1480.3 L596.9,1483.6 L598.7,1486.9 L600.5,1490.3 L602.4,1493.8 L604.2,1497.3 L606,1501 L607.8,1504.6 L609.6,1508.4 L611.4,1512.2 L613.2,1516 L615,1519.9 L616.8,1523.9 L618.6,1528 L620.4,1532.1 L622.2,1536.3 L624,1540.5 L625.9,1544.8 L627.7,1549.1 L629.5,1553.5 L631.3,1558 L633.1,1562.5 L634.9,1567.1 L636.7,1571.7 L638.5,1576.3 L640.3,1581.1 L642.1,1585.8 L643.9,1590.6 L645.8,1595.5 L647.6,1600.4 L649.4,1605.4 L651.2,1610.4 L653,1615.4 L654.8,1620.5 L656.6,1625.6 L658.4,1630.7 L660.2,1635.9 L662,1641.2 L663.8,1646.4 L665.6,1651.7 L667.5,1657 L669.3,1662.4 L671.1,1667.8 L672.9,1673.2 L674.7,1678.7 L676.5,1684.2 L678.3,1689.7 L680.1,1695.2 L681.9,1700.8 L683.7,1706.4 L685.5,1707.3" stroke="#3526F5" stroke-width="4.2" fill="none" stroke-linejoin="round" stroke-linecap="round" />
<path d="M266,1382.7 L267.8,1382.7 L269.6,1382.7 L271.4,1382.7 L273.2,1382.7 L275,1382.7 L276.9,1382.7 L278.7,1382.7 L280.5,1382.7 L282.3,1382.7 L284.1,1382.7 L285.9,1382.7 L287.7,1382.7 L289.5,1382.7 L291.3,1382.8 L293.1,1382.8 L294.9,1382.8 L296.7,1382.8 L298.6,1382.8 L300.4,1382.8 L302.2,1382.8 L304,1382.8 L305.8,1382.8 L307.6,1382.8 L309.4,1382.8 L311.2,1382.8 L313,1382.8 L314.8,1382.8 L316.6,1382.8 L318.4,1382.8 L320.2,1382.9 L322.1,1382.9 L323.9,1382.9 L325.7,1382.9 L327.5,1382.9 L329.3,1382.9 L331.1,1382.9 L332.9,1382.9 L334.7,1382.9 L336.5,1382.9 L338.3,1383 L340.1,1383 L341.9,1383 L343.8,1383 L345.6,1383 L347.4,1383 L349.2,1383 L351,1383.1 L352.8,1383.1 L354.6,1383.1 L356.4,1383.1 L358.2,1383.1 L360,1383.2 L361.8,1383.2 L363.6,1383.2 L365.5,1383.2 L367.3,1383.3 L369.1,1383.3 L370.9,1383.3 L372.7,1383.4 L374.5,1383.4 L376.3,1383.4 L378.1,1383.4 L379.9,1383.5 L381.7,1383.5 L383.5,1383.6 L385.4,1383.6 L387.2,1383.6 L389,1383.7 L390.8,1383.7 L392.6,1383.8 L394.4,1383.8 L396.2,1383.9 L398,1383.9 L399.8,1384 L401.6,1384.1 L403.4,1384.1 L405.2,1384.2 L407.1,1384.2 L408.9,1384.3 L410.7,1384.4 L412.5,1384.5 L414.3,1384.5 L416.1,1384.6 L417.9,1384.7 L419.7,1384.8 L421.5,1384.9 L423.3,1385 L425.1,1385.1 L426.9,1385.2 L428.8,1385.3 L430.6,1385.4 L432.4,1385.6 L434.2,1385.7 L436,1385.8 L437.8,1386 L439.6,1386.1 L441.4,1386.3 L443.2,1386.4 L445,1386.6 L446.8,1386.8 L448.6,1386.9 L450.4,1387.1 L452.3,1387.3 L454.1,1387.5 L455.9,1387.7 L457.7,1388 L459.5,1388.2 L461.3,1388.4 L463.1,1388.7 L464.9,1388.9 L466.7,1389.2 L468.5,1389.5 L470.3,1389.8 L472.1,1390.1 L474,1390.4 L475.8,1390.8 L477.6,1391.1 L479.4,1391.5 L481.2,1391.9 L483,1392.3 L484.8,1392.7 L486.6,1393.1 L488.4,1393.5 L490.2,1394 L492,1394.5 L493.9,1395 L495.7,1395.5 L497.5,1396.1 L499.3,1396.6 L501.1,1397.2 L502.9,1397.8 L504.7,1398.5 L506.5,1399.1 L508.3,1399.8 L510.1,1400.5 L511.9,1401.3 L513.7,1402.1 L515.5,1402.9 L517.4,1403.7 L519.2,1404.6 L521,1405.5 L522.8,1406.4 L524.6,1407.4 L526.4,1408.4 L528.2,1409.4 L530,1410.5 L531.8,1411.6 L533.6,1412.8 L535.4,1414 L537.2,1415.2 L539.1,1416.5 L540.9,1417.9 L542.7,1419.2 L544.5,1420.7 L546.3,1422.1 L548.1,1423.7 L549.9,1425.2 L551.7,1426.9 L553.5,1428.5 L555.3,1430.3 L557.1,1432.1 L559,1433.9 L560.8,1435.8 L562.6,1437.8 L564.4,1439.8 L566.2,1441.9 L568,1444 L569.8,1446.2 L571.6,1448.4 L573.4,1450.8 L575.2,1453.2 L577,1455.6 L578.8,1458.1 L580.6,1460.7 L582.5,1463.4 L584.3,1466.1 L586.1,1468.8 L587.9,1471.7 L589.7,1474.6 L591.5,1477.6 L593.3,1480.6 L595.1,1483.8 L596.9,1486.9 L598.7,1490.2 L600.5,1493.5 L602.4,1496.9 L604.2,1500.3 L606,1503.9 L607.8,1507.4 L609.6,1511.1 L611.4,1514.8 L613.2,1518.6 L615,1522.4 L616.8,1526.3 L618.6,1530.3 L620.4,1534.3 L622.2,1538.4 L624,1542.6 L625.9,1546.8 L627.7,1551.1 L629.5,1555.4 L631.3,1559.8 L633.1,1564.2 L634.9,1568.7 L636.7,1573.3 L638.5,1577.9 L640.3,1582.5 L642.1,1587.2 L643.9,1592 L645.8,1596.8 L647.6,1601.6 L649.4,1606.5 L651.2,1611.4 L653,1616.4 L654.8,1621.4 L656.6,1626.5 L658.4,1631.6 L660.2,1636.8 L662,1641.9 L663.8,1647.1 L665.6,1652.4 L667.5,1657.7 L669.3,1663 L671.1,1668.4 L672.9,1673.7 L674.7,1679.2 L676.5,1684.6 L678.3,1690.1 L680.1,1695.6 L681.9,1701.1 L683.7,1706.7 L685.5,1707.3" stroke="#F5276E" stroke-width="4.2" fill="none" stroke-linejoin="round" stroke-linecap="round" />
<circle cx="456" cy="1358.6" r="5.6" fill="none" stroke="#3526F5" stroke-width="3.4"/>
<circle cx="552" cy="1422.6" r="5.6" fill="none" stroke="#3526F5" stroke-width="3.4"/>
<circle cx="581.4" cy="1470.6" r="5.6" fill="none" stroke="#3526F5" stroke-width="3.4"/>
<circle cx="619.3" cy="1530.5" r="5.6" fill="none" stroke="#3526F5" stroke-width="3.4"/>
<circle cx="648" cy="1587.6" r="5.6" fill="none" stroke="#3526F5" stroke-width="3.4"/>
<circle cx="361" cy="1378.3" r="5.6" fill="none" stroke="#F5276E" stroke-width="3.4"/>
<circle cx="456" cy="1388.8" r="5.6" fill="none" stroke="#F5276E" stroke-width="3.4"/>
<circle cx="523.3" cy="1410" r="5.6" fill="none" stroke="#F5276E" stroke-width="3.4"/>
<circle cx="552" cy="1436.8" r="5.6" fill="none" stroke="#F5276E" stroke-width="3.4"/>
<circle cx="581.4" cy="1454.6" r="5.6" fill="none" stroke="#F5276E" stroke-width="3.4"/>
<circle cx="619.3" cy="1530" r="5.6" fill="none" stroke="#F5276E" stroke-width="3.4"/>
<circle cx="648" cy="1600" r="5.6" fill="none" stroke="#F5276E" stroke-width="3.4"/>
<line x1="1304.6" y1="1355" x2="1304.6" y2="1708.7" stroke="#000" stroke-width="4" />
<line x1="1277.8" y1="1377.7" x2="1304.6" y2="1377.7" stroke="#000" stroke-width="3.6" />
<line x1="1290" y1="1387.6" x2="1304.6" y2="1387.6" stroke="#000" stroke-width="3.6" />
<line x1="1290" y1="1398.7" x2="1304.6" y2="1398.7" stroke="#000" stroke-width="3.6" />
<line x1="1290" y1="1411.2" x2="1304.6" y2="1411.2" stroke="#000" stroke-width="3.6" />
<line x1="1290" y1="1425.7" x2="1304.6" y2="1425.7" stroke="#000" stroke-width="3.6" />
<line x1="1290" y1="1442.8" x2="1304.6" y2="1442.8" stroke="#000" stroke-width="3.6" />
<line x1="1290" y1="1463.8" x2="1304.6" y2="1463.8" stroke="#000" stroke-width="3.6" />
<line x1="1290" y1="1490.8" x2="1304.6" y2="1490.8" stroke="#000" stroke-width="3.6" />
<line x1="1290" y1="1528.9" x2="1304.6" y2="1528.9" stroke="#000" stroke-width="3.6" />
<line x1="1277.8" y1="1594" x2="1304.6" y2="1594" stroke="#000" stroke-width="3.6" />
<line x1="1290" y1="1603.9" x2="1304.6" y2="1603.9" stroke="#000" stroke-width="3.6" />
<line x1="1290" y1="1615" x2="1304.6" y2="1615" stroke="#000" stroke-width="3.6" />
<line x1="1290" y1="1627.5" x2="1304.6" y2="1627.5" stroke="#000" stroke-width="3.6" />
<line x1="1290" y1="1642" x2="1304.6" y2="1642" stroke="#000" stroke-width="3.6" />
<line x1="1290" y1="1659.1" x2="1304.6" y2="1659.1" stroke="#000" stroke-width="3.6" />
<line x1="1290" y1="1680.1" x2="1304.6" y2="1680.1" stroke="#000" stroke-width="3.6" />
<line x1="1290" y1="1707.1" x2="1304.6" y2="1707.1" stroke="#000" stroke-width="3.6" />
<text x="1268" y="1392" font-size="40" fill="#000" stroke="#000" stroke-width="0.7" text-anchor="end" transform="translate(1268 1392) scale(1 1.035) translate(-1268 -1392)" >1</text>
<text x="1268" y="1608.3" font-size="40" fill="#000" stroke="#000" stroke-width="0.7" text-anchor="end" transform="translate(1268 1608.3) scale(1 1.035) translate(-1268 -1608.3)" >0.1</text>
<text x="1285.5" y="1434.9" font-size="26" fill="#000" stroke="#000" stroke-width="0.7" text-anchor="end" transform="translate(1285.5 1434.9) scale(1 1.035) translate(-1285.5 -1434.9)" >6</text>
<text x="1285.5" y="1473" font-size="26" fill="#000" stroke="#000" stroke-width="0.7" text-anchor="end" transform="translate(1285.5 1473) scale(1 1.035) translate(-1285.5 -1473)" >4</text>
<text x="1285.5" y="1538.1" font-size="26" fill="#000" stroke="#000" stroke-width="0.7" text-anchor="end" transform="translate(1285.5 1538.1) scale(1 1.035) translate(-1285.5 -1538.1)" >2</text>
<text x="1285.5" y="1651.2" font-size="26" fill="#000" stroke="#000" stroke-width="0.7" text-anchor="end" transform="translate(1285.5 1651.2) scale(1 1.035) translate(-1285.5 -1651.2)" >6</text>
<text x="1285.5" y="1689.3" font-size="26" fill="#000" stroke="#000" stroke-width="0.7" text-anchor="end" transform="translate(1285.5 1689.3) scale(1 1.035) translate(-1285.5 -1689.3)" >4</text>
<path d="M1319.4,1742.5 V1718.3 H1356.9" stroke="#000" stroke-width="4" fill="none" stroke-linejoin="miter" stroke-linecap="butt" />
<line x1="1383.5" y1="1718.3" x2="1738" y2="1718.3" stroke="#000" stroke-width="4" />
<line x1="1412.5" y1="1716.3" x2="1412.5" y2="1744.7" stroke="#000" stroke-width="4" />
<line x1="1508.4" y1="1716.3" x2="1508.4" y2="1744.7" stroke="#000" stroke-width="4" />
<line x1="1604.5" y1="1716.3" x2="1604.5" y2="1744.7" stroke="#000" stroke-width="4" />
<line x1="1701" y1="1716.3" x2="1701" y2="1744.7" stroke="#000" stroke-width="4" />
<line x1="1345.5" y1="1730.7" x2="1373.4" y2="1708.1" stroke="#000" stroke-width="3.4" />
<line x1="1361.2" y1="1732.9" x2="1389.6" y2="1710.3" stroke="#000" stroke-width="3.4" />
<text x="1323.1" y="1818" font-size="40" fill="#000" stroke="#000" stroke-width="0.7" text-anchor="middle" transform="translate(1323.1 1818) scale(1 1.035) translate(-1323.1 -1818)" >0</text>
<text x="1411.8" y="1816" font-size="40" fill="#000" stroke="#000" stroke-width="0.7" text-anchor="middle" transform="translate(1411.8 1816) scale(1 1.035) translate(-1411.8 -1816)">10<tspan font-size="27.5" dy="-26.3">1</tspan></text>
<text x="1604.5" y="1816" font-size="40" fill="#000" stroke="#000" stroke-width="0.7" text-anchor="middle" transform="translate(1604.5 1816) scale(1 1.035) translate(-1604.5 -1816)">10<tspan font-size="27.5" dy="-26.3">3</tspan></text>
<text x="1537" y="1877" font-size="40" fill="#000" stroke="#000" stroke-width="0.7" text-anchor="middle" transform="translate(1537 1877) scale(1 1.035) translate(-1537 -1877)" >Background (R*/cone/s)</text>
<text x="1192.5" y="1541" font-size="40" fill="#000" stroke="#000" stroke-width="0.7" text-anchor="middle" transform="rotate(-90 1192.5 1541) translate(1192.5 1541) scale(1 1.035) translate(-1192.5 -1541)">Norm. Gain (Area)</text>
<text x="1347.5" y="1607" font-size="40" fill="#F5276E" stroke="#F5276E" stroke-width="0.7" text-anchor="start" transform="translate(1347.5 1607) scale(1 1.035) translate(-1347.5 -1607)" >Fovea</text>
<text x="1347.5" y="1660" font-size="40" fill="#3526F5" stroke="#3526F5" stroke-width="0.7" text-anchor="start" transform="translate(1347.5 1660) scale(1 1.035) translate(-1347.5 -1660)" >Periphery</text>
<path d="M1318.4,1368.1 L1320.1,1368.1 L1321.9,1368.1 L1323.6,1368.1 L1325.4,1368.1 L1327.1,1368.1 L1328.9,1368.1 L1330.6,1368.1 L1332.4,1368.1 L1334.1,1368.1 L1335.9,1368.2 L1337.6,1368.2 L1339.4,1368.2 L1341.1,1368.2 L1342.9,1368.2 L1344.6,1368.2 L1346.4,1368.2 L1348.1,1368.2 L1349.9,1368.2 L1351.6,1368.2 L1353.4,1368.2 L1355.1,1368.3 L1356.9,1368.3 L1358.6,1368.3 L1360.4,1368.3 L1362.1,1368.3 L1363.9,1368.3 L1365.6,1368.3 L1367.4,1368.3 L1369.1,1368.4 L1370.9,1368.4 L1372.6,1368.4 L1374.3,1368.4 L1376.1,1368.4 L1377.8,1368.4 L1379.6,1368.5 L1381.3,1368.5 L1383.1,1368.5 L1384.8,1368.5 L1386.6,1368.6 L1388.3,1368.6 L1390.1,1368.6 L1391.8,1368.6 L1393.6,1368.7 L1395.3,1368.7 L1397.1,1368.7 L1398.8,1368.7 L1400.6,1368.8 L1402.3,1368.8 L1404.1,1368.8 L1405.8,1368.9 L1407.6,1368.9 L1409.3,1369 L1411.1,1369 L1412.8,1369 L1414.6,1369.1 L1416.3,1369.1 L1418.1,1369.2 L1419.8,1369.2 L1421.6,1369.3 L1423.3,1369.4 L1425,1369.4 L1426.8,1369.5 L1428.5,1369.5 L1430.3,1369.6 L1432,1369.7 L1433.8,1369.7 L1435.5,1369.8 L1437.3,1369.9 L1439,1370 L1440.8,1370.1 L1442.5,1370.1 L1444.3,1370.2 L1446,1370.3 L1447.8,1370.4 L1449.5,1370.5 L1451.3,1370.6 L1453,1370.7 L1454.8,1370.9 L1456.5,1371 L1458.3,1371.1 L1460,1371.2 L1461.8,1371.4 L1463.5,1371.5 L1465.3,1371.7 L1467,1371.8 L1468.8,1372 L1470.5,1372.1 L1472.3,1372.3 L1474,1372.5 L1475.8,1372.7 L1477.5,1372.9 L1479.2,1373.1 L1481,1373.3 L1482.7,1373.5 L1484.5,1373.8 L1486.2,1374 L1488,1374.2 L1489.7,1374.5 L1491.5,1374.8 L1493.2,1375 L1495,1375.3 L1496.7,1375.6 L1498.5,1375.9 L1500.2,1376.3 L1502,1376.6 L1503.7,1377 L1505.5,1377.3 L1507.2,1377.7 L1509,1378.1 L1510.7,1378.5 L1512.5,1378.9 L1514.2,1379.4 L1516,1379.8 L1517.7,1380.3 L1519.5,1380.8 L1521.2,1381.3 L1523,1381.8 L1524.7,1382.4 L1526.5,1382.9 L1528.2,1383.5 L1529.9,1384.1 L1531.7,1384.8 L1533.4,1385.4 L1535.2,1386.1 L1536.9,1386.8 L1538.7,1387.5 L1540.4,1388.3 L1542.2,1389 L1543.9,1389.8 L1545.7,1390.7 L1547.4,1391.5 L1549.2,1392.4 L1550.9,1393.3 L1552.7,1394.3 L1554.4,1395.2 L1556.2,1396.2 L1557.9,1397.3 L1559.7,1398.3 L1561.4,1399.4 L1563.2,1400.6 L1564.9,1401.7 L1566.7,1402.9 L1568.4,1404.2 L1570.2,1405.5 L1571.9,1406.8 L1573.7,1408.1 L1575.4,1409.5 L1577.2,1410.9 L1578.9,1412.4 L1580.7,1413.9 L1582.4,1415.4 L1584.1,1417 L1585.9,1418.6 L1587.6,1420.2 L1589.4,1421.9 L1591.1,1423.7 L1592.9,1425.5 L1594.6,1427.3 L1596.4,1429.1 L1598.1,1431 L1599.9,1433 L1601.6,1434.9 L1603.4,1437 L1605.1,1439 L1606.9,1441.1 L1608.6,1443.3 L1610.4,1445.4 L1612.1,1447.7 L1613.9,1449.9 L1615.6,1452.2 L1617.4,1454.6 L1619.1,1457 L1620.9,1459.4 L1622.6,1461.8 L1624.4,1464.3 L1626.1,1466.9 L1627.9,1469.4 L1629.6,1472.1 L1631.4,1474.7 L1633.1,1477.4 L1634.8,1480.1 L1636.6,1482.8 L1638.3,1485.6 L1640.1,1488.5 L1641.8,1491.3 L1643.6,1494.2 L1645.3,1497.1 L1647.1,1500 L1648.8,1503 L1650.6,1506 L1652.3,1509.1 L1654.1,1512.1 L1655.8,1515.2 L1657.6,1518.3 L1659.3,1521.5 L1661.1,1524.7 L1662.8,1527.8 L1664.6,1531.1 L1666.3,1534.3 L1668.1,1537.6 L1669.8,1540.9 L1671.6,1544.2 L1673.3,1547.5 L1675.1,1550.9 L1676.8,1554.2 L1678.6,1557.6 L1680.3,1561 L1682.1,1564.5 L1683.8,1567.9 L1685.5,1571.4 L1687.3,1574.9 L1689,1578.4 L1690.8,1581.9 L1692.5,1585.4 L1694.3,1588.9 L1696,1592.5 L1697.8,1596.1 L1699.5,1599.6 L1701.3,1603.2 L1703,1606.9 L1704.8,1610.5 L1706.5,1614.1 L1708.3,1617.7 L1710,1621.4 L1711.8,1625.1 L1713.5,1628.7 L1715.3,1632.4 L1717,1636.1 L1718.8,1639.8 L1720.5,1643.5 L1722.3,1647.2 L1724,1651 L1725.8,1654.7 L1727.5,1658.4 L1729.3,1662.2 L1731,1665.9 L1732.8,1669.7 L1734.5,1673.5 L1736.3,1677.3 L1738,1681" stroke="#3526F5" stroke-width="4.2" fill="none" stroke-linejoin="round" stroke-linecap="round" />
<path d="M1318.4,1374.1 L1320.1,1374.1 L1321.9,1374.1 L1323.6,1374.1 L1325.4,1374.1 L1327.1,1374.1 L1328.9,1374.1 L1330.6,1374.1 L1332.4,1374.1 L1334.1,1374.1 L1335.9,1374.1 L1337.6,1374.1 L1339.4,1374.1 L1341.1,1374.1 L1342.9,1374.1 L1344.6,1374.1 L1346.4,1374.1 L1348.1,1374.1 L1349.9,1374.1 L1351.6,1374.1 L1353.4,1374.1 L1355.1,1374.1 L1356.9,1374.1 L1358.6,1374.1 L1360.4,1374.1 L1362.1,1374.1 L1363.9,1374.1 L1365.6,1374.2 L1367.4,1374.2 L1369.1,1374.2 L1370.9,1374.2 L1372.6,1374.2 L1374.3,1374.2 L1376.1,1374.2 L1377.8,1374.2 L1379.6,1374.2 L1381.3,1374.2 L1383.1,1374.2 L1384.8,1374.2 L1386.6,1374.2 L1388.3,1374.3 L1390.1,1374.3 L1391.8,1374.3 L1393.6,1374.3 L1395.3,1374.3 L1397.1,1374.3 L1398.8,1374.3 L1400.6,1374.3 L1402.3,1374.3 L1404.1,1374.4 L1405.8,1374.4 L1407.6,1374.4 L1409.3,1374.4 L1411.1,1374.4 L1412.8,1374.4 L1414.6,1374.5 L1416.3,1374.5 L1418.1,1374.5 L1419.8,1374.5 L1421.6,1374.5 L1423.3,1374.6 L1425,1374.6 L1426.8,1374.6 L1428.5,1374.6 L1430.3,1374.7 L1432,1374.7 L1433.8,1374.7 L1435.5,1374.7 L1437.3,1374.8 L1439,1374.8 L1440.8,1374.8 L1442.5,1374.9 L1444.3,1374.9 L1446,1374.9 L1447.8,1375 L1449.5,1375 L1451.3,1375.1 L1453,1375.1 L1454.8,1375.2 L1456.5,1375.2 L1458.3,1375.3 L1460,1375.3 L1461.8,1375.4 L1463.5,1375.4 L1465.3,1375.5 L1467,1375.6 L1468.8,1375.6 L1470.5,1375.7 L1472.3,1375.8 L1474,1375.8 L1475.8,1375.9 L1477.5,1376 L1479.2,1376.1 L1481,1376.2 L1482.7,1376.2 L1484.5,1376.3 L1486.2,1376.4 L1488,1376.5 L1489.7,1376.6 L1491.5,1376.8 L1493.2,1376.9 L1495,1377 L1496.7,1377.1 L1498.5,1377.2 L1500.2,1377.4 L1502,1377.5 L1503.7,1377.7 L1505.5,1377.8 L1507.2,1378 L1509,1378.1 L1510.7,1378.3 L1512.5,1378.5 L1514.2,1378.7 L1516,1378.9 L1517.7,1379.1 L1519.5,1379.3 L1521.2,1379.5 L1523,1379.7 L1524.7,1380 L1526.5,1380.2 L1528.2,1380.5 L1529.9,1380.7 L1531.7,1381 L1533.4,1381.3 L1535.2,1381.6 L1536.9,1381.9 L1538.7,1382.2 L1540.4,1382.6 L1542.2,1382.9 L1543.9,1383.3 L1545.7,1383.6 L1547.4,1384 L1549.2,1384.4 L1550.9,1384.8 L1552.7,1385.3 L1554.4,1385.7 L1556.2,1386.2 L1557.9,1386.7 L1559.7,1387.2 L1561.4,1387.7 L1563.2,1388.3 L1564.9,1388.8 L1566.7,1389.4 L1568.4,1390 L1570.2,1390.6 L1571.9,1391.3 L1573.7,1392 L1575.4,1392.6 L1577.2,1393.4 L1578.9,1394.1 L1580.7,1394.9 L1582.4,1395.7 L1584.1,1396.5 L1585.9,1397.3 L1587.6,1398.2 L1589.4,1399.1 L1591.1,1400.1 L1592.9,1401 L1594.6,1402 L1596.4,1403 L1598.1,1404.1 L1599.9,1405.2 L1601.6,1406.3 L1603.4,1407.5 L1605.1,1408.7 L1606.9,1409.9 L1608.6,1411.2 L1610.4,1412.5 L1612.1,1413.8 L1613.9,1415.2 L1615.6,1416.6 L1617.4,1418 L1619.1,1419.5 L1620.9,1421 L1622.6,1422.6 L1624.4,1424.2 L1626.1,1425.8 L1627.9,1427.5 L1629.6,1429.3 L1631.4,1431 L1633.1,1432.8 L1634.8,1434.7 L1636.6,1436.6 L1638.3,1438.5 L1640.1,1440.5 L1641.8,1442.5 L1643.6,1444.5 L1645.3,1446.6 L1647.1,1448.7 L1648.8,1450.9 L1650.6,1453.1 L1652.3,1455.4 L1654.1,1457.7 L1655.8,1460 L1657.6,1462.4 L1659.3,1464.8 L1661.1,1467.2 L1662.8,1469.7 L1664.6,1472.2 L1666.3,1474.8 L1668.1,1477.4 L1669.8,1480 L1671.6,1482.7 L1673.3,1485.4 L1675.1,1488.2 L1676.8,1490.9 L1678.6,1493.7 L1680.3,1496.6 L1682.1,1499.5 L1683.8,1502.4 L1685.5,1505.3 L1687.3,1508.3 L1689,1511.3 L1690.8,1514.3 L1692.5,1517.4 L1694.3,1520.4 L1696,1523.6 L1697.8,1526.7 L1699.5,1529.9 L1701.3,1533 L1703,1536.3 L1704.8,1539.5 L1706.5,1542.8 L1708.3,1546 L1710,1549.3 L1711.8,1552.7 L1713.5,1556 L1715.3,1559.4 L1717,1562.8 L1718.8,1566.2 L1720.5,1569.6 L1722.3,1573 L1724,1576.5 L1725.8,1580 L1727.5,1583.5 L1729.3,1587 L1731,1590.5 L1732.8,1594 L1734.5,1597.6 L1736.3,1601.2 L1738,1604.7" stroke="#F5276E" stroke-width="4.2" fill="none" stroke-linejoin="round" stroke-linecap="round" />
<circle cx="1508.4" cy="1361.8" r="5.6" fill="none" stroke="#3526F5" stroke-width="3.4"/>
<circle cx="1577" cy="1406.7" r="5.6" fill="none" stroke="#3526F5" stroke-width="3.4"/>
<circle cx="1604.5" cy="1447.4" r="5.6" fill="none" stroke="#3526F5" stroke-width="3.4"/>
<circle cx="1633.6" cy="1476.4" r="5.6" fill="none" stroke="#3526F5" stroke-width="3.4"/>
<circle cx="1671.6" cy="1535" r="5.6" fill="none" stroke="#3526F5" stroke-width="3.4"/>
<circle cx="1700.6" cy="1596.8" r="5.6" fill="none" stroke="#3526F5" stroke-width="3.4"/>
<circle cx="1577" cy="1392.5" r="5.6" fill="none" stroke="#F5276E" stroke-width="3.4"/>
<circle cx="1604.5" cy="1412" r="5.6" fill="none" stroke="#F5276E" stroke-width="3.4"/>
<circle cx="1633.6" cy="1429" r="5.6" fill="none" stroke="#F5276E" stroke-width="3.4"/>
<circle cx="1671.6" cy="1476.4" r="5.6" fill="none" stroke="#F5276E" stroke-width="3.4"/>
<circle cx="1700.6" cy="1529" r="5.6" fill="none" stroke="#F5276E" stroke-width="3.4"/>
<line x1="362" y1="2050" x2="362" y2="2414.6" stroke="#000" stroke-width="4" />
<line x1="335" y1="2117.4" x2="362" y2="2117.4" stroke="#000" stroke-width="4" />
<text x="322" y="2131.7" font-size="40" fill="#000" stroke="#000" stroke-width="0.7" text-anchor="end" transform="translate(322 2131.7) scale(1 1.035) translate(-322 -2131.7)" >5000</text>
<line x1="348" y1="2258" x2="362" y2="2258" stroke="#000" stroke-width="4" />
<line x1="335" y1="2400" x2="362" y2="2400" stroke="#000" stroke-width="4" />
<text x="322" y="2414.3" font-size="40" fill="#000" stroke="#000" stroke-width="0.7" text-anchor="end" transform="translate(322 2414.3) scale(1 1.035) translate(-322 -2414.3)" >0</text>
<line x1="360" y1="2412.7" x2="555" y2="2412.7" stroke="#000" stroke-width="4" />
<line x1="374.8" y1="2410.7" x2="374.8" y2="2440" stroke="#000" stroke-width="4" />
<line x1="464" y1="2410.7" x2="464" y2="2440" stroke="#000" stroke-width="4" />
<line x1="553" y1="2410.7" x2="553" y2="2440" stroke="#000" stroke-width="4" />
<text x="387" y="2486.7" font-size="40" fill="#F5276E" stroke="#F5276E" stroke-width="0.7" text-anchor="start" transform="translate(387 2486.7) scale(1 1.035) translate(-387 -2486.7)" >Fov</text>
<text x="479" y="2486.7" font-size="40" fill="#3526F5" stroke="#3526F5" stroke-width="0.7" text-anchor="start" transform="translate(479 2486.7) scale(1 1.035) translate(-479 -2486.7)" >Peri</text>
<text x="207.6" y="2204" font-size="40" fill="#000" stroke="#000" stroke-width="0.7" text-anchor="middle" transform="rotate(-90 207.6 2204) translate(207.6 2204) scale(1 1.035) translate(-207.6 -2204)">Half Max Gain<tspan font-size="27" dy="8.6">Peak Amp</tspan><tspan dy="-8.6"> (R*)</tspan></text>
<circle cx="420.1" cy="2148.2" r="5.8" fill="none" stroke="#F2B9D5" stroke-width="3.6"/>
<circle cx="420.1" cy="2159.8" r="5.8" fill="none" stroke="#F2B9D5" stroke-width="3.6"/>
<circle cx="420.1" cy="2188.7" r="5.8" fill="none" stroke="#F2B9D5" stroke-width="3.6"/>
<circle cx="420.1" cy="2207.5" r="5.8" fill="none" stroke="#F2B9D5" stroke-width="3.6"/>
<circle cx="420.1" cy="2226.4" r="5.8" fill="none" stroke="#F2B9D5" stroke-width="3.6"/>
<circle cx="420.1" cy="2230.3" r="5.8" fill="none" stroke="#F2B9D5" stroke-width="3.6"/>
<circle cx="420.1" cy="2234.1" r="5.8" fill="none" stroke="#F2B9D5" stroke-width="3.6"/>
<circle cx="420.1" cy="2238" r="5.8" fill="none" stroke="#F2B9D5" stroke-width="3.6"/>
<circle cx="420.1" cy="2248" r="5.8" fill="none" stroke="#F2B9D5" stroke-width="3.6"/>
<circle cx="420.1" cy="2253" r="5.8" fill="none" stroke="#F2B9D5" stroke-width="3.6"/>
<circle cx="420.1" cy="2258" r="5.8" fill="none" stroke="#F2B9D5" stroke-width="3.6"/>
<circle cx="420.1" cy="2265.4" r="5.8" fill="none" stroke="#F2B9D5" stroke-width="3.6"/>
<circle cx="420.1" cy="2269.4" r="5.8" fill="none" stroke="#F2B9D5" stroke-width="3.6"/>
<circle cx="420.1" cy="2273.4" r="5.8" fill="none" stroke="#F2B9D5" stroke-width="3.6"/>
<circle cx="420.1" cy="2277.3" r="5.8" fill="none" stroke="#F2B9D5" stroke-width="3.6"/>
<circle cx="420.1" cy="2281.3" r="5.8" fill="none" stroke="#F2B9D5" stroke-width="3.6"/>
<circle cx="420.1" cy="2297.2" r="5.8" fill="none" stroke="#F2B9D5" stroke-width="3.6"/>
<circle cx="420.1" cy="2339.2" r="5.8" fill="none" stroke="#F2B9D5" stroke-width="3.6"/>
<circle cx="420.1" cy="2349.3" r="5.8" fill="none" stroke="#F2B9D5" stroke-width="3.6"/>
<circle cx="420.1" cy="2353.7" r="5.8" fill="none" stroke="#F2B9D5" stroke-width="3.6"/>
<circle cx="420.1" cy="2363.8" r="5.8" fill="none" stroke="#F2B9D5" stroke-width="3.6"/>
<circle cx="508.6" cy="2075.9" r="5.8" fill="none" stroke="#BACDF6" stroke-width="3.6"/>
<circle cx="508.6" cy="2197.4" r="5.8" fill="none" stroke="#BACDF6" stroke-width="3.6"/>
<circle cx="508.6" cy="2207.5" r="5.8" fill="none" stroke="#BACDF6" stroke-width="3.6"/>
<circle cx="508.6" cy="2248.8" r="5.8" fill="none" stroke="#BACDF6" stroke-width="3.6"/>
<circle cx="508.6" cy="2257.4" r="5.8" fill="none" stroke="#BACDF6" stroke-width="3.6"/>
<circle cx="508.6" cy="2268.3" r="5.8" fill="none" stroke="#BACDF6" stroke-width="3.6"/>
<circle cx="508.6" cy="2272.6" r="5.8" fill="none" stroke="#BACDF6" stroke-width="3.6"/>
<circle cx="508.6" cy="2277" r="5.8" fill="none" stroke="#BACDF6" stroke-width="3.6"/>
<circle cx="508.6" cy="2306" r="5.8" fill="none" stroke="#BACDF6" stroke-width="3.6"/>
<circle cx="508.6" cy="2309.9" r="5.8" fill="none" stroke="#BACDF6" stroke-width="3.6"/>
<circle cx="508.6" cy="2313.9" r="5.8" fill="none" stroke="#BACDF6" stroke-width="3.6"/>
<circle cx="508.6" cy="2317.8" r="5.8" fill="none" stroke="#BACDF6" stroke-width="3.6"/>
<circle cx="508.6" cy="2321.7" r="5.8" fill="none" stroke="#BACDF6" stroke-width="3.6"/>
<circle cx="508.6" cy="2325.7" r="5.8" fill="none" stroke="#BACDF6" stroke-width="3.6"/>
<circle cx="508.6" cy="2329.6" r="5.8" fill="none" stroke="#BACDF6" stroke-width="3.6"/>
<circle cx="508.6" cy="2333.6" r="5.8" fill="none" stroke="#BACDF6" stroke-width="3.6"/>
<circle cx="508.6" cy="2337.5" r="5.8" fill="none" stroke="#BACDF6" stroke-width="3.6"/>
<circle cx="508.6" cy="2341.4" r="5.8" fill="none" stroke="#BACDF6" stroke-width="3.6"/>
<circle cx="508.6" cy="2345.4" r="5.8" fill="none" stroke="#BACDF6" stroke-width="3.6"/>
<circle cx="508.6" cy="2349.3" r="5.8" fill="none" stroke="#BACDF6" stroke-width="3.6"/>
<circle cx="508.6" cy="2359.4" r="5.8" fill="none" stroke="#BACDF6" stroke-width="3.6"/>
<circle cx="508.6" cy="2368.1" r="5.8" fill="none" stroke="#BACDF6" stroke-width="3.6"/>
<line x1="420.1" y1="2246.6" x2="420.1" y2="2274.8" stroke="#F5276E" stroke-width="3.8" />
<line x1="412.1" y1="2246.6" x2="428.1" y2="2246.6" stroke="#F5276E" stroke-width="3.8" />
<line x1="412.1" y1="2274.8" x2="428.1" y2="2274.8" stroke="#F5276E" stroke-width="3.8" />
<circle cx="420.1" cy="2260.3" r="7.4" fill="#F5276E" stroke="none" stroke-width="0"/>
<line x1="508.6" y1="2266.1" x2="508.6" y2="2304.5" stroke="#3526F5" stroke-width="3.8" />
<line x1="500.6" y1="2266.1" x2="516.6" y2="2266.1" stroke="#3526F5" stroke-width="3.8" />
<line x1="500.6" y1="2304.5" x2="516.6" y2="2304.5" stroke="#3526F5" stroke-width="3.8" />
<circle cx="508.6" cy="2285" r="7.4" fill="#3526F5" stroke="none" stroke-width="0"/>
<line x1="1426" y1="2044.3" x2="1426" y2="2411.5" stroke="#000" stroke-width="4" />
<line x1="1399" y1="2112.9" x2="1426" y2="2112.9" stroke="#000" stroke-width="4" />
<text x="1386" y="2127.2" font-size="40" fill="#000" stroke="#000" stroke-width="0.7" text-anchor="end" transform="translate(1386 2127.2) scale(1 1.035) translate(-1386 -2127.2)" >5000</text>
<line x1="1412" y1="2254.6" x2="1426" y2="2254.6" stroke="#000" stroke-width="4" />
<line x1="1399" y1="2396" x2="1426" y2="2396" stroke="#000" stroke-width="4" />
<text x="1386" y="2410.3" font-size="40" fill="#000" stroke="#000" stroke-width="0.7" text-anchor="end" transform="translate(1386 2410.3) scale(1 1.035) translate(-1386 -2410.3)" >0</text>
<line x1="1424" y1="2410" x2="1619" y2="2410" stroke="#000" stroke-width="4" />
<line x1="1438.7" y1="2408" x2="1438.7" y2="2436.5" stroke="#000" stroke-width="4" />
<line x1="1528" y1="2408" x2="1528" y2="2436.5" stroke="#000" stroke-width="4" />
<line x1="1617" y1="2408" x2="1617" y2="2436.5" stroke="#000" stroke-width="4" />
<text x="1451" y="2483" font-size="40" fill="#F5276E" stroke="#F5276E" stroke-width="0.7" text-anchor="start" transform="translate(1451 2483) scale(1 1.035) translate(-1451 -2483)" >Fov</text>
<text x="1543" y="2483" font-size="40" fill="#3526F5" stroke="#3526F5" stroke-width="0.7" text-anchor="start" transform="translate(1543 2483) scale(1 1.035) translate(-1543 -2483)" >Peri</text>
<text x="1280" y="2222" font-size="40" fill="#000" stroke="#000" stroke-width="0.7" text-anchor="middle" transform="rotate(-90 1280 2222) translate(1280 2222) scale(1 1.035) translate(-1280 -2222)">Half Max Gain<tspan font-size="27" dy="8.6">Area</tspan><tspan dy="-8.6"> (R*)</tspan></text>
<line x1="1486.7" y1="2054.8" x2="1575" y2="2054.8" stroke="#000" stroke-width="3.2" />
<text x="1531" y="2065.1" font-size="37" fill="#000" stroke="#000" stroke-width="0.7" text-anchor="middle" transform="translate(1531 2065.1) scale(1 1.035) translate(-1531 -2065.1)" >**</text>
<circle cx="1483.9" cy="2085.2" r="5.8" fill="none" stroke="#F2B9D5" stroke-width="3.6"/>
<circle cx="1483.9" cy="2142.3" r="5.8" fill="none" stroke="#F2B9D5" stroke-width="3.6"/>
<circle cx="1483.9" cy="2177" r="5.8" fill="none" stroke="#F2B9D5" stroke-width="3.6"/>
<circle cx="1483.9" cy="2219" r="5.8" fill="none" stroke="#F2B9D5" stroke-width="3.6"/>
<circle cx="1483.9" cy="2223.3" r="5.8" fill="none" stroke="#F2B9D5" stroke-width="3.6"/>
<circle cx="1483.9" cy="2234.9" r="5.8" fill="none" stroke="#F2B9D5" stroke-width="3.6"/>
<circle cx="1483.9" cy="2248" r="5.8" fill="none" stroke="#F2B9D5" stroke-width="3.6"/>
<circle cx="1483.9" cy="2262" r="5.8" fill="none" stroke="#F2B9D5" stroke-width="3.6"/>
<circle cx="1483.9" cy="2275.4" r="5.8" fill="none" stroke="#F2B9D5" stroke-width="3.6"/>
<circle cx="1483.9" cy="2291.3" r="5.8" fill="none" stroke="#F2B9D5" stroke-width="3.6"/>
<circle cx="1483.9" cy="2308.7" r="5.8" fill="none" stroke="#F2B9D5" stroke-width="3.6"/>
<circle cx="1483.9" cy="2321.7" r="5.8" fill="none" stroke="#F2B9D5" stroke-width="3.6"/>
<circle cx="1483.9" cy="2324.6" r="5.8" fill="none" stroke="#F2B9D5" stroke-width="3.6"/>
<circle cx="1483.9" cy="2327.5" r="5.8" fill="none" stroke="#F2B9D5" stroke-width="3.6"/>
<circle cx="1483.9" cy="2347.7" r="5.8" fill="none" stroke="#F2B9D5" stroke-width="3.6"/>
<circle cx="1483.9" cy="2362.2" r="5.8" fill="none" stroke="#F2B9D5" stroke-width="3.6"/>
<circle cx="1483.9" cy="2376.7" r="5.8" fill="none" stroke="#F2B9D5" stroke-width="3.6"/>
<circle cx="1572.9" cy="2145.2" r="5.8" fill="none" stroke="#BACDF6" stroke-width="3.6"/>
<circle cx="1572.9" cy="2185" r="5.8" fill="none" stroke="#BACDF6" stroke-width="3.6"/>
<circle cx="1572.9" cy="2238.5" r="5.8" fill="none" stroke="#BACDF6" stroke-width="3.6"/>
<circle cx="1572.9" cy="2258.8" r="5.8" fill="none" stroke="#BACDF6" stroke-width="3.6"/>
<circle cx="1572.9" cy="2301.4" r="5.8" fill="none" stroke="#BACDF6" stroke-width="3.6"/>
<circle cx="1572.9" cy="2340.5" r="5.8" fill="none" stroke="#BACDF6" stroke-width="3.6"/>
<circle cx="1572.9" cy="2344.7" r="5.8" fill="none" stroke="#BACDF6" stroke-width="3.6"/>
<circle cx="1572.9" cy="2348.9" r="5.8" fill="none" stroke="#BACDF6" stroke-width="3.6"/>
<circle cx="1572.9" cy="2353" r="5.8" fill="none" stroke="#BACDF6" stroke-width="3.6"/>
<circle cx="1572.9" cy="2357.2" r="5.8" fill="none" stroke="#BACDF6" stroke-width="3.6"/>
<circle cx="1572.9" cy="2361.4" r="5.8" fill="none" stroke="#BACDF6" stroke-width="3.6"/>
<circle cx="1572.9" cy="2365.6" r="5.8" fill="none" stroke="#BACDF6" stroke-width="3.6"/>
<circle cx="1572.9" cy="2369.7" r="5.8" fill="none" stroke="#BACDF6" stroke-width="3.6"/>
<circle cx="1572.9" cy="2373.9" r="5.8" fill="none" stroke="#BACDF6" stroke-width="3.6"/>
<circle cx="1572.9" cy="2378.1" r="5.8" fill="none" stroke="#BACDF6" stroke-width="3.6"/>
<line x1="1483.9" y1="2252.3" x2="1483.9" y2="2287.7" stroke="#F5276E" stroke-width="3.8" />
<line x1="1475.9" y1="2252.3" x2="1491.9" y2="2252.3" stroke="#F5276E" stroke-width="3.8" />
<line x1="1475.9" y1="2287.7" x2="1491.9" y2="2287.7" stroke="#F5276E" stroke-width="3.8" />
<circle cx="1483.9" cy="2269.6" r="7.4" fill="#F5276E" stroke="none" stroke-width="0"/>
<line x1="1572.9" y1="2318.1" x2="1572.9" y2="2338.3" stroke="#3526F5" stroke-width="3.8" />
<line x1="1564.9" y1="2318.1" x2="1580.9" y2="2318.1" stroke="#3526F5" stroke-width="3.8" />
<line x1="1564.9" y1="2338.3" x2="1580.9" y2="2338.3" stroke="#3526F5" stroke-width="3.8" />
<circle cx="1572.9" cy="2328.2" r="7.4" fill="#3526F5" stroke="none" stroke-width="0"/>
</svg>
</body></html>
